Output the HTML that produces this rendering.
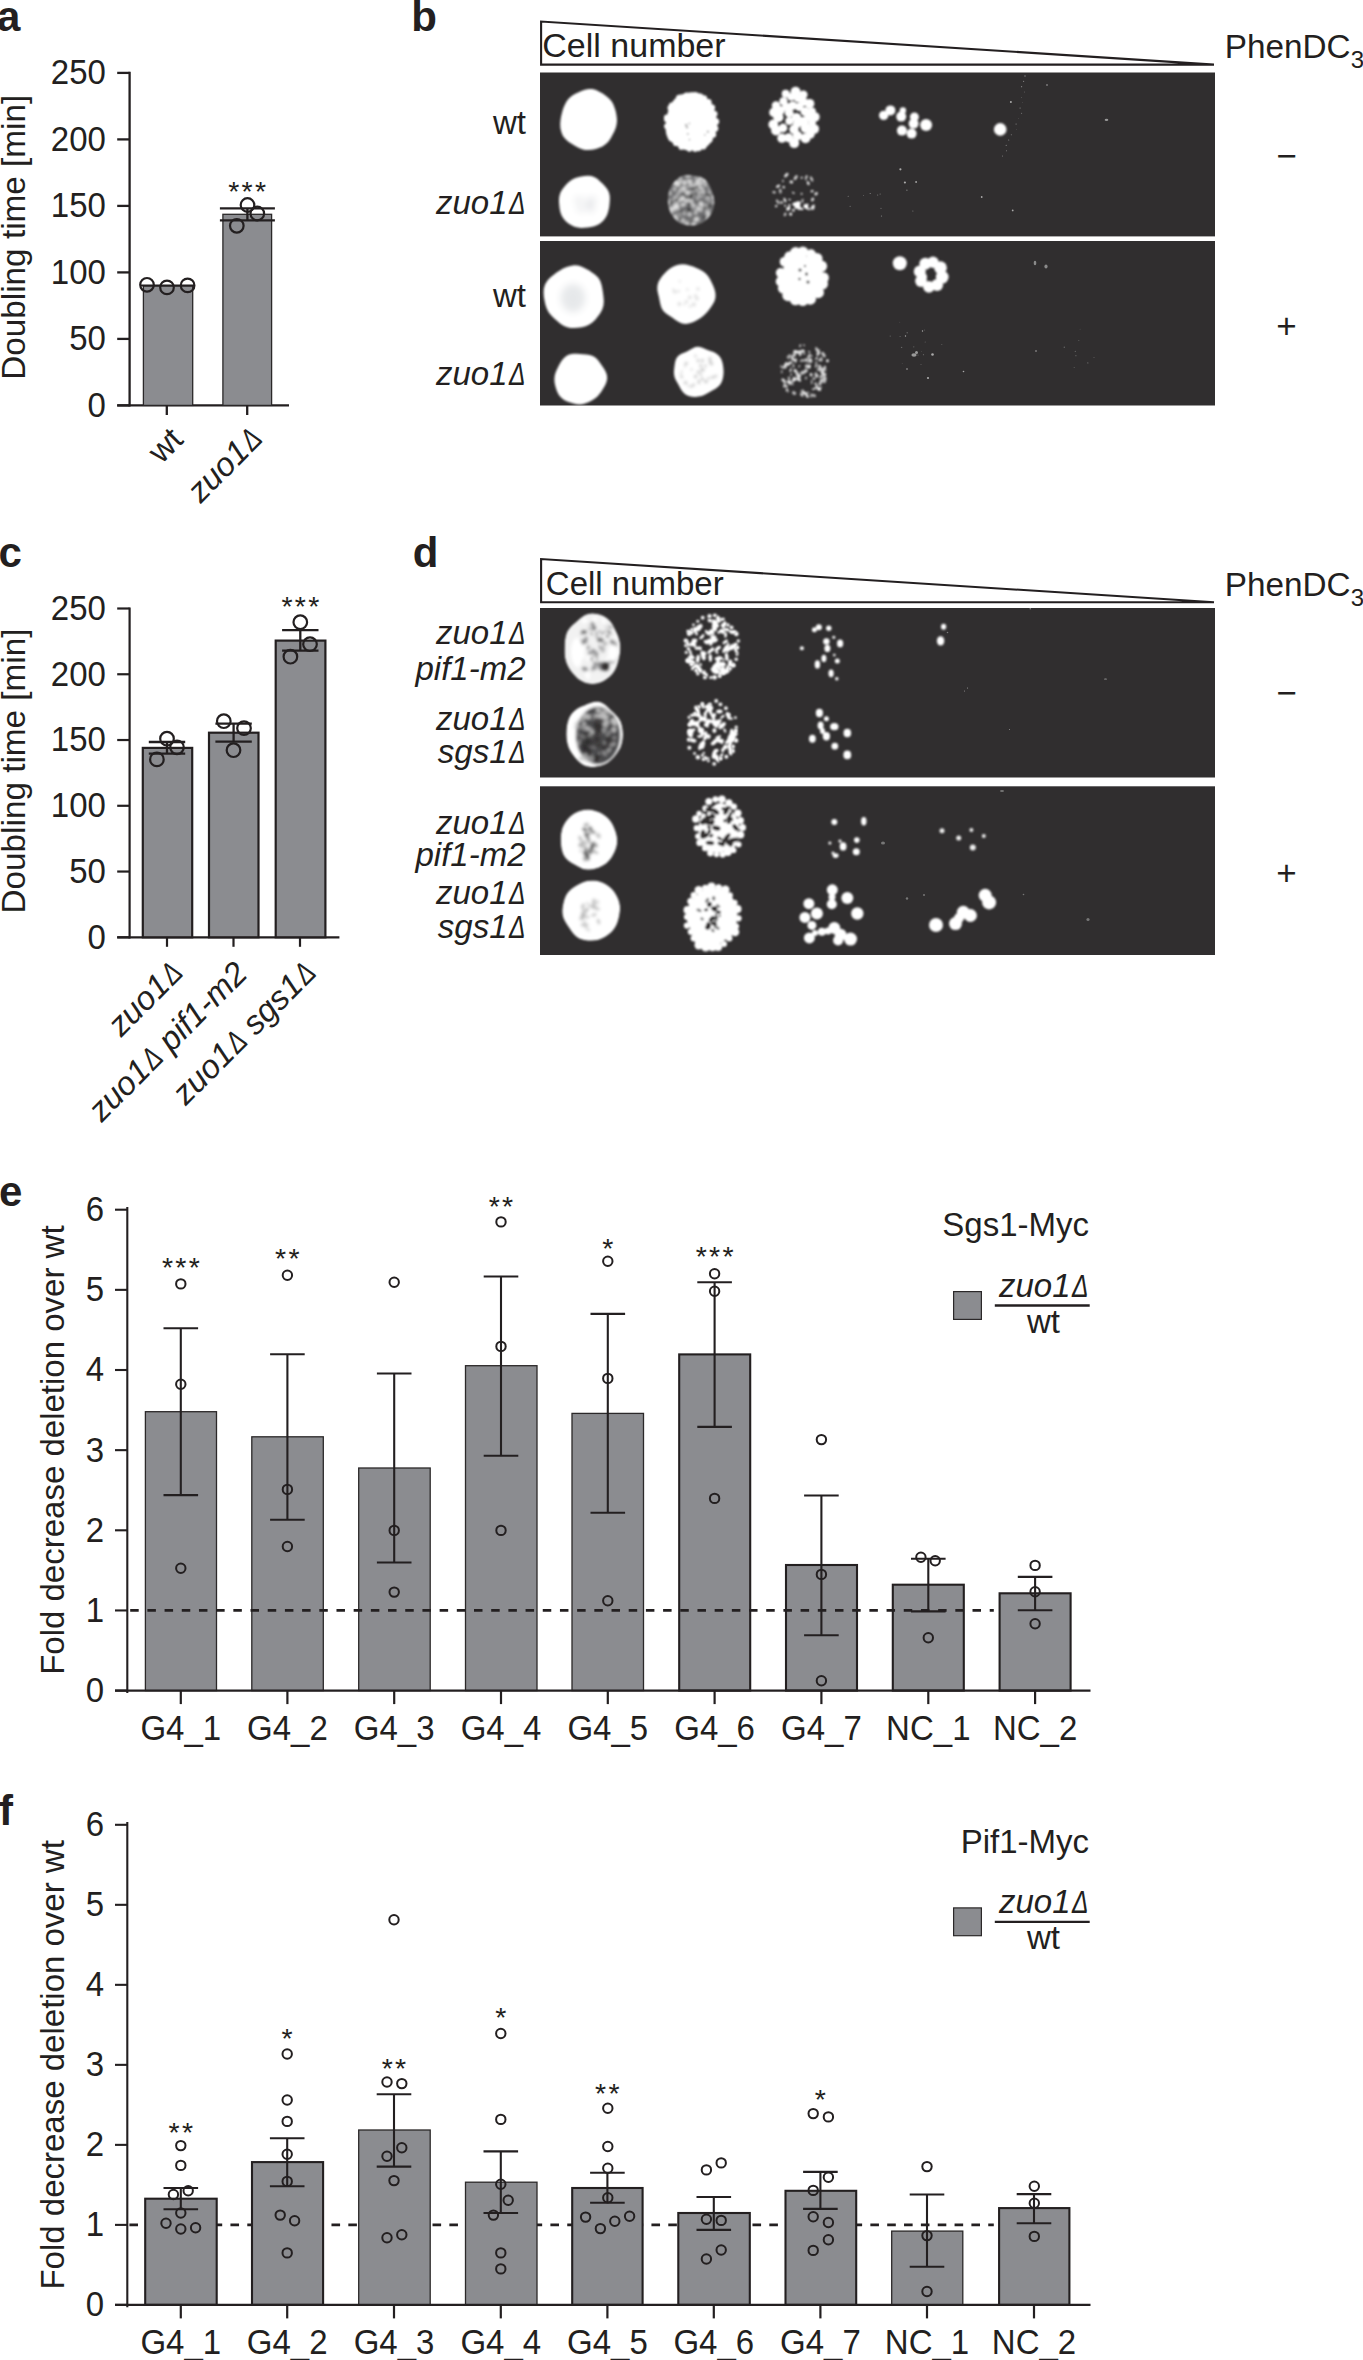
<!DOCTYPE html>
<html><head><meta charset="utf-8"><title>Figure</title>
<style>html,body{margin:0;padding:0;background:#fff}svg{display:block}text{font-family:"Liberation Sans",sans-serif;fill:#231f20}</style>
</head><body>
<svg width="1363" height="2360" viewBox="0 0 1363 2360">
<rect width="1363" height="2360" fill="#fff"/>
<text x="-2.9" y="30.9" font-size="42" font-weight="bold">a</text>
<text x="411.3" y="30.9" font-size="42" font-weight="bold">b</text>
<text x="-1.4" y="567.1" font-size="42" font-weight="bold">c</text>
<text x="412.7" y="567.1" font-size="42" font-weight="bold">d</text>
<text x="-0.9" y="1205.5" font-size="42" font-weight="bold">e</text>
<text x="-1.1" y="1824.8" font-size="42" font-weight="bold">f</text>
<line x1="129.6" y1="71.75" x2="129.6" y2="406.54999999999995" stroke="#231f20" stroke-width="2.3" />
<line x1="117.2" y1="405.4" x2="129.6" y2="405.4" stroke="#231f20" stroke-width="2.3" />
<text transform="translate(105.9 416.7) scale(1 1.045)" font-size="33" text-anchor="end">0</text>
<line x1="117.2" y1="338.9" x2="129.6" y2="338.9" stroke="#231f20" stroke-width="2.3" />
<text transform="translate(105.9 350.2) scale(1 1.045)" font-size="33" text-anchor="end">50</text>
<line x1="117.2" y1="272.4" x2="129.6" y2="272.4" stroke="#231f20" stroke-width="2.3" />
<text transform="translate(105.9 283.7) scale(1 1.045)" font-size="33" text-anchor="end">100</text>
<line x1="117.2" y1="205.89999999999998" x2="129.6" y2="205.89999999999998" stroke="#231f20" stroke-width="2.3" />
<text transform="translate(105.9 217.2) scale(1 1.045)" font-size="33" text-anchor="end">150</text>
<line x1="117.2" y1="139.39999999999998" x2="129.6" y2="139.39999999999998" stroke="#231f20" stroke-width="2.3" />
<text transform="translate(105.9 150.7) scale(1 1.045)" font-size="33" text-anchor="end">200</text>
<line x1="117.2" y1="72.89999999999998" x2="129.6" y2="72.89999999999998" stroke="#231f20" stroke-width="2.3" />
<text transform="translate(105.9 84.2) scale(1 1.045)" font-size="33" text-anchor="end">250</text>
<line x1="117.2" y1="405.4" x2="289" y2="405.4" stroke="#231f20" stroke-width="2.3" />
<text x="24.6" y="237.3" font-size="33.3" text-anchor="middle" transform="rotate(-90 24.6 237.3)" >Doubling time [min]</text>
<rect x="143.4" y="285.9" width="49.3" height="119.5" fill="#8b8c90" stroke="#2b2829" stroke-width="1.3"/>
<rect x="222.9" y="214.3" width="48.7" height="191.1" fill="#8b8c90" stroke="#2b2829" stroke-width="1.3"/>
<line x1="166.8" y1="405.4" x2="166.8" y2="415" stroke="#231f20" stroke-width="2.3" />
<line x1="247.2" y1="405.4" x2="247.2" y2="415" stroke="#231f20" stroke-width="2.3" />
<line x1="140.4" y1="285.4" x2="194" y2="285.4" stroke="#231f20" stroke-width="2" />
<circle cx="147" cy="284.8" r="6.8" fill="none" stroke="#231f20" stroke-width="2.2"/>
<circle cx="167" cy="287.4" r="6.8" fill="none" stroke="#231f20" stroke-width="2.2"/>
<circle cx="187.6" cy="285.4" r="6.8" fill="none" stroke="#231f20" stroke-width="2.2"/>
<line x1="219.9" y1="208.3" x2="274.9" y2="208.3" stroke="#231f20" stroke-width="2.3" />
<line x1="219.9" y1="220.4" x2="274.9" y2="220.4" stroke="#231f20" stroke-width="2.3" />
<line x1="247.4" y1="208.3" x2="247.4" y2="220.4" stroke="#231f20" stroke-width="2.3" />
<circle cx="247.5" cy="205" r="6.8" fill="none" stroke="#231f20" stroke-width="2.2"/>
<circle cx="257.3" cy="213.5" r="6.8" fill="none" stroke="#231f20" stroke-width="2.2"/>
<circle cx="236.8" cy="225.8" r="6.8" fill="none" stroke="#231f20" stroke-width="2.2"/>
<text x="248.3" y="200.5" font-size="28.5" text-anchor="middle" letter-spacing="2.3">***</text>
<text x="184.8" y="441.4" font-size="33" text-anchor="end" transform="rotate(-45 184.8 441.4)" >wt</text>
<text x="264" y="440.7" font-size="33" text-anchor="end" transform="rotate(-45 264 440.7)" font-style="italic">zuo1<tspan font-size="31" dx="1.5" textLength="16.5" lengthAdjust="spacingAndGlyphs">Δ</tspan></text>
<line x1="129.6" y1="607.4" x2="129.6" y2="938.4" stroke="#231f20" stroke-width="2.2" />
<line x1="117.2" y1="937.3" x2="129.6" y2="937.3" stroke="#231f20" stroke-width="2.2" />
<text transform="translate(105.9 948.6) scale(1 1.045)" font-size="33" text-anchor="end">0</text>
<line x1="117.2" y1="871.54" x2="129.6" y2="871.54" stroke="#231f20" stroke-width="2.2" />
<text transform="translate(105.9 882.8) scale(1 1.045)" font-size="33" text-anchor="end">50</text>
<line x1="117.2" y1="805.78" x2="129.6" y2="805.78" stroke="#231f20" stroke-width="2.2" />
<text transform="translate(105.9 817.1) scale(1 1.045)" font-size="33" text-anchor="end">100</text>
<line x1="117.2" y1="740.02" x2="129.6" y2="740.02" stroke="#231f20" stroke-width="2.2" />
<text transform="translate(105.9 751.3) scale(1 1.045)" font-size="33" text-anchor="end">150</text>
<line x1="117.2" y1="674.26" x2="129.6" y2="674.26" stroke="#231f20" stroke-width="2.2" />
<text transform="translate(105.9 685.6) scale(1 1.045)" font-size="33" text-anchor="end">200</text>
<line x1="117.2" y1="608.5" x2="129.6" y2="608.5" stroke="#231f20" stroke-width="2.2" />
<text transform="translate(105.9 619.8) scale(1 1.045)" font-size="33" text-anchor="end">250</text>
<line x1="117.2" y1="937.3" x2="339.4" y2="937.3" stroke="#231f20" stroke-width="2.2" />
<text x="24.6" y="771" font-size="33.3" text-anchor="middle" transform="rotate(-90 24.6 771)" >Doubling time [min]</text>
<rect x="142.8" y="747.9" width="49.4" height="189.4" fill="#8b8c90" stroke="#231f20" stroke-width="2.2"/>
<rect x="209" y="732.7" width="49.5" height="204.6" fill="#8b8c90" stroke="#231f20" stroke-width="2.2"/>
<rect x="275.7" y="640.6" width="49.7" height="296.7" fill="#8b8c90" stroke="#231f20" stroke-width="2.2"/>
<line x1="167" y1="937.3" x2="167" y2="946.8" stroke="#231f20" stroke-width="2.2" />
<line x1="233.5" y1="937.3" x2="233.5" y2="946.8" stroke="#231f20" stroke-width="2.2" />
<line x1="300" y1="937.3" x2="300" y2="946.8" stroke="#231f20" stroke-width="2.2" />
<line x1="148.8" y1="742" x2="185.2" y2="742" stroke="#231f20" stroke-width="2.3" />
<line x1="148.8" y1="753.7" x2="185.2" y2="753.7" stroke="#231f20" stroke-width="2.3" />
<line x1="167" y1="742" x2="167" y2="753.7" stroke="#231f20" stroke-width="2.3" />
<circle cx="167" cy="738.7" r="6.8" fill="none" stroke="#231f20" stroke-width="2.2"/>
<circle cx="177" cy="747.3" r="6.8" fill="none" stroke="#231f20" stroke-width="2.2"/>
<circle cx="156.9" cy="759.4" r="6.8" fill="none" stroke="#231f20" stroke-width="2.2"/>
<line x1="215.4" y1="723.6" x2="251.79999999999998" y2="723.6" stroke="#231f20" stroke-width="2.3" />
<line x1="215.4" y1="741.6" x2="251.79999999999998" y2="741.6" stroke="#231f20" stroke-width="2.3" />
<line x1="233.6" y1="723.6" x2="233.6" y2="741.6" stroke="#231f20" stroke-width="2.3" />
<circle cx="223.8" cy="721.2" r="6.8" fill="none" stroke="#231f20" stroke-width="2.2"/>
<circle cx="244" cy="728.2" r="6.8" fill="none" stroke="#231f20" stroke-width="2.2"/>
<circle cx="233.5" cy="750.2" r="6.8" fill="none" stroke="#231f20" stroke-width="2.2"/>
<line x1="282.1" y1="630.1" x2="318.5" y2="630.1" stroke="#231f20" stroke-width="2.3" />
<line x1="282.1" y1="650.6" x2="318.5" y2="650.6" stroke="#231f20" stroke-width="2.3" />
<line x1="300.3" y1="630.1" x2="300.3" y2="650.6" stroke="#231f20" stroke-width="2.3" />
<circle cx="300.3" cy="622.2" r="6.8" fill="none" stroke="#231f20" stroke-width="2.2"/>
<circle cx="310" cy="644.2" r="6.8" fill="none" stroke="#231f20" stroke-width="2.2"/>
<circle cx="290.4" cy="656.7" r="6.8" fill="none" stroke="#231f20" stroke-width="2.2"/>
<text x="301.5" y="615.7" font-size="28.5" text-anchor="middle" letter-spacing="2.3">***</text>
<text x="184.5" y="974.5" font-size="33" text-anchor="end" transform="rotate(-45 184.5 974.5)" font-style="italic">zuo1<tspan font-size="31" dx="1.5" textLength="16.5" lengthAdjust="spacingAndGlyphs">Δ</tspan></text>
<text x="249.3" y="975.4" font-size="33" text-anchor="end" transform="rotate(-45 249.3 975.4)" font-style="italic">zuo1<tspan font-size="31" dx="1.5" textLength="16.5" lengthAdjust="spacingAndGlyphs">Δ</tspan> pif1-m2</text>
<text x="317.7" y="974.5" font-size="33" text-anchor="end" transform="rotate(-45 317.7 974.5)" font-style="italic">zuo1<tspan font-size="31" dx="1.5" textLength="16.5" lengthAdjust="spacingAndGlyphs">Δ</tspan> sgs1<tspan font-size="31" dx="1.5" textLength="16.5" lengthAdjust="spacingAndGlyphs">Δ</tspan></text>
<polygon points="541.1,21.5 541.1,64.6 1214,64.6" fill="#fff" stroke="#231f20" stroke-width="2.1" stroke-linejoin="miter"/>
<text x="542.3" y="57.4" font-size="34" text-anchor="start" >Cell number</text>
<polygon points="541.1,559 541.1,602.3 1214,602.3" fill="#fff" stroke="#231f20" stroke-width="2.1" stroke-linejoin="miter"/>
<text x="545.8" y="595.2" font-size="33" text-anchor="start" >Cell number</text>
<text x="1224.8" y="57.8" font-size="33.3">PhenDC<tspan font-size="24" dy="10">3</tspan></text>
<text x="1224.8" y="595.6" font-size="33.3">PhenDC<tspan font-size="24" dy="10">3</tspan></text>
<text x="1276.2" y="167.6" font-size="35">−</text>
<text x="1276.2" y="705.3" font-size="35">−</text>
<text x="1276.2" y="337.9" font-size="35">+</text>
<text x="1276.2" y="884.6" font-size="35">+</text>
<text x="526" y="133.8" font-size="33" text-anchor="end" >wt</text>
<text x="525.5" y="213.7" font-size="33" text-anchor="end" font-style="italic">zuo1<tspan font-size="31" dx="1.5" textLength="16.5" lengthAdjust="spacingAndGlyphs">Δ</tspan></text>
<text x="526" y="307" font-size="33" text-anchor="end" >wt</text>
<text x="525.5" y="384.8" font-size="33" text-anchor="end" font-style="italic">zuo1<tspan font-size="31" dx="1.5" textLength="16.5" lengthAdjust="spacingAndGlyphs">Δ</tspan></text>
<text x="525.5" y="644.4" font-size="33" text-anchor="end" font-style="italic">zuo1<tspan font-size="31" dx="1.5" textLength="16.5" lengthAdjust="spacingAndGlyphs">Δ</tspan></text>
<text x="525.5" y="679.6" font-size="33" text-anchor="end" font-style="italic">pif1-m2</text>
<text x="525.5" y="729.6" font-size="33" text-anchor="end" font-style="italic">zuo1<tspan font-size="31" dx="1.5" textLength="16.5" lengthAdjust="spacingAndGlyphs">Δ</tspan></text>
<text x="525.5" y="763.4" font-size="33" text-anchor="end" font-style="italic">sgs1<tspan font-size="31" dx="1.5" textLength="16.5" lengthAdjust="spacingAndGlyphs">Δ</tspan></text>
<text x="525.5" y="833.5" font-size="33" text-anchor="end" font-style="italic">zuo1<tspan font-size="31" dx="1.5" textLength="16.5" lengthAdjust="spacingAndGlyphs">Δ</tspan></text>
<text x="525.5" y="866.2" font-size="33" text-anchor="end" font-style="italic">pif1-m2</text>
<text x="525.5" y="904.2" font-size="33" text-anchor="end" font-style="italic">zuo1<tspan font-size="31" dx="1.5" textLength="16.5" lengthAdjust="spacingAndGlyphs">Δ</tspan></text>
<text x="525.5" y="938.4" font-size="33" text-anchor="end" font-style="italic">sgs1<tspan font-size="31" dx="1.5" textLength="16.5" lengthAdjust="spacingAndGlyphs">Δ</tspan></text>
<rect x="540" y="72.5" width="675" height="163.9" fill="#302e2f"/>
<rect x="540" y="241" width="675" height="164.5" fill="#302e2f"/>
<rect x="540" y="608" width="675" height="169.5" fill="#302e2f"/>
<rect x="540" y="786.3" width="675" height="168.7" fill="#302e2f"/>
<defs><filter id="bl" x="-5%" y="-5%" width="110%" height="110%"><feGaussianBlur stdDeviation="0.8"/></filter><filter id="bl2" x="-50%" y="-50%" width="200%" height="200%"><feGaussianBlur stdDeviation="3.5"/></filter><filter id="bl1" x="-20%" y="-20%" width="140%" height="140%"><feGaussianBlur stdDeviation="1.1"/></filter></defs>
<clipPath id="lefthalf"><rect x="560" y="700" width="27" height="70"/></clipPath>
<clipPath id="pb1"><rect x="540" y="72.5" width="675" height="163.9"/></clipPath>
<clipPath id="pb2"><rect x="540" y="241" width="675" height="164.5"/></clipPath>
<clipPath id="pd1"><rect x="540" y="608" width="675" height="169.5"/></clipPath>
<clipPath id="pd2"><rect x="540" y="786.3" width="675" height="168.7"/></clipPath>
<g clip-path="url(#pb1)"><g filter="url(#bl)">
<path d="M617.0,119.9 616.7,123.9 615.8,127.7 614.3,131.4 612.6,134.8 610.7,138.2 608.5,141.4 605.9,144.1 602.7,146.3 599.3,147.8 595.8,148.9 592.2,149.7 588.6,150.1 584.9,149.9 581.4,149.0 578.0,147.5 574.8,145.7 571.6,143.8 568.4,141.7 565.4,139.1 562.9,135.9 561.3,132.1 560.4,128.0 560.2,123.9 560.5,119.9 561.2,116.0 562.1,112.2 563.2,108.6 564.7,105.0 566.5,101.6 568.8,98.5 571.6,96.0 574.8,94.1 578.1,92.5 581.4,91.1 584.9,89.8 588.6,89.0 592.4,89.1 596.0,90.1 599.4,91.7 602.7,93.6 605.8,95.8 608.8,98.2 611.4,101.1 613.4,104.5 614.8,108.2 615.9,112.0 616.6,115.9Z" fill="#fff"/>
<path d="M717.1,121.9 717.1,125.7 716.5,129.4 715.3,132.9 713.9,136.3 712.3,139.8 710.4,143.0 707.9,145.8 704.8,147.7 701.4,148.8 698.0,149.4 694.6,149.9 691.3,150.3 687.9,150.4 684.5,149.8 681.4,148.5 678.3,146.8 675.4,144.9 672.4,142.8 669.6,140.3 667.4,137.2 666.1,133.5 665.6,129.5 665.6,125.6 666.0,121.9 666.5,118.3 667.2,114.8 668.1,111.3 669.3,107.8 670.8,104.5 672.7,101.4 675.2,98.6 678.0,96.5 681.2,94.8 684.5,93.6 687.8,92.7 691.3,92.2 694.8,92.3 698.3,93.1 701.5,94.6 704.5,96.5 707.3,98.8 709.9,101.3 712.0,104.3 713.6,107.6 714.8,111.1 715.8,114.6 716.6,118.2Z" fill="#fff"/>
<circle cx="715.8" cy="121.6" r="3.4" fill="#fff"/>
<circle cx="715.1" cy="128.5" r="3.2" fill="#fff"/>
<circle cx="713.0" cy="134.6" r="3.2" fill="#fff"/>
<circle cx="709.8" cy="139.8" r="2.8" fill="#fff"/>
<circle cx="703.1" cy="145.8" r="3.6" fill="#fff"/>
<circle cx="698.4" cy="148.0" r="3.3" fill="#fff"/>
<circle cx="695.1" cy="148.9" r="2.8" fill="#fff"/>
<circle cx="689.4" cy="149.1" r="2.6" fill="#fff"/>
<circle cx="681.4" cy="146.9" r="2.9" fill="#fff"/>
<circle cx="676.0" cy="143.2" r="2.9" fill="#fff"/>
<circle cx="671.6" cy="138.1" r="3.4" fill="#fff"/>
<circle cx="670.8" cy="136.9" r="2.7" fill="#fff"/>
<circle cx="667.1" cy="126.2" r="3.0" fill="#fff"/>
<circle cx="666.9" cy="119.3" r="2.9" fill="#fff"/>
<circle cx="667.1" cy="117.7" r="3.2" fill="#fff"/>
<circle cx="670.3" cy="107.9" r="2.8" fill="#fff"/>
<circle cx="671.7" cy="105.5" r="2.9" fill="#fff"/>
<circle cx="679.3" cy="98.1" r="3.3" fill="#fff"/>
<circle cx="680.9" cy="97.2" r="2.8" fill="#fff"/>
<circle cx="686.4" cy="95.1" r="2.6" fill="#fff"/>
<circle cx="695.7" cy="95.0" r="2.7" fill="#fff"/>
<circle cx="700.3" cy="96.5" r="3.0" fill="#fff"/>
<circle cx="703.9" cy="98.5" r="3.3" fill="#fff"/>
<circle cx="708.4" cy="102.3" r="3.2" fill="#fff"/>
<circle cx="712.1" cy="107.4" r="3.0" fill="#fff"/>
<circle cx="714.7" cy="113.9" r="2.8" fill="#fff"/>
<circle cx="689.5" cy="139.7" r="0.9" fill="#bbb"/>
<circle cx="704.9" cy="134.8" r="0.9" fill="#bbb"/>
<circle cx="687.0" cy="127.2" r="1.3" fill="#bbb"/>
<circle cx="689.3" cy="123.5" r="0.9" fill="#bbb"/>
<circle cx="687.8" cy="134.0" r="1.1" fill="#bbb"/>
<circle cx="707.9" cy="131.7" r="1.2" fill="#bbb"/>
<circle cx="686.1" cy="125.1" r="1.4" fill="#bbb"/>
<circle cx="783.5" cy="101.3" r="4.1" fill="#fff"/>
<circle cx="812.0" cy="122.8" r="3.9" fill="#fff"/>
<circle cx="791.3" cy="96.8" r="3.9" fill="#fff"/>
<circle cx="783.0" cy="128.0" r="4.4" fill="#fff"/>
<circle cx="799.1" cy="106.7" r="4.3" fill="#fff"/>
<circle cx="797.5" cy="135.7" r="4.7" fill="#fff"/>
<circle cx="780.2" cy="110.6" r="4.6" fill="#fff"/>
<circle cx="798.0" cy="98.2" r="4.0" fill="#fff"/>
<circle cx="788.6" cy="137.7" r="4.5" fill="#fff"/>
<circle cx="803.4" cy="121.8" r="5.0" fill="#fff"/>
<circle cx="773.3" cy="124.5" r="4.9" fill="#fff"/>
<circle cx="794.0" cy="129.4" r="4.7" fill="#fff"/>
<circle cx="805.5" cy="138.2" r="5.0" fill="#fff"/>
<circle cx="805.5" cy="128.0" r="5.0" fill="#fff"/>
<circle cx="805.1" cy="111.6" r="4.6" fill="#fff"/>
<circle cx="776.1" cy="130.4" r="5.0" fill="#fff"/>
<circle cx="811.9" cy="111.4" r="4.0" fill="#fff"/>
<circle cx="778.4" cy="117.2" r="5.1" fill="#fff"/>
<circle cx="792.6" cy="105.7" r="4.4" fill="#fff"/>
<circle cx="809.6" cy="103.7" r="4.8" fill="#fff"/>
<circle cx="814.3" cy="129.0" r="4.8" fill="#fff"/>
<circle cx="789.3" cy="121.0" r="4.0" fill="#fff"/>
<circle cx="781.9" cy="138.2" r="4.6" fill="#fff"/>
<circle cx="814.9" cy="117.0" r="4.8" fill="#fff"/>
<circle cx="796.4" cy="117.6" r="4.7" fill="#fff"/>
<circle cx="803.4" cy="94.8" r="4.2" fill="#fff"/>
<circle cx="789.2" cy="112.9" r="4.4" fill="#fff"/>
<circle cx="810.4" cy="134.1" r="4.4" fill="#fff"/>
<circle cx="776.0" cy="105.4" r="4.2" fill="#fff"/>
<circle cx="794.2" cy="143.1" r="5.0" fill="#fff"/>
<circle cx="774.1" cy="112.4" r="4.9" fill="#fff"/>
<circle cx="795.6" cy="91.8" r="5.0" fill="#fff"/>
<circle cx="785.7" cy="93.7" r="4.0" fill="#fff"/>
<circle cx="803.4" cy="101.8" r="4.4" fill="#fff"/>
<circle cx="797.2" cy="123.8" r="4.3" fill="#fff"/>
<circle cx="808.3" cy="117.1" r="3.9" fill="#fff"/>
<circle cx="786.3" cy="106.9" r="4.2" fill="#fff"/>
<path d="M609.7,202.2 609.4,205.5 608.9,208.8 608.1,212.1 606.9,215.3 605.2,218.3 603.0,221.0 600.4,223.3 597.5,225.0 594.3,226.2 591.0,226.9 587.8,227.4 584.5,227.8 581.2,227.9 577.8,227.5 574.5,226.7 571.4,225.3 568.5,223.4 565.8,221.2 563.4,218.6 561.6,215.6 560.4,212.3 559.7,209.0 559.3,205.6 559.0,202.2 559.0,198.8 559.5,195.4 560.6,192.2 562.4,189.2 564.5,186.6 566.7,184.1 569.1,181.8 571.8,179.8 574.7,178.3 577.9,177.2 581.2,176.5 584.5,176.0 587.9,175.7 591.4,176.1 594.7,177.3 597.6,179.1 600.2,181.4 602.7,183.8 605.0,186.2 607.2,188.9 608.8,192.0 609.7,195.4 609.9,198.8Z" fill="#fff"/>
<g filter="url(#bl2)">
<circle cx="592.1" cy="200.1" r="3.6" fill="#dfe1e4" opacity="0.65"/>
<circle cx="589.1" cy="202.7" r="3.5" fill="#dfe1e4" opacity="0.72"/>
<circle cx="590.9" cy="208.1" r="3.9" fill="#dfe1e4" opacity="0.44"/>
<circle cx="589.9" cy="207.5" r="3.7" fill="#dfe1e4" opacity="0.67"/>
<circle cx="579.0" cy="200.4" r="4.3" fill="#dfe1e4" opacity="0.54"/>
<circle cx="580.7" cy="208.8" r="3.4" fill="#dfe1e4" opacity="0.67"/>
</g>
</g>
<clipPath id="cc1"><path d="M714.3,200.3 714.4,203.6 714.0,207.0 713.1,210.2 711.8,213.3 710.0,216.1 707.9,218.6 705.5,220.8 702.9,222.7 700.1,224.1 697.1,225.1 694.0,225.5 690.9,225.6 687.8,225.4 684.8,225.0 681.7,224.2 678.8,222.8 676.3,220.8 674.1,218.4 672.2,215.7 670.6,212.9 669.4,209.9 668.5,206.8 668.0,203.5 667.8,200.3 667.9,197.0 668.3,193.8 669.1,190.6 670.3,187.5 671.9,184.6 674.0,182.1 676.2,179.7 678.7,177.6 681.5,176.0 684.6,175.0 687.8,174.7 690.9,174.9 693.9,175.4 697.0,175.9 700.0,176.6 703.0,177.8 705.6,179.7 707.8,182.2 709.4,185.0 710.7,188.0 711.9,190.9 712.9,193.9 713.8,197.1Z"/></clipPath><g filter="url(#bl)"><g clip-path="url(#cc1)">
<path d="M714.3,200.3 714.4,203.6 714.0,207.0 713.1,210.2 711.8,213.3 710.0,216.1 707.9,218.6 705.5,220.8 702.9,222.7 700.1,224.1 697.1,225.1 694.0,225.5 690.9,225.6 687.8,225.4 684.8,225.0 681.7,224.2 678.8,222.8 676.3,220.8 674.1,218.4 672.2,215.7 670.6,212.9 669.4,209.9 668.5,206.8 668.0,203.5 667.8,200.3 667.9,197.0 668.3,193.8 669.1,190.6 670.3,187.5 671.9,184.6 674.0,182.1 676.2,179.7 678.7,177.6 681.5,176.0 684.6,175.0 687.8,174.7 690.9,174.9 693.9,175.4 697.0,175.9 700.0,176.6 703.0,177.8 705.6,179.7 707.8,182.2 709.4,185.0 710.7,188.0 711.9,190.9 712.9,193.9 713.8,197.1Z" fill="#6a6a6c"/>
<g filter="url(#bl)">
<circle cx="701.1" cy="204.8" r="1.3" fill="#e8e8e8" opacity="0.97"/>
<circle cx="696.6" cy="208.7" r="2.2" fill="#e8e8e8" opacity="0.77"/>
<circle cx="684.4" cy="213.9" r="1.5" fill="#e8e8e8" opacity="0.74"/>
<circle cx="687.4" cy="224.3" r="1.5" fill="#e8e8e8" opacity="0.66"/>
<circle cx="714.2" cy="202.4" r="1.6" fill="#e8e8e8"/>
<circle cx="699.3" cy="187.5" r="1.9" fill="#e8e8e8" opacity="0.85"/>
<circle cx="680.0" cy="177.8" r="1.7" fill="#e8e8e8" opacity="0.78"/>
<circle cx="692.9" cy="192.2" r="1.4" fill="#e8e8e8" opacity="0.62"/>
<circle cx="689.9" cy="214.5" r="1.2" fill="#e8e8e8" opacity="0.69"/>
<circle cx="689.7" cy="214.5" r="2.3" fill="#e8e8e8" opacity="0.63"/>
<circle cx="676.6" cy="206.0" r="2.4" fill="#e8e8e8" opacity="0.95"/>
<circle cx="708.8" cy="196.7" r="1.5" fill="#e8e8e8" opacity="0.72"/>
<circle cx="675.3" cy="188.5" r="1.2" fill="#e8e8e8" opacity="0.83"/>
<circle cx="706.3" cy="195.9" r="1.4" fill="#e8e8e8" opacity="0.74"/>
<circle cx="670.2" cy="193.8" r="1.5" fill="#e8e8e8" opacity="0.88"/>
<circle cx="688.5" cy="198.6" r="2.3" fill="#e8e8e8" opacity="0.78"/>
<circle cx="688.2" cy="192.4" r="1.3" fill="#e8e8e8" opacity="0.69"/>
<circle cx="687.0" cy="193.7" r="1.7" fill="#e8e8e8" opacity="0.67"/>
<circle cx="697.9" cy="219.5" r="1.6" fill="#e8e8e8" opacity="0.96"/>
<circle cx="704.8" cy="180.5" r="2.2" fill="#e8e8e8" opacity="0.95"/>
<circle cx="714.2" cy="197.7" r="2.3" fill="#e8e8e8" opacity="0.90"/>
<circle cx="691.9" cy="192.3" r="1.3" fill="#e8e8e8" opacity="0.65"/>
<circle cx="708.3" cy="213.7" r="1.9" fill="#e8e8e8" opacity="0.80"/>
<circle cx="673.7" cy="208.5" r="1.7" fill="#e8e8e8" opacity="0.84"/>
<circle cx="693.7" cy="224.8" r="1.8" fill="#e8e8e8" opacity="0.69"/>
<circle cx="684.5" cy="204.3" r="1.7" fill="#e8e8e8" opacity="0.82"/>
<circle cx="693.6" cy="225.6" r="2.1" fill="#e8e8e8" opacity="0.74"/>
<circle cx="697.5" cy="181.2" r="2.2" fill="#e8e8e8" opacity="0.77"/>
<circle cx="677.4" cy="202.3" r="1.3" fill="#e8e8e8" opacity="0.93"/>
<circle cx="701.2" cy="195.7" r="2.2" fill="#e8e8e8" opacity="0.62"/>
<circle cx="709.0" cy="210.6" r="1.4" fill="#e8e8e8" opacity="0.61"/>
<circle cx="676.7" cy="183.5" r="2.4" fill="#e8e8e8" opacity="0.83"/>
<circle cx="696.7" cy="218.5" r="2.2" fill="#e8e8e8" opacity="0.60"/>
<circle cx="700.8" cy="203.8" r="2.0" fill="#e8e8e8" opacity="0.87"/>
<circle cx="683.0" cy="188.7" r="2.0" fill="#e8e8e8" opacity="0.88"/>
<circle cx="710.2" cy="191.7" r="1.3" fill="#e8e8e8" opacity="0.66"/>
<circle cx="675.3" cy="182.7" r="2.3" fill="#e8e8e8" opacity="0.63"/>
<circle cx="700.6" cy="178.3" r="1.6" fill="#e8e8e8" opacity="0.86"/>
<circle cx="705.8" cy="184.9" r="1.6" fill="#e8e8e8" opacity="0.74"/>
<circle cx="686.1" cy="212.0" r="1.5" fill="#e8e8e8" opacity="0.84"/>
<circle cx="695.5" cy="213.2" r="1.8" fill="#e8e8e8" opacity="0.80"/>
<circle cx="697.6" cy="198.7" r="1.4" fill="#e8e8e8" opacity="0.85"/>
<circle cx="684.8" cy="222.0" r="2.0" fill="#e8e8e8" opacity="0.60"/>
<circle cx="700.3" cy="192.7" r="2.2" fill="#e8e8e8" opacity="0.88"/>
<circle cx="683.9" cy="196.8" r="1.9" fill="#e8e8e8"/>
<circle cx="669.1" cy="208.7" r="2.4" fill="#e8e8e8" opacity="0.60"/>
<circle cx="667.4" cy="203.5" r="2.1" fill="#e8e8e8" opacity="0.71"/>
<circle cx="694.2" cy="185.8" r="2.2" fill="#e8e8e8" opacity="0.66"/>
<circle cx="679.0" cy="200.9" r="1.6" fill="#e8e8e8" opacity="0.77"/>
<circle cx="709.1" cy="194.8" r="1.7" fill="#e8e8e8" opacity="0.84"/>
<circle cx="692.1" cy="181.1" r="1.3" fill="#e8e8e8" opacity="0.60"/>
<circle cx="684.4" cy="182.6" r="2.2" fill="#e8e8e8" opacity="0.94"/>
<circle cx="688.9" cy="192.5" r="1.4" fill="#e8e8e8" opacity="0.60"/>
<circle cx="693.6" cy="225.2" r="2.0" fill="#e8e8e8"/>
<circle cx="705.8" cy="208.4" r="1.7" fill="#e8e8e8" opacity="0.70"/>
<circle cx="686.3" cy="200.3" r="2.2" fill="#e8e8e8" opacity="0.99"/>
<circle cx="696.2" cy="212.0" r="1.2" fill="#e8e8e8" opacity="0.75"/>
<circle cx="682.4" cy="204.9" r="2.0" fill="#e8e8e8" opacity="0.86"/>
<circle cx="696.8" cy="207.4" r="1.8" fill="#e8e8e8" opacity="0.93"/>
<circle cx="678.1" cy="208.7" r="1.4" fill="#e8e8e8" opacity="0.97"/>
<circle cx="674.5" cy="204.6" r="1.8" fill="#e8e8e8" opacity="0.61"/>
<circle cx="690.5" cy="184.8" r="2.2" fill="#e8e8e8" opacity="0.83"/>
<circle cx="674.6" cy="200.8" r="1.2" fill="#e8e8e8" opacity="0.73"/>
<circle cx="689.5" cy="176.1" r="1.5" fill="#e8e8e8" opacity="0.95"/>
<circle cx="691.6" cy="199.3" r="1.3" fill="#e8e8e8" opacity="0.94"/>
<circle cx="678.6" cy="212.6" r="1.3" fill="#e8e8e8" opacity="0.71"/>
<circle cx="683.7" cy="186.8" r="1.9" fill="#e8e8e8" opacity="0.60"/>
<circle cx="685.4" cy="183.1" r="1.7" fill="#e8e8e8" opacity="0.73"/>
<circle cx="669.5" cy="200.5" r="1.2" fill="#e8e8e8" opacity="0.66"/>
<circle cx="690.4" cy="201.7" r="2.3" fill="#e8e8e8" opacity="0.86"/>
<circle cx="701.8" cy="188.5" r="1.7" fill="#e8e8e8" opacity="0.88"/>
<circle cx="681.6" cy="198.3" r="2.0" fill="#e8e8e8" opacity="0.73"/>
<circle cx="697.3" cy="185.4" r="2.1" fill="#e8e8e8" opacity="0.70"/>
<circle cx="696.0" cy="183.5" r="1.2" fill="#e8e8e8" opacity="0.80"/>
<circle cx="682.4" cy="199.5" r="1.8" fill="#e8e8e8" opacity="0.67"/>
<circle cx="677.6" cy="194.2" r="1.4" fill="#e8e8e8" opacity="0.83"/>
<circle cx="693.6" cy="205.2" r="1.7" fill="#e8e8e8" opacity="0.91"/>
<circle cx="675.1" cy="181.5" r="2.0" fill="#e8e8e8" opacity="0.79"/>
<circle cx="709.2" cy="201.1" r="1.5" fill="#e8e8e8" opacity="0.62"/>
<circle cx="703.4" cy="192.2" r="1.6" fill="#e8e8e8" opacity="0.95"/>
<circle cx="701.0" cy="183.3" r="2.1" fill="#e8e8e8" opacity="0.82"/>
<circle cx="713.2" cy="195.3" r="1.3" fill="#e8e8e8" opacity="0.76"/>
<circle cx="696.2" cy="219.0" r="1.8" fill="#e8e8e8" opacity="0.73"/>
<circle cx="708.8" cy="192.6" r="1.5" fill="#e8e8e8" opacity="0.65"/>
<circle cx="677.5" cy="218.9" r="2.3" fill="#e8e8e8" opacity="0.68"/>
<circle cx="675.3" cy="198.0" r="2.2" fill="#e8e8e8" opacity="0.83"/>
<circle cx="695.1" cy="221.7" r="1.7" fill="#e8e8e8" opacity="0.62"/>
<circle cx="700.7" cy="210.1" r="1.9" fill="#e8e8e8" opacity="0.80"/>
<circle cx="671.2" cy="200.4" r="1.5" fill="#e8e8e8" opacity="0.91"/>
<circle cx="679.9" cy="197.8" r="2.3" fill="#e8e8e8" opacity="0.69"/>
<circle cx="698.6" cy="208.0" r="1.5" fill="#e8e8e8" opacity="0.81"/>
<circle cx="680.0" cy="213.3" r="1.3" fill="#e8e8e8" opacity="0.74"/>
<circle cx="700.6" cy="178.5" r="2.2" fill="#e8e8e8" opacity="0.67"/>
<circle cx="678.3" cy="185.8" r="1.4" fill="#e8e8e8" opacity="0.90"/>
<circle cx="679.8" cy="216.9" r="1.5" fill="#e8e8e8" opacity="0.86"/>
<circle cx="679.9" cy="191.2" r="1.9" fill="#e8e8e8" opacity="0.81"/>
<circle cx="680.4" cy="199.3" r="1.7" fill="#e8e8e8" opacity="0.86"/>
<circle cx="708.4" cy="193.3" r="1.4" fill="#e8e8e8" opacity="0.88"/>
<circle cx="691.1" cy="201.0" r="2.3" fill="#e8e8e8" opacity="0.65"/>
<circle cx="691.4" cy="204.0" r="1.7" fill="#e8e8e8" opacity="0.80"/>
<circle cx="677.4" cy="205.7" r="2.1" fill="#e8e8e8" opacity="0.62"/>
<circle cx="675.1" cy="183.0" r="2.0" fill="#e8e8e8" opacity="0.67"/>
<circle cx="685.0" cy="180.1" r="1.3" fill="#e8e8e8" opacity="0.73"/>
<circle cx="698.3" cy="185.3" r="1.5" fill="#e8e8e8" opacity="0.93"/>
<circle cx="708.6" cy="188.5" r="1.3" fill="#e8e8e8" opacity="0.60"/>
<circle cx="691.9" cy="224.4" r="1.8" fill="#e8e8e8" opacity="0.68"/>
<circle cx="675.4" cy="216.7" r="2.3" fill="#e8e8e8" opacity="0.82"/>
<circle cx="689.1" cy="180.4" r="1.9" fill="#e8e8e8" opacity="0.89"/>
<circle cx="680.4" cy="181.1" r="2.2" fill="#e8e8e8" opacity="0.70"/>
<circle cx="698.0" cy="195.2" r="1.5" fill="#e8e8e8" opacity="0.82"/>
<circle cx="668.1" cy="202.4" r="1.6" fill="#e8e8e8" opacity="0.70"/>
<circle cx="687.3" cy="199.5" r="1.9" fill="#e8e8e8"/>
<circle cx="685.0" cy="188.8" r="1.4" fill="#e8e8e8" opacity="0.82"/>
<circle cx="678.7" cy="183.5" r="1.9" fill="#e8e8e8" opacity="0.81"/>
<circle cx="670.6" cy="212.3" r="2.3" fill="#e8e8e8" opacity="0.77"/>
<circle cx="688.6" cy="222.5" r="1.7" fill="#e8e8e8" opacity="0.64"/>
<circle cx="713.8" cy="202.6" r="1.5" fill="#e8e8e8" opacity="0.88"/>
<circle cx="698.4" cy="208.7" r="1.9" fill="#e8e8e8" opacity="0.72"/>
<circle cx="675.5" cy="207.3" r="2.0" fill="#e8e8e8" opacity="0.66"/>
<circle cx="696.3" cy="189.2" r="1.4" fill="#e8e8e8" opacity="0.89"/>
<circle cx="695.8" cy="185.3" r="1.9" fill="#e8e8e8" opacity="0.87"/>
<circle cx="684.4" cy="212.4" r="1.2" fill="#e8e8e8" opacity="0.62"/>
<circle cx="687.3" cy="224.4" r="2.1" fill="#e8e8e8" opacity="0.70"/>
<circle cx="685.1" cy="191.8" r="2.3" fill="#e8e8e8" opacity="0.61"/>
<circle cx="677.0" cy="182.7" r="1.3" fill="#e8e8e8" opacity="0.92"/>
<circle cx="705.3" cy="184.7" r="1.8" fill="#e8e8e8" opacity="0.61"/>
<circle cx="681.6" cy="220.1" r="2.1" fill="#e8e8e8" opacity="0.90"/>
<circle cx="680.0" cy="202.6" r="1.3" fill="#e8e8e8" opacity="0.69"/>
<circle cx="695.6" cy="177.3" r="1.4" fill="#e8e8e8" opacity="0.64"/>
<circle cx="673.0" cy="208.3" r="2.2" fill="#e8e8e8" opacity="0.74"/>
<circle cx="705.9" cy="207.9" r="1.6" fill="#e8e8e8" opacity="0.82"/>
<circle cx="687.5" cy="186.4" r="1.4" fill="#e8e8e8" opacity="0.95"/>
<circle cx="670.9" cy="209.7" r="1.4" fill="#e8e8e8" opacity="0.97"/>
<circle cx="693.9" cy="207.7" r="1.7" fill="#e8e8e8" opacity="0.67"/>
<circle cx="677.8" cy="202.8" r="1.3" fill="#e8e8e8" opacity="0.86"/>
<circle cx="690.0" cy="221.6" r="2.1" fill="#e8e8e8" opacity="0.64"/>
<circle cx="693.6" cy="195.2" r="1.9" fill="#e8e8e8" opacity="0.70"/>
<circle cx="689.4" cy="181.3" r="2.0" fill="#e8e8e8" opacity="0.96"/>
<circle cx="708.9" cy="197.3" r="1.7" fill="#e8e8e8" opacity="0.93"/>
<circle cx="688.9" cy="213.6" r="1.4" fill="#e8e8e8" opacity="0.77"/>
<circle cx="676.8" cy="185.1" r="1.8" fill="#e8e8e8" opacity="0.61"/>
<circle cx="688.2" cy="192.5" r="2.1" fill="#e8e8e8" opacity="0.96"/>
<circle cx="706.9" cy="216.5" r="1.6" fill="#e8e8e8" opacity="0.64"/>
<circle cx="689.2" cy="223.4" r="1.8" fill="#e8e8e8" opacity="0.72"/>
<circle cx="691.7" cy="195.7" r="2.2" fill="#e8e8e8" opacity="0.73"/>
<circle cx="705.4" cy="205.8" r="2.2" fill="#e8e8e8" opacity="0.72"/>
<circle cx="674.6" cy="189.4" r="2.1" fill="#e8e8e8" opacity="0.62"/>
<circle cx="696.3" cy="192.6" r="1.4" fill="#e8e8e8" opacity="0.91"/>
<circle cx="702.9" cy="206.2" r="2.3" fill="#e8e8e8" opacity="0.90"/>
<circle cx="706.8" cy="212.1" r="1.7" fill="#e8e8e8" opacity="0.88"/>
<circle cx="707.2" cy="218.5" r="1.6" fill="#e8e8e8" opacity="0.93"/>
<circle cx="697.7" cy="180.6" r="2.1" fill="#e8e8e8" opacity="0.68"/>
<circle cx="668.9" cy="191.7" r="1.7" fill="#e8e8e8" opacity="0.68"/>
<circle cx="674.6" cy="210.1" r="1.8" fill="#e8e8e8" opacity="0.63"/>
<circle cx="695.3" cy="219.4" r="1.4" fill="#e8e8e8"/>
<circle cx="706.2" cy="198.9" r="1.5" fill="#e8e8e8" opacity="0.63"/>
<circle cx="683.8" cy="197.7" r="2.3" fill="#e8e8e8" opacity="0.99"/>
<circle cx="704.8" cy="179.7" r="1.2" fill="#e8e8e8" opacity="0.68"/>
<circle cx="687.1" cy="176.2" r="1.9" fill="#e8e8e8" opacity="0.74"/>
<circle cx="700.6" cy="203.2" r="2.1" fill="#e8e8e8" opacity="0.92"/>
<circle cx="702.2" cy="189.4" r="1.9" fill="#e8e8e8" opacity="0.74"/>
<circle cx="709.2" cy="215.8" r="2.4" fill="#e8e8e8" opacity="0.60"/>
<circle cx="678.2" cy="197.8" r="1.6" fill="#e8e8e8" opacity="0.98"/>
<circle cx="700.6" cy="203.6" r="1.9" fill="#e8e8e8" opacity="0.88"/>
<circle cx="678.8" cy="213.2" r="1.5" fill="#e8e8e8" opacity="0.66"/>
<circle cx="679.3" cy="187.7" r="1.5" fill="#e8e8e8" opacity="0.67"/>
<circle cx="667.4" cy="202.6" r="2.0" fill="#e8e8e8" opacity="0.98"/>
<circle cx="677.5" cy="215.7" r="1.6" fill="#e8e8e8" opacity="0.64"/>
<circle cx="682.5" cy="219.9" r="1.9" fill="#e8e8e8" opacity="0.80"/>
<circle cx="675.4" cy="216.7" r="2.0" fill="#e8e8e8" opacity="0.67"/>
<circle cx="683.5" cy="194.4" r="2.1" fill="#333" opacity="0.79"/>
<circle cx="681.1" cy="211.5" r="1.6" fill="#333" opacity="0.88"/>
<circle cx="679.3" cy="197.2" r="1.4" fill="#333" opacity="0.92"/>
<circle cx="709.7" cy="205.1" r="1.9" fill="#333" opacity="0.62"/>
<circle cx="678.1" cy="187.6" r="1.5" fill="#333" opacity="0.67"/>
<circle cx="696.9" cy="187.1" r="2.0" fill="#333" opacity="0.80"/>
<circle cx="678.0" cy="215.9" r="1.4" fill="#333" opacity="0.85"/>
<circle cx="707.5" cy="194.5" r="2.1" fill="#333" opacity="0.94"/>
<circle cx="704.2" cy="206.5" r="1.6" fill="#333" opacity="0.75"/>
<circle cx="707.2" cy="194.6" r="2.1" fill="#333" opacity="0.60"/>
<circle cx="704.9" cy="217.3" r="1.8" fill="#333" opacity="0.92"/>
<circle cx="689.2" cy="203.7" r="2.0" fill="#333" opacity="0.90"/>
<circle cx="689.1" cy="218.8" r="1.3" fill="#333" opacity="0.61"/>
<circle cx="680.2" cy="219.0" r="1.9" fill="#333" opacity="0.99"/>
<circle cx="690.3" cy="222.4" r="2.2" fill="#333" opacity="0.77"/>
<circle cx="710.2" cy="196.0" r="1.8" fill="#333" opacity="0.71"/>
<circle cx="708.3" cy="207.2" r="1.4" fill="#333" opacity="0.77"/>
<circle cx="695.4" cy="215.8" r="1.3" fill="#333" opacity="0.81"/>
<circle cx="692.8" cy="193.8" r="1.5" fill="#333" opacity="0.74"/>
<circle cx="688.3" cy="208.8" r="1.5" fill="#333" opacity="0.90"/>
<circle cx="686.3" cy="212.4" r="1.3" fill="#333" opacity="0.80"/>
<circle cx="689.1" cy="210.4" r="2.1" fill="#333" opacity="0.89"/>
<circle cx="701.1" cy="194.3" r="1.6" fill="#333" opacity="0.71"/>
<circle cx="685.0" cy="178.7" r="1.7" fill="#333" opacity="0.69"/>
<circle cx="696.4" cy="194.0" r="2.0" fill="#333" opacity="0.80"/>
<circle cx="686.5" cy="197.6" r="2.1" fill="#333" opacity="0.78"/>
<circle cx="701.2" cy="190.4" r="1.3" fill="#333" opacity="0.60"/>
<circle cx="698.7" cy="201.6" r="1.4" fill="#333" opacity="0.75"/>
<circle cx="693.4" cy="188.4" r="1.9" fill="#333" opacity="0.85"/>
<circle cx="689.4" cy="178.4" r="1.4" fill="#333" opacity="0.83"/>
<circle cx="671.4" cy="202.1" r="2.1" fill="#333" opacity="0.80"/>
<circle cx="691.3" cy="195.6" r="2.2" fill="#333" opacity="0.94"/>
<circle cx="676.6" cy="199.8" r="2.1" fill="#333" opacity="0.83"/>
<circle cx="695.7" cy="207.8" r="1.5" fill="#333" opacity="0.73"/>
<circle cx="677.1" cy="189.7" r="1.3" fill="#333" opacity="0.84"/>
<circle cx="678.7" cy="212.6" r="1.4" fill="#333" opacity="0.65"/>
<circle cx="690.6" cy="198.0" r="1.9" fill="#333" opacity="0.90"/>
<circle cx="687.6" cy="185.0" r="1.6" fill="#333" opacity="0.64"/>
<circle cx="679.3" cy="203.2" r="1.5" fill="#333" opacity="0.73"/>
<circle cx="704.9" cy="208.3" r="1.8" fill="#333" opacity="0.73"/>
</g>
</g></g>
<g filter="url(#bl)">
<ellipse cx="812.5" cy="209.2" rx="1.1" ry="0.7" transform="rotate(178 812.5 209.2)" fill="#fff" opacity="0.84"/>
<ellipse cx="809.8" cy="209.0" rx="2.2" ry="1.1" transform="rotate(159 809.8 209.0)" fill="#fff" opacity="0.66"/>
<ellipse cx="808.2" cy="183.1" rx="2.2" ry="1.2" transform="rotate(63 808.2 183.1)" fill="#fff" opacity="0.91"/>
<ellipse cx="780.3" cy="191.2" rx="2.6" ry="1.5" transform="rotate(84 780.3 191.2)" fill="#fff" opacity="0.61"/>
<ellipse cx="816.1" cy="193.7" rx="2.0" ry="1.5" transform="rotate(145 816.1 193.7)" fill="#fff" opacity="0.84"/>
<ellipse cx="813.3" cy="207.7" rx="1.7" ry="1.5" transform="rotate(115 813.3 207.7)" fill="#fff" opacity="0.80"/>
<ellipse cx="793.4" cy="192.8" rx="1.4" ry="0.8" transform="rotate(35 793.4 192.8)" fill="#fff"/>
<ellipse cx="776.2" cy="206.1" rx="1.3" ry="1.2" transform="rotate(167 776.2 206.1)" fill="#fff" opacity="0.83"/>
<ellipse cx="778.1" cy="186.2" rx="2.4" ry="1.3" transform="rotate(147 778.1 186.2)" fill="#fff" opacity="0.89"/>
<ellipse cx="791.3" cy="182.0" rx="1.9" ry="1.5" transform="rotate(16 791.3 182.0)" fill="#fff" opacity="0.87"/>
<ellipse cx="790.7" cy="214.2" rx="1.6" ry="1.5" transform="rotate(24 790.7 214.2)" fill="#fff" opacity="0.92"/>
<ellipse cx="785.1" cy="214.4" rx="2.0" ry="1.3" transform="rotate(113 785.1 214.4)" fill="#fff" opacity="0.69"/>
<ellipse cx="806.8" cy="176.3" rx="1.1" ry="0.8" transform="rotate(32 806.8 176.3)" fill="#fff" opacity="0.85"/>
<ellipse cx="795.7" cy="177.7" rx="2.9" ry="1.6" transform="rotate(124 795.7 177.7)" fill="#fff" opacity="0.73"/>
<ellipse cx="783.0" cy="180.9" rx="1.5" ry="0.9" transform="rotate(98 783.0 180.9)" fill="#fff" opacity="0.65"/>
<ellipse cx="802.4" cy="201.7" rx="1.4" ry="0.9" transform="rotate(15 802.4 201.7)" fill="#fff" opacity="0.68"/>
<ellipse cx="774.1" cy="192.3" rx="1.8" ry="1.3" transform="rotate(7 774.1 192.3)" fill="#fff" opacity="0.72"/>
<ellipse cx="777.8" cy="201.7" rx="2.8" ry="1.3" transform="rotate(55 777.8 201.7)" fill="#fff" opacity="0.67"/>
<ellipse cx="811.6" cy="179.0" rx="2.9" ry="1.3" transform="rotate(60 811.6 179.0)" fill="#fff" opacity="0.70"/>
<ellipse cx="812.9" cy="206.4" rx="2.3" ry="1.2" transform="rotate(143 812.9 206.4)" fill="#fff" opacity="0.94"/>
<ellipse cx="789.6" cy="199.6" rx="1.5" ry="0.8" transform="rotate(10 789.6 199.6)" fill="#fff" opacity="0.81"/>
<ellipse cx="783.7" cy="187.2" rx="1.4" ry="1.1" transform="rotate(39 783.7 187.2)" fill="#fff" opacity="0.96"/>
<ellipse cx="793.4" cy="210.2" rx="1.6" ry="1.5" transform="rotate(7 793.4 210.2)" fill="#fff" opacity="0.77"/>
<ellipse cx="785.2" cy="205.8" rx="1.2" ry="0.9" transform="rotate(63 785.2 205.8)" fill="#fff" opacity="0.93"/>
<ellipse cx="781.6" cy="202.5" rx="1.6" ry="1.5" transform="rotate(160 781.6 202.5)" fill="#fff" opacity="0.66"/>
<ellipse cx="802.6" cy="199.8" rx="1.4" ry="0.8" transform="rotate(159 802.6 199.8)" fill="#fff" opacity="0.68"/>
<ellipse cx="789.3" cy="205.7" rx="1.9" ry="1.1" transform="rotate(97 789.3 205.7)" fill="#fff" opacity="0.81"/>
<ellipse cx="812.1" cy="191.2" rx="1.6" ry="1.0" transform="rotate(162 812.1 191.2)" fill="#fff" opacity="0.95"/>
<ellipse cx="801.6" cy="193.8" rx="1.0" ry="0.9" transform="rotate(66 801.6 193.8)" fill="#fff" opacity="0.97"/>
<ellipse cx="806.0" cy="178.2" rx="2.4" ry="1.1" transform="rotate(91 806.0 178.2)" fill="#fff" opacity="0.63"/>
<ellipse cx="786.3" cy="175.1" rx="2.8" ry="1.5" transform="rotate(138 786.3 175.1)" fill="#fff" opacity="0.84"/>
<ellipse cx="801.8" cy="177.7" rx="1.2" ry="1.1" transform="rotate(145 801.8 177.7)" fill="#fff" opacity="0.76"/>
<ellipse cx="784.9" cy="200.1" rx="2.5" ry="1.2" transform="rotate(67 784.9 200.1)" fill="#fff" opacity="0.91"/>
<ellipse cx="812.6" cy="199.4" rx="2.1" ry="1.5" transform="rotate(123 812.6 199.4)" fill="#fff" opacity="0.79"/>
<ellipse cx="796.7" cy="203.8" rx="2.0" ry="1.7" transform="rotate(84 796.7 203.8)" fill="#fff"/>
<ellipse cx="796.4" cy="206.4" rx="2.6" ry="1.8" transform="rotate(101 796.4 206.4)" fill="#fff"/>
<ellipse cx="801.8" cy="208.9" rx="1.5" ry="1.2" transform="rotate(10 801.8 208.9)" fill="#fff"/>
<ellipse cx="805.5" cy="206.2" rx="2.2" ry="2.0" transform="rotate(58 805.5 206.2)" fill="#fff"/>
<ellipse cx="806.6" cy="207.1" rx="2.7" ry="1.5" transform="rotate(54 806.6 207.1)" fill="#fff"/>
<ellipse cx="795.6" cy="204.7" rx="3.4" ry="1.9" transform="rotate(21 795.6 204.7)" fill="#fff"/>
<ellipse cx="788.3" cy="208.7" rx="2.2" ry="1.6" transform="rotate(154 788.3 208.7)" fill="#fff"/>
<ellipse cx="798.8" cy="205.0" rx="1.8" ry="1.3" transform="rotate(66 798.8 205.0)" fill="#fff"/>
<ellipse cx="807.3" cy="204.8" rx="1.3" ry="1.2" transform="rotate(40 807.3 204.8)" fill="#fff"/>
<ellipse cx="799.2" cy="207.7" rx="2.5" ry="1.6" transform="rotate(93 799.2 207.7)" fill="#fff"/>
<ellipse cx="796.6" cy="205.2" rx="2.1" ry="1.8" transform="rotate(139 796.6 205.2)" fill="#fff"/>
<ellipse cx="797.6" cy="203.4" rx="3.2" ry="2.0" transform="rotate(165 797.6 203.4)" fill="#fff"/>
<circle cx="883.7" cy="115.4" r="4.7" fill="#fff"/>
<circle cx="890.4" cy="110.4" r="5" fill="#fff"/>
<circle cx="901.2" cy="116.6" r="5" fill="#fff"/>
<circle cx="902.9" cy="110.4" r="3.2" fill="#fff"/>
<circle cx="914.4" cy="116.9" r="4.5" fill="#fff"/>
<circle cx="913.6" cy="123.6" r="5" fill="#fff"/>
<circle cx="926.1" cy="124.9" r="6" fill="#fff"/>
<circle cx="901.9" cy="130.6" r="5" fill="#fff"/>
<circle cx="911.6" cy="133.6" r="5" fill="#fff"/>
<circle cx="1000.2" cy="129.4" r="6.3" fill="#fff"/>
</g>
<circle cx="900.4" cy="169.3" r="1.1" fill="#aaa"/>
<circle cx="904.9" cy="182.5" r="1.1" fill="#aaa"/>
<circle cx="916.1" cy="182" r="0.9" fill="#aaa"/>
<circle cx="981.7" cy="197" r="0.9" fill="#aaa"/>
<circle cx="1012.7" cy="210.4" r="0.9" fill="#aaa"/>
<circle cx="1010.9" cy="101.9" r="1.0" fill="#aaa"/>
<circle cx="1047" cy="85" r="0.8" fill="#aaa"/>
<ellipse cx="1106.5" cy="119.9" rx="1.8" ry="1.1" fill="#999"/>
<circle cx="1025.0" cy="76.0" r="0.7" fill="#888"/>
<circle cx="1023.6" cy="81.3" r="0.6" fill="#888"/>
<circle cx="1021.6" cy="86.7" r="0.6" fill="#888"/>
<circle cx="1024.5" cy="92.0" r="0.4" fill="#888"/>
<circle cx="1021.4" cy="97.3" r="0.4" fill="#888"/>
<circle cx="1022.5" cy="102.7" r="0.3" fill="#888"/>
<circle cx="1020.1" cy="108.0" r="0.6" fill="#888"/>
<circle cx="1021.6" cy="113.3" r="0.5" fill="#888"/>
<circle cx="1018.5" cy="118.7" r="0.3" fill="#888"/>
<circle cx="1016.1" cy="124.0" r="0.6" fill="#888"/>
<circle cx="1016.4" cy="129.3" r="0.3" fill="#888"/>
<circle cx="1011.3" cy="134.7" r="0.5" fill="#888"/>
<circle cx="1008.7" cy="140.0" r="0.6" fill="#888"/>
<circle cx="1006.2" cy="145.3" r="0.6" fill="#888"/>
<circle cx="1006.5" cy="150.7" r="0.5" fill="#888"/>
<circle cx="1002.5" cy="156.0" r="0.5" fill="#888"/>
<circle cx="881.5" cy="216.0" r="0.6" fill="#888"/>
<circle cx="877.7" cy="195.0" r="0.5" fill="#888"/>
<circle cx="863.4" cy="195.5" r="0.4" fill="#888"/>
<circle cx="881.0" cy="208.2" r="0.5" fill="#888"/>
<circle cx="848.2" cy="196.2" r="0.5" fill="#888"/>
<circle cx="906.9" cy="190.2" r="0.6" fill="#888"/>
<circle cx="850.1" cy="206.2" r="0.5" fill="#888"/>
<circle cx="870.2" cy="193.5" r="0.6" fill="#888"/>
<circle cx="880.1" cy="194.1" r="0.5" fill="#888"/>
<circle cx="912.9" cy="211.1" r="0.5" fill="#888"/>
</g>
<g clip-path="url(#pb2)"><g filter="url(#bl)">
<path d="M603.5,296.9 603.8,301.0 603.5,305.2 602.3,309.2 600.4,312.9 598.0,316.2 595.5,319.4 592.6,322.3 589.4,324.6 585.7,326.3 581.9,327.3 578.0,327.8 574.2,328.1 570.3,327.9 566.5,327.1 563.0,325.5 559.8,323.3 556.9,320.8 554.0,318.2 551.3,315.5 548.8,312.4 546.9,308.9 545.5,305.0 544.6,301.0 543.9,296.9 543.6,292.6 543.9,288.3 545.2,284.2 547.5,280.6 550.3,277.5 553.4,274.9 556.6,272.6 559.8,270.5 563.1,268.6 566.6,267.0 570.3,265.9 574.2,265.3 578.1,265.6 581.9,266.7 585.4,268.4 588.7,270.3 592.0,272.4 595.2,274.7 598.1,277.5 600.3,281.0 601.6,284.9 602.4,288.9 603.0,292.9Z" fill="#fff"/>
<g filter="url(#bl2)">
<ellipse cx="573" cy="298" rx="12" ry="14" fill="#e6e8ea"/>
</g>
<path d="M715.5,293.5 715.5,297.4 714.5,301.2 712.7,304.6 710.5,307.8 708.3,310.7 705.8,313.5 703.2,316.1 700.2,318.3 696.9,320.2 693.5,321.9 689.8,323.2 685.9,323.9 682.0,323.4 678.3,321.8 675.1,319.7 672.1,317.5 669.0,315.5 666.0,313.5 663.3,310.9 661.4,307.7 660.3,304.1 659.6,300.6 658.9,297.1 658.0,293.5 657.3,289.7 657.4,285.8 658.4,282.1 660.3,278.7 662.6,275.6 665.2,272.8 668.0,270.1 671.1,267.8 674.5,266.0 678.2,264.8 682.1,264.3 685.9,264.5 689.6,265.4 693.1,266.5 696.5,267.9 699.8,269.4 702.9,271.2 705.8,273.5 708.2,276.3 710.2,279.4 711.8,282.7 713.3,286.1 714.7,289.7Z" fill="#fff"/>
<g filter="url(#bl1)">
<circle cx="687.4" cy="289.6" r="1.2" fill="#ddd"/>
<circle cx="698.0" cy="288.9" r="1.6" fill="#ddd"/>
<circle cx="697.0" cy="298.8" r="1.8" fill="#ddd"/>
<circle cx="679.8" cy="281.3" r="1.1" fill="#ddd"/>
<circle cx="690.1" cy="306.3" r="1.3" fill="#ddd"/>
<circle cx="673.3" cy="289.7" r="1.1" fill="#ddd"/>
<circle cx="684.4" cy="304.3" r="1.1" fill="#ddd"/>
<circle cx="679.4" cy="304.0" r="1.9" fill="#ddd"/>
<circle cx="689.8" cy="297.4" r="1.8" fill="#ddd"/>
<circle cx="693.8" cy="304.5" r="1.9" fill="#ddd"/>
<circle cx="695.6" cy="295.9" r="1.6" fill="#ddd"/>
<circle cx="678.7" cy="291.2" r="1.2" fill="#ddd"/>
<circle cx="674.9" cy="291.8" r="1.8" fill="#ddd"/>
<circle cx="686.4" cy="301.7" r="1.6" fill="#ddd"/>
</g>
<path d="M823.2,278.0 823.0,281.0 822.4,284.0 821.5,286.9 820.2,289.5 818.6,291.9 816.5,293.9 814.4,295.6 812.1,297.2 809.8,298.7 807.4,300.0 804.7,300.8 802.0,300.9 799.3,300.4 796.7,299.7 794.1,299.0 791.4,298.2 788.7,297.0 786.4,295.1 784.5,292.7 783.2,289.9 782.3,287.0 781.6,284.0 781.4,281.0 781.5,278.0 782.0,275.1 782.6,272.3 783.1,269.4 783.8,266.5 784.9,263.6 786.6,261.1 788.9,259.2 791.4,257.9 794.0,257.0 796.7,256.2 799.3,255.6 802.0,255.4 804.7,255.8 807.3,256.5 809.8,257.4 812.4,258.3 814.9,259.6 817.3,261.3 819.3,263.5 820.8,266.1 821.8,269.0 822.6,272.0 823.1,275.0Z" fill="#fff"/>
<circle cx="823.4" cy="277.7" r="5.5" fill="#fff"/>
<circle cx="822.3" cy="283.9" r="5.7" fill="#fff"/>
<circle cx="818.1" cy="292.4" r="5.9" fill="#fff"/>
<circle cx="810.2" cy="298.9" r="5.9" fill="#fff"/>
<circle cx="802.8" cy="300.8" r="5.3" fill="#fff"/>
<circle cx="795.5" cy="299.7" r="5.6" fill="#fff"/>
<circle cx="788.3" cy="295.3" r="6.0" fill="#fff"/>
<circle cx="783.1" cy="288.2" r="5.2" fill="#fff"/>
<circle cx="780.9" cy="281.4" r="5.2" fill="#fff"/>
<circle cx="780.6" cy="272.8" r="4.8" fill="#fff"/>
<circle cx="784.6" cy="261.8" r="4.9" fill="#fff"/>
<circle cx="789.3" cy="256.5" r="5.1" fill="#fff"/>
<circle cx="795.7" cy="252.8" r="5.7" fill="#fff"/>
<circle cx="802.9" cy="251.8" r="5.4" fill="#fff"/>
<circle cx="811.0" cy="254.1" r="4.9" fill="#fff"/>
<circle cx="816.8" cy="258.7" r="5.8" fill="#fff"/>
<circle cx="821.5" cy="266.2" r="5.6" fill="#fff"/>
<circle cx="800" cy="270" r="1.6" fill="#444"/>
<circle cx="806.5" cy="274" r="1.5" fill="#444"/>
<circle cx="808" cy="282" r="1.6" fill="#444"/>
<circle cx="799.5" cy="279" r="1.2" fill="#444"/>
<circle cx="805" cy="266" r="1.1" fill="#444"/>
<path d="M607.2,378.7 606.4,382.3 605.0,385.5 603.2,388.5 601.4,391.4 599.5,394.0 597.4,396.5 594.9,398.6 592.2,400.3 589.4,401.8 586.4,403.1 583.3,404.1 580.0,404.5 576.7,404.2 573.5,403.5 570.3,402.6 567.2,401.4 564.1,399.9 561.3,397.8 559.0,395.2 557.3,392.1 556.1,388.8 555.2,385.5 554.5,382.1 554.4,378.7 554.8,375.3 555.8,372.1 557.1,369.0 558.6,366.0 560.2,363.1 562.0,360.3 564.2,357.7 567.0,355.6 570.1,354.3 573.5,353.7 576.8,353.7 580.0,354.0 583.1,354.3 586.3,354.6 589.6,355.0 592.8,356.0 595.7,357.8 598.1,360.2 600.1,362.9 602.0,365.7 603.9,368.6 605.7,371.7 606.9,375.1Z" fill="#fff"/>
<path d="M723.6,371.8 723.4,375.1 722.9,378.3 721.9,381.5 720.3,384.4 718.1,386.8 715.5,388.7 712.7,390.3 710.1,391.8 707.5,393.3 704.7,394.8 701.8,395.9 698.6,396.6 695.3,396.9 692.0,396.7 688.6,396.0 685.5,394.5 683.0,392.3 681.0,389.5 679.4,386.6 677.9,383.8 676.3,381.1 674.9,378.2 674.1,375.0 673.9,371.8 674.2,368.6 674.6,365.3 675.1,362.0 676.1,358.8 678.1,356.0 680.9,354.0 684.0,352.7 687.0,351.5 689.6,350.1 692.3,348.4 695.4,347.1 698.6,346.8 701.8,347.5 704.7,348.8 707.6,350.0 710.5,351.1 713.6,352.1 716.6,353.7 719.2,355.9 721.1,358.8 722.3,361.9 723.0,365.2 723.4,368.5Z" fill="#fff"/>
<g filter="url(#bl1)">
<circle cx="708.7" cy="378.2" r="1.2" fill="#c9c9c9"/>
<circle cx="702.2" cy="378.9" r="1.6" fill="#c9c9c9"/>
<circle cx="699.0" cy="381.0" r="1.2" fill="#c9c9c9"/>
<circle cx="699.1" cy="382.9" r="1.2" fill="#c9c9c9"/>
<circle cx="698.3" cy="371.5" r="0.8" fill="#c9c9c9"/>
<circle cx="711.6" cy="363.8" r="1.6" fill="#c9c9c9"/>
<circle cx="702.4" cy="360.6" r="1.6" fill="#c9c9c9"/>
<circle cx="705.4" cy="365.9" r="1.3" fill="#c9c9c9"/>
<circle cx="691.5" cy="386.5" r="1.3" fill="#c9c9c9"/>
<circle cx="695.6" cy="376.5" r="1.7" fill="#c9c9c9"/>
<circle cx="688.6" cy="386.1" r="1.0" fill="#c9c9c9"/>
<circle cx="710.0" cy="358.8" r="1.7" fill="#c9c9c9"/>
<circle cx="715.7" cy="376.2" r="1.4" fill="#c9c9c9"/>
<circle cx="712.7" cy="377.2" r="1.5" fill="#c9c9c9"/>
<circle cx="681.8" cy="371.3" r="0.9" fill="#c9c9c9"/>
<circle cx="680.8" cy="374.0" r="0.9" fill="#c9c9c9"/>
<circle cx="695.4" cy="356.0" r="1.2" fill="#c9c9c9"/>
<circle cx="700.7" cy="365.6" r="1.5" fill="#c9c9c9"/>
<circle cx="691.6" cy="369.5" r="1.1" fill="#c9c9c9"/>
<circle cx="698.1" cy="360.4" r="1.5" fill="#c9c9c9"/>
<circle cx="685.6" cy="382.8" r="1.8" fill="#c9c9c9"/>
<circle cx="685.1" cy="366.3" r="0.9" fill="#c9c9c9"/>
<circle cx="681.7" cy="376.9" r="1.4" fill="#c9c9c9"/>
<circle cx="705.9" cy="381.5" r="1.8" fill="#c9c9c9"/>
<circle cx="698.3" cy="372.1" r="1.6" fill="#c9c9c9"/>
<circle cx="686.3" cy="363.3" r="1.5" fill="#c9c9c9"/>
<circle cx="704.0" cy="369.9" r="1.1" fill="#c9c9c9"/>
<circle cx="693.6" cy="384.9" r="1.4" fill="#c9c9c9"/>
<circle cx="710.2" cy="361.9" r="1.7" fill="#c9c9c9"/>
<circle cx="701.7" cy="370.8" r="1.2" fill="#c9c9c9"/>
<circle cx="685.1" cy="364.6" r="1.0" fill="#c9c9c9"/>
<circle cx="701.9" cy="369.2" r="1.4" fill="#c9c9c9"/>
<circle cx="698.2" cy="381.3" r="1.0" fill="#c9c9c9"/>
<circle cx="700.8" cy="374.5" r="1.3" fill="#c9c9c9"/>
<circle cx="697.8" cy="360.8" r="1.0" fill="#c9c9c9"/>
<circle cx="706.6" cy="381.4" r="1.0" fill="#c9c9c9"/>
</g>
</g><g filter="url(#bl)">
<ellipse cx="802.8" cy="351.1" rx="2.2" ry="1.5" transform="rotate(4 802.8 351.1)" fill="#eee" opacity="0.93"/>
<ellipse cx="824.5" cy="367.9" rx="1.9" ry="1.0" transform="rotate(164 824.5 367.9)" fill="#eee" opacity="0.53"/>
<ellipse cx="796.9" cy="374.3" rx="2.0" ry="1.3" transform="rotate(102 796.9 374.3)" fill="#eee" opacity="0.72"/>
<ellipse cx="799.4" cy="351.2" rx="1.3" ry="0.9" transform="rotate(141 799.4 351.2)" fill="#eee"/>
<ellipse cx="825.2" cy="378.7" rx="2.4" ry="1.5" transform="rotate(89 825.2 378.7)" fill="#eee" opacity="0.78"/>
<ellipse cx="795.5" cy="359.9" rx="1.7" ry="1.6" transform="rotate(72 795.5 359.9)" fill="#eee" opacity="0.71"/>
<ellipse cx="792.5" cy="384.1" rx="1.4" ry="1.1" transform="rotate(23 792.5 384.1)" fill="#eee" opacity="0.59"/>
<ellipse cx="819.5" cy="360.3" rx="1.7" ry="0.9" transform="rotate(27 819.5 360.3)" fill="#eee" opacity="0.90"/>
<ellipse cx="823.5" cy="354.6" rx="3.1" ry="1.6" transform="rotate(57 823.5 354.6)" fill="#eee" opacity="0.79"/>
<ellipse cx="811.3" cy="374.6" rx="1.8" ry="1.2" transform="rotate(75 811.3 374.6)" fill="#eee" opacity="0.81"/>
<ellipse cx="827.5" cy="360.8" rx="1.5" ry="1.5" transform="rotate(167 827.5 360.8)" fill="#eee" opacity="0.96"/>
<ellipse cx="815.7" cy="383.8" rx="1.4" ry="1.3" transform="rotate(45 815.7 383.8)" fill="#eee" opacity="0.82"/>
<ellipse cx="821.6" cy="373.0" rx="1.2" ry="1.2" transform="rotate(78 821.6 373.0)" fill="#eee" opacity="0.80"/>
<ellipse cx="820.8" cy="387.6" rx="1.4" ry="0.9" transform="rotate(141 820.8 387.6)" fill="#eee" opacity="0.73"/>
<ellipse cx="802.4" cy="393.7" rx="2.9" ry="1.6" transform="rotate(154 802.4 393.7)" fill="#eee" opacity="0.75"/>
<ellipse cx="789.4" cy="363.5" rx="2.4" ry="1.3" transform="rotate(123 789.4 363.5)" fill="#eee" opacity="0.96"/>
<ellipse cx="790.1" cy="382.8" rx="2.4" ry="1.3" transform="rotate(75 790.1 382.8)" fill="#eee" opacity="0.85"/>
<ellipse cx="811.0" cy="355.6" rx="1.8" ry="0.9" transform="rotate(19 811.0 355.6)" fill="#eee" opacity="0.73"/>
<ellipse cx="806.2" cy="370.5" rx="1.9" ry="1.7" transform="rotate(82 806.2 370.5)" fill="#eee" opacity="0.75"/>
<ellipse cx="816.0" cy="374.9" rx="2.8" ry="1.7" transform="rotate(79 816.0 374.9)" fill="#eee" opacity="0.68"/>
<ellipse cx="810.8" cy="374.9" rx="1.7" ry="1.5" transform="rotate(41 810.8 374.9)" fill="#eee" opacity="0.53"/>
<ellipse cx="803.1" cy="360.3" rx="1.4" ry="1.1" transform="rotate(57 803.1 360.3)" fill="#eee" opacity="0.77"/>
<ellipse cx="816.8" cy="386.2" rx="1.7" ry="0.9" transform="rotate(83 816.8 386.2)" fill="#eee" opacity="0.98"/>
<ellipse cx="801.1" cy="360.8" rx="1.5" ry="1.5" transform="rotate(16 801.1 360.8)" fill="#eee" opacity="0.50"/>
<ellipse cx="795.0" cy="378.7" rx="1.5" ry="0.9" transform="rotate(109 795.0 378.7)" fill="#eee" opacity="0.52"/>
<ellipse cx="817.1" cy="376.8" rx="1.0" ry="0.8" transform="rotate(136 817.1 376.8)" fill="#eee" opacity="0.88"/>
<ellipse cx="794.3" cy="370.5" rx="1.2" ry="1.1" transform="rotate(84 794.3 370.5)" fill="#eee" opacity="0.70"/>
<ellipse cx="806.0" cy="378.0" rx="1.5" ry="1.3" transform="rotate(104 806.0 378.0)" fill="#eee" opacity="0.60"/>
<ellipse cx="822.9" cy="372.7" rx="2.1" ry="1.2" transform="rotate(101 822.9 372.7)" fill="#eee" opacity="0.94"/>
<ellipse cx="793.9" cy="379.3" rx="2.5" ry="1.5" transform="rotate(96 793.9 379.3)" fill="#eee" opacity="0.94"/>
<ellipse cx="795.5" cy="370.5" rx="1.8" ry="1.3" transform="rotate(27 795.5 370.5)" fill="#eee" opacity="0.83"/>
<ellipse cx="790.5" cy="370.7" rx="1.4" ry="1.1" transform="rotate(13 790.5 370.7)" fill="#eee" opacity="0.85"/>
<ellipse cx="814.0" cy="378.6" rx="1.7" ry="1.5" transform="rotate(36 814.0 378.6)" fill="#eee" opacity="0.66"/>
<ellipse cx="821.3" cy="376.4" rx="2.3" ry="1.3" transform="rotate(160 821.3 376.4)" fill="#eee" opacity="0.85"/>
<ellipse cx="797.1" cy="372.7" rx="1.9" ry="1.7" transform="rotate(23 797.1 372.7)" fill="#eee" opacity="0.58"/>
<ellipse cx="805.5" cy="359.9" rx="2.0" ry="1.1" transform="rotate(103 805.5 359.9)" fill="#eee" opacity="0.75"/>
<ellipse cx="798.6" cy="375.9" rx="1.9" ry="1.4" transform="rotate(94 798.6 375.9)" fill="#eee" opacity="0.65"/>
<ellipse cx="793.4" cy="365.8" rx="2.3" ry="1.4" transform="rotate(81 793.4 365.8)" fill="#eee" opacity="0.53"/>
<ellipse cx="800.2" cy="345.7" rx="1.6" ry="0.9" transform="rotate(106 800.2 345.7)" fill="#eee" opacity="0.88"/>
<ellipse cx="783.1" cy="380.0" rx="1.9" ry="1.6" transform="rotate(33 783.1 380.0)" fill="#eee" opacity="0.88"/>
<ellipse cx="806.3" cy="366.9" rx="1.1" ry="1.0" transform="rotate(179 806.3 366.9)" fill="#eee" opacity="0.97"/>
<ellipse cx="798.4" cy="377.4" rx="3.3" ry="1.8" transform="rotate(134 798.4 377.4)" fill="#eee" opacity="0.81"/>
<ellipse cx="821.3" cy="359.1" rx="2.5" ry="1.4" transform="rotate(75 821.3 359.1)" fill="#eee" opacity="0.69"/>
<ellipse cx="788.2" cy="356.5" rx="1.9" ry="1.0" transform="rotate(161 788.2 356.5)" fill="#eee" opacity="0.55"/>
<ellipse cx="818.9" cy="351.7" rx="2.6" ry="1.3" transform="rotate(99 818.9 351.7)" fill="#eee" opacity="0.57"/>
<ellipse cx="789.1" cy="381.6" rx="1.5" ry="1.5" transform="rotate(112 789.1 381.6)" fill="#eee" opacity="0.90"/>
<ellipse cx="811.7" cy="382.8" rx="1.5" ry="0.8" transform="rotate(107 811.7 382.8)" fill="#eee" opacity="0.75"/>
<ellipse cx="804.6" cy="392.7" rx="2.4" ry="1.4" transform="rotate(29 804.6 392.7)" fill="#eee" opacity="0.88"/>
<ellipse cx="789.7" cy="355.3" rx="1.7" ry="1.1" transform="rotate(166 789.7 355.3)" fill="#eee" opacity="0.51"/>
<ellipse cx="807.3" cy="392.8" rx="2.3" ry="1.2" transform="rotate(166 807.3 392.8)" fill="#eee" opacity="0.51"/>
<ellipse cx="781.2" cy="366.5" rx="1.7" ry="1.0" transform="rotate(84 781.2 366.5)" fill="#eee" opacity="0.56"/>
<ellipse cx="819.4" cy="366.1" rx="2.1" ry="1.5" transform="rotate(38 819.4 366.1)" fill="#eee" opacity="0.61"/>
<ellipse cx="788.3" cy="391.4" rx="1.5" ry="0.8" transform="rotate(118 788.3 391.4)" fill="#eee" opacity="0.54"/>
<ellipse cx="817.4" cy="375.4" rx="1.3" ry="0.8" transform="rotate(175 817.4 375.4)" fill="#eee" opacity="0.87"/>
<ellipse cx="794.1" cy="393.0" rx="2.3" ry="1.7" transform="rotate(32 794.1 393.0)" fill="#eee" opacity="0.72"/>
<ellipse cx="784.7" cy="367.4" rx="2.4" ry="1.3" transform="rotate(170 784.7 367.4)" fill="#eee" opacity="0.79"/>
<ellipse cx="819.9" cy="389.6" rx="1.4" ry="1.3" transform="rotate(162 819.9 389.6)" fill="#eee" opacity="0.91"/>
<ellipse cx="784.8" cy="382.1" rx="2.0" ry="1.8" transform="rotate(82 784.8 382.1)" fill="#eee" opacity="0.71"/>
<ellipse cx="792.2" cy="381.6" rx="1.7" ry="1.0" transform="rotate(81 792.2 381.6)" fill="#eee" opacity="0.75"/>
<ellipse cx="823.8" cy="376.7" rx="1.7" ry="1.5" transform="rotate(34 823.8 376.7)" fill="#eee" opacity="0.52"/>
<ellipse cx="800.1" cy="380.9" rx="1.0" ry="1.0" transform="rotate(102 800.1 380.9)" fill="#eee" opacity="0.67"/>
<ellipse cx="825.0" cy="369.5" rx="2.5" ry="1.4" transform="rotate(87 825.0 369.5)" fill="#eee" opacity="0.53"/>
<ellipse cx="791.2" cy="374.4" rx="1.3" ry="1.2" transform="rotate(107 791.2 374.4)" fill="#eee" opacity="0.57"/>
<ellipse cx="804.1" cy="353.6" rx="1.6" ry="1.1" transform="rotate(5 804.1 353.6)" fill="#eee" opacity="0.55"/>
<ellipse cx="825.0" cy="374.5" rx="1.5" ry="1.2" transform="rotate(149 825.0 374.5)" fill="#eee" opacity="0.98"/>
<ellipse cx="816.2" cy="362.8" rx="1.9" ry="1.2" transform="rotate(104 816.2 362.8)" fill="#eee" opacity="0.57"/>
<ellipse cx="824.0" cy="374.1" rx="2.2" ry="1.3" transform="rotate(14 824.0 374.1)" fill="#eee" opacity="0.70"/>
<ellipse cx="806.8" cy="365.9" rx="2.1" ry="1.5" transform="rotate(60 806.8 365.9)" fill="#eee" opacity="0.65"/>
<ellipse cx="809.3" cy="366.5" rx="2.3" ry="1.5" transform="rotate(98 809.3 366.5)" fill="#eee" opacity="0.99"/>
<ellipse cx="823.2" cy="378.6" rx="1.3" ry="0.8" transform="rotate(158 823.2 378.6)" fill="#eee" opacity="0.80"/>
<ellipse cx="813.9" cy="395.5" rx="2.4" ry="1.5" transform="rotate(21 813.9 395.5)" fill="#eee" opacity="0.68"/>
<ellipse cx="807.0" cy="395.6" rx="2.7" ry="1.5" transform="rotate(55 807.0 395.6)" fill="#eee" opacity="0.89"/>
<ellipse cx="811.1" cy="395.5" rx="2.3" ry="1.2" transform="rotate(96 811.1 395.5)" fill="#eee" opacity="0.58"/>
<ellipse cx="808.3" cy="357.4" rx="1.9" ry="1.3" transform="rotate(106 808.3 357.4)" fill="#eee" opacity="0.66"/>
<ellipse cx="819.3" cy="368.2" rx="3.3" ry="1.8" transform="rotate(137 819.3 368.2)" fill="#eee" opacity="0.51"/>
<ellipse cx="816.5" cy="358.4" rx="1.8" ry="0.9" transform="rotate(140 816.5 358.4)" fill="#eee" opacity="0.96"/>
<ellipse cx="802.4" cy="395.8" rx="1.3" ry="1.1" transform="rotate(6 802.4 395.8)" fill="#eee" opacity="0.63"/>
<ellipse cx="818.5" cy="388.6" rx="1.9" ry="1.8" transform="rotate(101 818.5 388.6)" fill="#eee" opacity="0.89"/>
<ellipse cx="782.9" cy="367.2" rx="1.5" ry="0.9" transform="rotate(136 782.9 367.2)" fill="#eee" opacity="0.64"/>
<ellipse cx="818.1" cy="352.2" rx="3.1" ry="1.6" transform="rotate(88 818.1 352.2)" fill="#eee" opacity="0.53"/>
<ellipse cx="810.6" cy="360.3" rx="2.7" ry="1.7" transform="rotate(74 810.6 360.3)" fill="#eee" opacity="0.81"/>
<ellipse cx="824.9" cy="366.9" rx="1.4" ry="1.1" transform="rotate(86 824.9 366.9)" fill="#eee" opacity="0.78"/>
<ellipse cx="802.2" cy="390.8" rx="2.0" ry="1.2" transform="rotate(156 802.2 390.8)" fill="#eee" opacity="0.62"/>
<ellipse cx="791.9" cy="362.4" rx="1.2" ry="0.9" transform="rotate(135 791.9 362.4)" fill="#eee" opacity="0.80"/>
<ellipse cx="817.5" cy="354.5" rx="1.8" ry="1.1" transform="rotate(104 817.5 354.5)" fill="#eee" opacity="0.78"/>
<ellipse cx="807.8" cy="360.9" rx="2.8" ry="1.6" transform="rotate(28 807.8 360.9)" fill="#eee" opacity="0.63"/>
<ellipse cx="799.4" cy="379.7" rx="1.8" ry="1.4" transform="rotate(14 799.4 379.7)" fill="#eee" opacity="0.82"/>
<ellipse cx="816.7" cy="349.4" rx="2.5" ry="1.4" transform="rotate(67 816.7 349.4)" fill="#eee" opacity="0.74"/>
<ellipse cx="816.0" cy="365.9" rx="1.7" ry="1.0" transform="rotate(130 816.0 365.9)" fill="#eee" opacity="0.82"/>
<ellipse cx="823.2" cy="381.2" rx="3.1" ry="1.7" transform="rotate(17 823.2 381.2)" fill="#eee" opacity="0.69"/>
<ellipse cx="794.1" cy="353.7" rx="1.6" ry="0.9" transform="rotate(24 794.1 353.7)" fill="#eee" opacity="0.89"/>
<ellipse cx="786.7" cy="363.3" rx="1.8" ry="1.2" transform="rotate(46 786.7 363.3)" fill="#eee" opacity="0.80"/>
<ellipse cx="795.6" cy="361.0" rx="2.1" ry="1.2" transform="rotate(95 795.6 361.0)" fill="#eee" opacity="0.70"/>
<ellipse cx="798.5" cy="380.0" rx="1.1" ry="1.0" transform="rotate(5 798.5 380.0)" fill="#eee" opacity="0.95"/>
<ellipse cx="793.9" cy="355.8" rx="2.6" ry="1.4" transform="rotate(149 793.9 355.8)" fill="#eee" opacity="0.74"/>
<ellipse cx="822.6" cy="371.9" rx="1.2" ry="0.8" transform="rotate(30 822.6 371.9)" fill="#eee" opacity="0.81"/>
<ellipse cx="793.0" cy="359.4" rx="2.1" ry="1.1" transform="rotate(19 793.0 359.4)" fill="#eee"/>
<ellipse cx="785.8" cy="364.8" rx="2.3" ry="1.7" transform="rotate(162 785.8 364.8)" fill="#eee" opacity="0.90"/>
<ellipse cx="789.0" cy="378.2" rx="1.7" ry="1.6" transform="rotate(111 789.0 378.2)" fill="#eee" opacity="0.63"/>
<ellipse cx="809.2" cy="355.6" rx="1.6" ry="1.5" transform="rotate(112 809.2 355.6)" fill="#eee" opacity="0.62"/>
<ellipse cx="804.0" cy="345.3" rx="1.1" ry="0.9" transform="rotate(24 804.0 345.3)" fill="#eee" opacity="0.75"/>
<ellipse cx="821.6" cy="369.7" rx="3.3" ry="1.8" transform="rotate(174 821.6 369.7)" fill="#eee" opacity="0.82"/>
<ellipse cx="784.7" cy="385.8" rx="2.0" ry="1.6" transform="rotate(126 784.7 385.8)" fill="#eee" opacity="0.77"/>
<ellipse cx="818.3" cy="388.7" rx="1.4" ry="1.4" transform="rotate(109 818.3 388.7)" fill="#eee" opacity="0.96"/>
<ellipse cx="795.2" cy="371.8" rx="1.1" ry="1.0" transform="rotate(23 795.2 371.8)" fill="#eee" opacity="0.80"/>
<ellipse cx="781.8" cy="371.7" rx="1.7" ry="1.1" transform="rotate(93 781.8 371.7)" fill="#eee" opacity="0.52"/>
<ellipse cx="798.7" cy="374.7" rx="1.6" ry="1.0" transform="rotate(169 798.7 374.7)" fill="#eee" opacity="0.67"/>
<ellipse cx="792.2" cy="356.7" rx="1.7" ry="0.9" transform="rotate(106 792.2 356.7)" fill="#eee" opacity="0.80"/>
<ellipse cx="811.7" cy="380.7" rx="1.2" ry="0.9" transform="rotate(43 811.7 380.7)" fill="#eee" opacity="0.55"/>
<ellipse cx="788.4" cy="382.5" rx="2.1" ry="1.1" transform="rotate(56 788.4 382.5)" fill="#eee" opacity="0.84"/>
<ellipse cx="786.7" cy="386.4" rx="1.3" ry="1.1" transform="rotate(98 786.7 386.4)" fill="#eee" opacity="0.86"/>
<ellipse cx="809.3" cy="352.0" rx="1.7" ry="1.0" transform="rotate(51 809.3 352.0)" fill="#eee" opacity="0.60"/>
<ellipse cx="786.9" cy="389.9" rx="1.7" ry="1.2" transform="rotate(109 786.9 389.9)" fill="#eee" opacity="0.87"/>
<ellipse cx="803.2" cy="372.5" rx="3.2" ry="1.8" transform="rotate(159 803.2 372.5)" fill="#eee" opacity="0.77"/>
<ellipse cx="789.3" cy="357.4" rx="2.5" ry="1.4" transform="rotate(141 789.3 357.4)" fill="#eee" opacity="0.51"/>
<ellipse cx="795.3" cy="379.7" rx="1.1" ry="1.0" transform="rotate(27 795.3 379.7)" fill="#eee" opacity="0.91"/>
<ellipse cx="796.3" cy="351.9" rx="3.1" ry="1.6" transform="rotate(17 796.3 351.9)" fill="#eee" opacity="0.97"/>
<ellipse cx="800.3" cy="353.6" rx="2.6" ry="1.4" transform="rotate(100 800.3 353.6)" fill="#eee" opacity="0.95"/>
<ellipse cx="815.2" cy="388.2" rx="1.7" ry="0.9" transform="rotate(119 815.2 388.2)" fill="#eee" opacity="0.98"/>
<ellipse cx="812.9" cy="389.1" rx="1.4" ry="0.9" transform="rotate(99 812.9 389.1)" fill="#eee" opacity="0.76"/>
<ellipse cx="790.9" cy="368.9" rx="1.8" ry="0.9" transform="rotate(82 790.9 368.9)" fill="#eee" opacity="0.56"/>
<ellipse cx="820.2" cy="383.2" rx="2.8" ry="1.7" transform="rotate(111 820.2 383.2)" fill="#eee" opacity="0.72"/>
<ellipse cx="821.4" cy="379.5" rx="2.1" ry="1.1" transform="rotate(177 821.4 379.5)" fill="#eee" opacity="0.62"/>
<ellipse cx="799.2" cy="366.2" rx="1.6" ry="0.9" transform="rotate(129 799.2 366.2)" fill="#eee" opacity="0.65"/>
<ellipse cx="819.3" cy="353.4" rx="1.3" ry="1.0" transform="rotate(131 819.3 353.4)" fill="#eee" opacity="0.65"/>
<circle cx="899.8" cy="263.2" r="7" fill="#fff"/>
<circle cx="942.2" cy="277.1" r="6.4" fill="#fff"/>
<circle cx="937.1" cy="285.1" r="6.0" fill="#fff"/>
<circle cx="928.9" cy="286.9" r="5.8" fill="#fff"/>
<circle cx="921.0" cy="281.0" r="5.9" fill="#fff"/>
<circle cx="919.8" cy="271.4" r="6.0" fill="#fff"/>
<circle cx="925.3" cy="263.7" r="6.0" fill="#fff"/>
<circle cx="933.0" cy="262.3" r="5.7" fill="#fff"/>
<circle cx="940.5" cy="267.7" r="6.4" fill="#fff"/>
<circle cx="923" cy="277" r="4" fill="#fff"/>
<circle cx="937" cy="283" r="3" fill="#fff"/>
</g>
<ellipse cx="1035" cy="263" rx="1.3" ry="2.2" fill="#8a8a8a"/>
<ellipse cx="1046" cy="266.5" rx="1.6" ry="2" fill="#8a8a8a"/>
<ellipse cx="914" cy="355" rx="2.6" ry="1.8" fill="#999"/>
<circle cx="916.5" cy="352.5" r="1.5" fill="#999"/>
<circle cx="932.5" cy="354.5" r="1.3" fill="#aaa"/>
<circle cx="928" cy="378" r="1.1" fill="#aaa"/>
<circle cx="907" cy="369" r="0.8" fill="#aaa"/>
<circle cx="963.5" cy="371.5" r="0.8" fill="#aaa"/>
<circle cx="1036" cy="351" r="0.8" fill="#aaa"/>
<circle cx="905.5" cy="336" r="0.7" fill="#aaa"/>
<circle cx="922.5" cy="331" r="0.7" fill="#aaa"/>
<circle cx="924.6" cy="329.9" r="0.5" fill="#666"/>
<circle cx="923.5" cy="354.7" r="0.6" fill="#666"/>
<circle cx="925.2" cy="341.9" r="0.5" fill="#666"/>
<circle cx="913.8" cy="346.8" r="0.6" fill="#666"/>
<circle cx="907.2" cy="332.8" r="0.7" fill="#666"/>
<circle cx="899.8" cy="322.2" r="0.4" fill="#666"/>
<circle cx="901.6" cy="347.4" r="0.7" fill="#666"/>
<circle cx="921.0" cy="364.4" r="0.5" fill="#666"/>
<circle cx="890.2" cy="336.1" r="0.6" fill="#666"/>
<circle cx="941.8" cy="344.5" r="0.5" fill="#666"/>
<circle cx="918.0" cy="355.0" r="0.6" fill="#666"/>
<circle cx="900.1" cy="336.5" r="0.6" fill="#666"/>
<circle cx="921.3" cy="351.4" r="0.4" fill="#666"/>
<circle cx="902.2" cy="363.4" r="0.4" fill="#666"/>
<circle cx="1064.3" cy="347.2" r="0.7" fill="#666"/>
<circle cx="1075.9" cy="355.7" r="0.6" fill="#666"/>
<circle cx="1074.2" cy="367.5" r="0.5" fill="#666"/>
<circle cx="1087.8" cy="362.9" r="0.7" fill="#666"/>
<circle cx="1075.3" cy="351.4" r="0.6" fill="#666"/>
<circle cx="1080.1" cy="329.2" r="0.4" fill="#666"/>
<circle cx="1078.8" cy="340.6" r="0.5" fill="#666"/>
<circle cx="1094.0" cy="357.5" r="0.5" fill="#666"/>
</g>
<g clip-path="url(#pd1)">
<clipPath id="cc2"><path d="M620.4,648.9 620.0,653.3 619.3,657.5 618.3,661.8 617.0,665.9 615.2,669.9 612.9,673.5 610.1,676.5 606.9,679.1 603.6,681.2 600.0,682.8 596.2,683.8 592.4,684.1 588.6,683.7 584.8,682.8 581.3,681.1 578.0,678.9 575.0,676.1 572.3,673.0 569.8,669.7 567.7,666.0 566.0,662.0 565.0,657.7 564.6,653.3 564.6,648.9 564.7,644.5 565.0,640.1 565.7,635.7 567.2,631.5 569.6,627.9 572.4,625.0 575.4,622.4 578.4,619.8 581.5,617.3 584.8,615.1 588.5,613.7 592.4,613.3 596.3,613.7 600.1,614.6 603.7,616.1 607.2,618.2 610.2,621.1 612.7,624.6 614.7,628.4 616.5,632.2 618.2,636.1 619.5,640.2 620.3,644.5Z"/></clipPath><g filter="url(#bl)"><g clip-path="url(#cc2)">
<path d="M620.4,648.9 620.0,653.3 619.3,657.5 618.3,661.8 617.0,665.9 615.2,669.9 612.9,673.5 610.1,676.5 606.9,679.1 603.6,681.2 600.0,682.8 596.2,683.8 592.4,684.1 588.6,683.7 584.8,682.8 581.3,681.1 578.0,678.9 575.0,676.1 572.3,673.0 569.8,669.7 567.7,666.0 566.0,662.0 565.0,657.7 564.6,653.3 564.6,648.9 564.7,644.5 565.0,640.1 565.7,635.7 567.2,631.5 569.6,627.9 572.4,625.0 575.4,622.4 578.4,619.8 581.5,617.3 584.8,615.1 588.5,613.7 592.4,613.3 596.3,613.7 600.1,614.6 603.7,616.1 607.2,618.2 610.2,621.1 612.7,624.6 614.7,628.4 616.5,632.2 618.2,636.1 619.5,640.2 620.3,644.5Z" fill="#f2f2f2"/>
<g filter="url(#bl)">
<ellipse cx="588.6" cy="647.2" rx="2.1" ry="1.9" transform="rotate(142 588.6 647.2)" fill="#777779" opacity="0.42"/>
<ellipse cx="591.3" cy="624.5" rx="3.5" ry="2.1" transform="rotate(116 591.3 624.5)" fill="#777779" opacity="0.44"/>
<ellipse cx="596.8" cy="633.2" rx="1.8" ry="1.6" transform="rotate(9 596.8 633.2)" fill="#777779" opacity="0.45"/>
<ellipse cx="602.8" cy="649.3" rx="3.5" ry="2.3" transform="rotate(90 602.8 649.3)" fill="#777779" opacity="0.44"/>
<ellipse cx="611.0" cy="650.6" rx="2.4" ry="1.1" transform="rotate(23 611.0 650.6)" fill="#777779" opacity="0.36"/>
<ellipse cx="585.8" cy="669.2" rx="2.6" ry="1.6" transform="rotate(72 585.8 669.2)" fill="#777779" opacity="0.60"/>
<ellipse cx="596.1" cy="659.8" rx="2.6" ry="1.4" transform="rotate(144 596.1 659.8)" fill="#777779" opacity="0.67"/>
<ellipse cx="595.5" cy="662.9" rx="2.4" ry="2.0" transform="rotate(123 595.5 662.9)" fill="#777779" opacity="0.77"/>
<ellipse cx="597.7" cy="636.4" rx="2.6" ry="2.2" transform="rotate(180 597.7 636.4)" fill="#777779" opacity="0.44"/>
<ellipse cx="601.6" cy="666.4" rx="4.6" ry="2.4" transform="rotate(85 601.6 666.4)" fill="#777779" opacity="0.79"/>
<ellipse cx="591.8" cy="652.0" rx="3.6" ry="1.7" transform="rotate(87 591.8 652.0)" fill="#777779" opacity="0.37"/>
<ellipse cx="611.3" cy="654.0" rx="2.8" ry="2.4" transform="rotate(103 611.3 654.0)" fill="#777779" opacity="0.74"/>
<ellipse cx="610.1" cy="652.0" rx="2.7" ry="1.5" transform="rotate(117 610.1 652.0)" fill="#777779" opacity="0.80"/>
<ellipse cx="587.4" cy="648.2" rx="2.2" ry="1.0" transform="rotate(84 587.4 648.2)" fill="#777779" opacity="0.61"/>
<ellipse cx="598.8" cy="664.3" rx="2.4" ry="2.0" transform="rotate(131 598.8 664.3)" fill="#777779" opacity="0.75"/>
<ellipse cx="596.9" cy="631.8" rx="2.2" ry="1.4" transform="rotate(23 596.9 631.8)" fill="#777779" opacity="0.60"/>
<ellipse cx="592.2" cy="624.7" rx="2.7" ry="2.4" transform="rotate(180 592.2 624.7)" fill="#777779" opacity="0.55"/>
<ellipse cx="585.1" cy="669.4" rx="3.8" ry="2.0" transform="rotate(29 585.1 669.4)" fill="#777779" opacity="0.70"/>
<ellipse cx="600.9" cy="666.7" rx="3.8" ry="1.8" transform="rotate(174 600.9 666.7)" fill="#777779" opacity="0.51"/>
<ellipse cx="594.3" cy="628.0" rx="2.7" ry="1.6" transform="rotate(77 594.3 628.0)" fill="#777779" opacity="0.56"/>
<ellipse cx="594.6" cy="667.7" rx="2.6" ry="2.0" transform="rotate(56 594.6 667.7)" fill="#777779" opacity="0.71"/>
<ellipse cx="605.4" cy="643.9" rx="2.5" ry="1.6" transform="rotate(155 605.4 643.9)" fill="#777779" opacity="0.49"/>
<ellipse cx="595.7" cy="654.9" rx="2.9" ry="2.3" transform="rotate(141 595.7 654.9)" fill="#777779" opacity="0.40"/>
<ellipse cx="578.9" cy="648.3" rx="1.2" ry="1.0" transform="rotate(136 578.9 648.3)" fill="#777779" opacity="0.63"/>
<ellipse cx="582.3" cy="633.1" rx="2.3" ry="1.1" transform="rotate(143 582.3 633.1)" fill="#777779" opacity="0.58"/>
<ellipse cx="594.5" cy="628.5" rx="2.1" ry="1.5" transform="rotate(172 594.5 628.5)" fill="#777779" opacity="0.80"/>
<ellipse cx="599.2" cy="635.1" rx="2.2" ry="1.7" transform="rotate(31 599.2 635.1)" fill="#777779" opacity="0.56"/>
<ellipse cx="592.9" cy="660.0" rx="2.0" ry="1.0" transform="rotate(84 592.9 660.0)" fill="#777779" opacity="0.62"/>
<ellipse cx="602.5" cy="633.6" rx="1.5" ry="1.5" transform="rotate(23 602.5 633.6)" fill="#777779" opacity="0.75"/>
<ellipse cx="599.7" cy="668.0" rx="1.7" ry="1.5" transform="rotate(93 599.7 668.0)" fill="#777779" opacity="0.49"/>
<ellipse cx="584.9" cy="640.6" rx="2.7" ry="2.2" transform="rotate(95 584.9 640.6)" fill="#777779" opacity="0.50"/>
<ellipse cx="607.3" cy="636.1" rx="2.0" ry="1.3" transform="rotate(35 607.3 636.1)" fill="#777779" opacity="0.78"/>
<ellipse cx="602.1" cy="640.3" rx="3.8" ry="2.0" transform="rotate(59 602.1 640.3)" fill="#777779" opacity="0.41"/>
<ellipse cx="609.2" cy="632.2" rx="2.8" ry="1.3" transform="rotate(56 609.2 632.2)" fill="#777779" opacity="0.87"/>
<ellipse cx="596.9" cy="654.7" rx="2.7" ry="1.6" transform="rotate(98 596.9 654.7)" fill="#777779" opacity="0.54"/>
<ellipse cx="580.6" cy="640.9" rx="2.2" ry="1.7" transform="rotate(162 580.6 640.9)" fill="#777779" opacity="0.40"/>
<ellipse cx="591.5" cy="633.8" rx="2.1" ry="1.1" transform="rotate(50 591.5 633.8)" fill="#777779" opacity="0.61"/>
<ellipse cx="598.9" cy="632.8" rx="2.5" ry="2.3" transform="rotate(143 598.9 632.8)" fill="#777779" opacity="0.84"/>
<ellipse cx="610.4" cy="627.1" rx="3.2" ry="1.6" transform="rotate(11 610.4 627.1)" fill="#777779" opacity="0.46"/>
<ellipse cx="588.9" cy="623.6" rx="1.5" ry="1.2" transform="rotate(25 588.9 623.6)" fill="#777779" opacity="0.59"/>
<ellipse cx="592.4" cy="669.0" rx="2.5" ry="1.4" transform="rotate(99 592.4 669.0)" fill="#777779" opacity="0.55"/>
<ellipse cx="613.8" cy="658.0" rx="4.4" ry="2.3" transform="rotate(9 613.8 658.0)" fill="#777779" opacity="0.79"/>
<ellipse cx="593.8" cy="626.3" rx="1.1" ry="1.0" transform="rotate(60 593.8 626.3)" fill="#777779" opacity="0.59"/>
<ellipse cx="586.6" cy="639.3" rx="2.1" ry="1.0" transform="rotate(155 586.6 639.3)" fill="#777779" opacity="0.44"/>
<ellipse cx="592.3" cy="628.3" rx="4.1" ry="2.3" transform="rotate(3 592.3 628.3)" fill="#777779" opacity="0.51"/>
<ellipse cx="604.8" cy="631.6" rx="1.1" ry="1.0" transform="rotate(117 604.8 631.6)" fill="#777779" opacity="0.78"/>
<ellipse cx="595.4" cy="650.2" rx="4.8" ry="2.2" transform="rotate(144 595.4 650.2)" fill="#777779" opacity="0.68"/>
<ellipse cx="607.3" cy="626.2" rx="2.3" ry="2.2" transform="rotate(129 607.3 626.2)" fill="#777779" opacity="0.54"/>
<ellipse cx="589.4" cy="653.0" rx="1.7" ry="1.6" transform="rotate(107 589.4 653.0)" fill="#777779" opacity="0.74"/>
<ellipse cx="613.5" cy="643.1" rx="4.3" ry="2.3" transform="rotate(46 613.5 643.1)" fill="#777779" opacity="0.67"/>
<ellipse cx="599.6" cy="647.3" rx="2.6" ry="1.3" transform="rotate(68 599.6 647.3)" fill="#777779" opacity="0.71"/>
<ellipse cx="594.7" cy="665.8" rx="2.2" ry="1.1" transform="rotate(13 594.7 665.8)" fill="#777779" opacity="0.45"/>
<ellipse cx="592.3" cy="658.6" rx="2.5" ry="1.6" transform="rotate(170 592.3 658.6)" fill="#777779" opacity="0.82"/>
<ellipse cx="595.4" cy="651.0" rx="2.2" ry="1.5" transform="rotate(68 595.4 651.0)" fill="#777779" opacity="0.44"/>
<ellipse cx="611.3" cy="661.9" rx="3.6" ry="1.6" transform="rotate(173 611.3 661.9)" fill="#777779" opacity="0.54"/>
<ellipse cx="579.9" cy="643.6" rx="2.6" ry="2.4" transform="rotate(56 579.9 643.6)" fill="#777779" opacity="0.63"/>
<ellipse cx="586.7" cy="641.9" rx="1.9" ry="1.2" transform="rotate(75 586.7 641.9)" fill="#777779" opacity="0.44"/>
<ellipse cx="581.1" cy="642.5" rx="4.2" ry="2.0" transform="rotate(180 581.1 642.5)" fill="#777779" opacity="0.76"/>
<ellipse cx="612.2" cy="641.4" rx="1.9" ry="1.7" transform="rotate(112 612.2 641.4)" fill="#777779" opacity="0.53"/>
<ellipse cx="585.4" cy="639.5" rx="3.6" ry="1.8" transform="rotate(115 585.4 639.5)" fill="#777779" opacity="0.52"/>
<ellipse cx="582.2" cy="656.6" rx="3.5" ry="2.3" transform="rotate(165 582.2 656.6)" fill="#fff" opacity="0.72"/>
<ellipse cx="575.0" cy="657.9" rx="2.0" ry="1.3" transform="rotate(59 575.0 657.9)" fill="#fff" opacity="0.82"/>
<ellipse cx="583.2" cy="654.7" rx="2.5" ry="1.4" transform="rotate(42 583.2 654.7)" fill="#fff" opacity="0.99"/>
<ellipse cx="588.5" cy="658.2" rx="3.2" ry="1.9" transform="rotate(109 588.5 658.2)" fill="#fff" opacity="0.98"/>
<ellipse cx="603.4" cy="635.5" rx="1.6" ry="1.3" transform="rotate(91 603.4 635.5)" fill="#fff" opacity="0.80"/>
<ellipse cx="587.7" cy="677.1" rx="2.3" ry="1.6" transform="rotate(46 587.7 677.1)" fill="#fff" opacity="0.80"/>
<ellipse cx="608.9" cy="658.2" rx="2.9" ry="2.0" transform="rotate(172 608.9 658.2)" fill="#fff" opacity="0.72"/>
<ellipse cx="603.5" cy="620.8" rx="3.3" ry="2.0" transform="rotate(59 603.5 620.8)" fill="#fff" opacity="0.90"/>
<ellipse cx="589.1" cy="622.9" rx="1.8" ry="1.3" transform="rotate(178 589.1 622.9)" fill="#fff" opacity="0.92"/>
<ellipse cx="575.7" cy="655.7" rx="1.6" ry="1.5" transform="rotate(43 575.7 655.7)" fill="#fff" opacity="0.77"/>
<ellipse cx="578.3" cy="664.9" rx="3.1" ry="1.8" transform="rotate(150 578.3 664.9)" fill="#fff" opacity="0.82"/>
<ellipse cx="607.1" cy="625.6" rx="2.0" ry="1.5" transform="rotate(53 607.1 625.6)" fill="#fff" opacity="0.89"/>
<ellipse cx="596.8" cy="630.6" rx="1.8" ry="1.2" transform="rotate(150 596.8 630.6)" fill="#fff"/>
<ellipse cx="614.9" cy="637.7" rx="2.0" ry="1.6" transform="rotate(136 614.9 637.7)" fill="#fff" opacity="0.79"/>
<ellipse cx="612.3" cy="667.4" rx="1.8" ry="1.4" transform="rotate(147 612.3 667.4)" fill="#fff" opacity="0.85"/>
<ellipse cx="599.3" cy="634.4" rx="2.9" ry="1.8" transform="rotate(72 599.3 634.4)" fill="#fff" opacity="0.88"/>
<ellipse cx="582.8" cy="649.7" rx="3.9" ry="2.4" transform="rotate(117 582.8 649.7)" fill="#fff" opacity="0.92"/>
<ellipse cx="616.5" cy="658.3" rx="1.7" ry="1.2" transform="rotate(70 616.5 658.3)" fill="#fff" opacity="0.71"/>
<ellipse cx="590.0" cy="626.2" rx="2.0" ry="1.2" transform="rotate(56 590.0 626.2)" fill="#fff" opacity="0.76"/>
<ellipse cx="594.9" cy="619.2" rx="2.9" ry="2.5" transform="rotate(145 594.9 619.2)" fill="#fff" opacity="0.84"/>
<ellipse cx="587.6" cy="674.8" rx="4.3" ry="2.4" transform="rotate(79 587.6 674.8)" fill="#fff" opacity="0.92"/>
<ellipse cx="594.0" cy="658.8" rx="1.7" ry="1.4" transform="rotate(137 594.0 658.8)" fill="#fff"/>
<ellipse cx="584.5" cy="620.8" rx="2.8" ry="2.4" transform="rotate(6 584.5 620.8)" fill="#fff"/>
<ellipse cx="595.3" cy="660.6" rx="1.9" ry="1.2" transform="rotate(40 595.3 660.6)" fill="#fff" opacity="0.96"/>
<ellipse cx="597.0" cy="648.6" rx="2.4" ry="2.3" transform="rotate(99 597.0 648.6)" fill="#fff" opacity="0.87"/>
<ellipse cx="577" cy="652" rx="6" ry="14" fill="#fff"/>
<ellipse cx="613" cy="653" rx="5" ry="8" fill="#fff"/>
<ellipse cx="605.4" cy="666.5" rx="4.2" ry="4.6" fill="#302e2f"/>
<ellipse cx="600" cy="640" rx="3" ry="2" fill="#777"/>
<ellipse cx="584" cy="632" rx="3" ry="2" fill="#777"/>
</g>
</g></g>
<g filter="url(#bl)">
<ellipse cx="689.9" cy="632.1" rx="3.8" ry="1.7" transform="rotate(25 689.9 632.1)" fill="#fff"/>
<ellipse cx="703.8" cy="653.5" rx="2.6" ry="2.2" transform="rotate(164 703.8 653.5)" fill="#fff"/>
<ellipse cx="727.7" cy="667.8" rx="2.5" ry="1.7" transform="rotate(104 727.7 667.8)" fill="#fff"/>
<ellipse cx="713.5" cy="626.5" rx="2.0" ry="1.6" transform="rotate(144 713.5 626.5)" fill="#fff"/>
<ellipse cx="691.0" cy="661.7" rx="4.5" ry="1.9" transform="rotate(16 691.0 661.7)" fill="#fff"/>
<ellipse cx="716.8" cy="672.0" rx="2.9" ry="2.1" transform="rotate(167 716.8 672.0)" fill="#fff"/>
<ellipse cx="731.7" cy="665.0" rx="4.1" ry="2.0" transform="rotate(18 731.7 665.0)" fill="#fff"/>
<ellipse cx="694.6" cy="645.2" rx="2.1" ry="1.6" transform="rotate(110 694.6 645.2)" fill="#fff"/>
<ellipse cx="716.5" cy="664.5" rx="4.1" ry="2.0" transform="rotate(139 716.5 664.5)" fill="#fff"/>
<ellipse cx="731.5" cy="646.3" rx="1.9" ry="1.8" transform="rotate(127 731.5 646.3)" fill="#fff"/>
<ellipse cx="736.4" cy="648.3" rx="1.2" ry="1.2" transform="rotate(39 736.4 648.3)" fill="#fff"/>
<ellipse cx="690.3" cy="651.9" rx="1.6" ry="1.3" transform="rotate(151 690.3 651.9)" fill="#fff"/>
<ellipse cx="709.7" cy="642.5" rx="1.9" ry="1.1" transform="rotate(175 709.7 642.5)" fill="#fff"/>
<ellipse cx="733.5" cy="646.3" rx="5.1" ry="2.2" transform="rotate(139 733.5 646.3)" fill="#fff"/>
<ellipse cx="725.2" cy="641.9" rx="3.2" ry="1.5" transform="rotate(143 725.2 641.9)" fill="#fff"/>
<ellipse cx="709.8" cy="656.0" rx="2.1" ry="1.1" transform="rotate(114 709.8 656.0)" fill="#fff"/>
<ellipse cx="700.0" cy="627.0" rx="2.6" ry="2.1" transform="rotate(128 700.0 627.0)" fill="#fff"/>
<ellipse cx="716.2" cy="666.1" rx="4.5" ry="2.2" transform="rotate(155 716.2 666.1)" fill="#fff"/>
<ellipse cx="709.8" cy="620.5" rx="2.3" ry="1.9" transform="rotate(16 709.8 620.5)" fill="#fff"/>
<ellipse cx="725.6" cy="635.0" rx="3.0" ry="1.4" transform="rotate(94 725.6 635.0)" fill="#fff"/>
<ellipse cx="723.0" cy="626.0" rx="3.0" ry="1.3" transform="rotate(69 723.0 626.0)" fill="#fff"/>
<ellipse cx="724.8" cy="671.2" rx="2.8" ry="2.1" transform="rotate(180 724.8 671.2)" fill="#fff"/>
<ellipse cx="715.5" cy="624.6" rx="3.9" ry="2.2" transform="rotate(32 715.5 624.6)" fill="#fff"/>
<ellipse cx="716.8" cy="652.3" rx="1.9" ry="1.2" transform="rotate(35 716.8 652.3)" fill="#fff"/>
<ellipse cx="736.5" cy="651.7" rx="2.5" ry="1.4" transform="rotate(49 736.5 651.7)" fill="#fff"/>
<ellipse cx="701.7" cy="637.3" rx="2.7" ry="1.4" transform="rotate(148 701.7 637.3)" fill="#fff"/>
<ellipse cx="715.9" cy="639.6" rx="2.3" ry="1.3" transform="rotate(19 715.9 639.6)" fill="#fff"/>
<ellipse cx="717.9" cy="648.4" rx="3.5" ry="1.8" transform="rotate(143 717.9 648.4)" fill="#fff"/>
<ellipse cx="724.6" cy="672.1" rx="4.1" ry="2.1" transform="rotate(176 724.6 672.1)" fill="#fff"/>
<ellipse cx="716.5" cy="626.1" rx="1.8" ry="1.3" transform="rotate(175 716.5 626.1)" fill="#fff"/>
<ellipse cx="698.3" cy="628.4" rx="2.8" ry="2.0" transform="rotate(122 698.3 628.4)" fill="#fff"/>
<ellipse cx="713.8" cy="668.9" rx="3.3" ry="1.9" transform="rotate(162 713.8 668.9)" fill="#fff"/>
<ellipse cx="722.4" cy="663.5" rx="3.1" ry="1.7" transform="rotate(7 722.4 663.5)" fill="#fff"/>
<ellipse cx="710.4" cy="651.0" rx="3.7" ry="1.7" transform="rotate(137 710.4 651.0)" fill="#fff"/>
<ellipse cx="706.2" cy="642.3" rx="3.0" ry="1.4" transform="rotate(36 706.2 642.3)" fill="#fff"/>
<ellipse cx="727.4" cy="629.6" rx="2.0" ry="1.6" transform="rotate(31 727.4 629.6)" fill="#fff"/>
<ellipse cx="711.1" cy="643.8" rx="2.3" ry="1.3" transform="rotate(130 711.1 643.8)" fill="#fff"/>
<ellipse cx="734.1" cy="632.0" rx="2.7" ry="2.0" transform="rotate(13 734.1 632.0)" fill="#fff"/>
<ellipse cx="735.7" cy="649.1" rx="2.1" ry="1.4" transform="rotate(109 735.7 649.1)" fill="#fff"/>
<ellipse cx="730.2" cy="662.2" rx="2.6" ry="2.1" transform="rotate(112 730.2 662.2)" fill="#fff"/>
<ellipse cx="718.3" cy="659.8" rx="3.9" ry="1.9" transform="rotate(105 718.3 659.8)" fill="#fff"/>
<ellipse cx="720.1" cy="674.0" rx="2.5" ry="1.5" transform="rotate(98 720.1 674.0)" fill="#fff"/>
<ellipse cx="714.4" cy="628.6" rx="3.0" ry="1.8" transform="rotate(61 714.4 628.6)" fill="#fff"/>
<ellipse cx="700.4" cy="648.4" rx="1.8" ry="1.5" transform="rotate(84 700.4 648.4)" fill="#fff"/>
<ellipse cx="731.3" cy="632.0" rx="2.7" ry="1.7" transform="rotate(28 731.3 632.0)" fill="#fff"/>
<ellipse cx="713.8" cy="622.4" rx="1.7" ry="1.6" transform="rotate(161 713.8 622.4)" fill="#fff"/>
<ellipse cx="693.6" cy="667.3" rx="3.5" ry="1.6" transform="rotate(129 693.6 667.3)" fill="#fff"/>
<ellipse cx="700.7" cy="664.6" rx="1.6" ry="1.1" transform="rotate(52 700.7 664.6)" fill="#fff"/>
<ellipse cx="722.7" cy="669.0" rx="2.9" ry="1.8" transform="rotate(120 722.7 669.0)" fill="#fff"/>
<ellipse cx="725.2" cy="649.1" rx="4.4" ry="1.9" transform="rotate(120 725.2 649.1)" fill="#fff"/>
<ellipse cx="691.8" cy="657.6" rx="2.8" ry="2.0" transform="rotate(177 691.8 657.6)" fill="#fff"/>
<ellipse cx="722.2" cy="631.3" rx="3.1" ry="1.9" transform="rotate(43 722.2 631.3)" fill="#fff"/>
<ellipse cx="715.8" cy="622.4" rx="2.0" ry="1.9" transform="rotate(88 715.8 622.4)" fill="#fff"/>
<ellipse cx="712.5" cy="633.0" rx="2.2" ry="1.6" transform="rotate(21 712.5 633.0)" fill="#fff"/>
<ellipse cx="698.3" cy="667.7" rx="4.6" ry="2.2" transform="rotate(55 698.3 667.7)" fill="#fff"/>
<ellipse cx="700.9" cy="625.6" rx="1.9" ry="1.5" transform="rotate(54 700.9 625.6)" fill="#fff"/>
<ellipse cx="693.4" cy="642.5" rx="5.0" ry="2.2" transform="rotate(134 693.4 642.5)" fill="#fff"/>
<ellipse cx="719.6" cy="632.0" rx="2.6" ry="1.3" transform="rotate(158 719.6 632.0)" fill="#fff"/>
<ellipse cx="688.1" cy="644.9" rx="2.1" ry="1.3" transform="rotate(171 688.1 644.9)" fill="#fff"/>
<ellipse cx="694.9" cy="629.5" rx="2.7" ry="2.0" transform="rotate(89 694.9 629.5)" fill="#fff"/>
<ellipse cx="726.7" cy="656.9" rx="4.2" ry="1.8" transform="rotate(83 726.7 656.9)" fill="#fff"/>
<ellipse cx="695.4" cy="629.8" rx="3.3" ry="1.4" transform="rotate(146 695.4 629.8)" fill="#fff"/>
<ellipse cx="703.9" cy="672.5" rx="2.3" ry="1.9" transform="rotate(105 703.9 672.5)" fill="#fff"/>
<ellipse cx="700.2" cy="670.5" rx="2.6" ry="2.1" transform="rotate(96 700.2 670.5)" fill="#fff"/>
<ellipse cx="710.4" cy="658.1" rx="3.6" ry="1.7" transform="rotate(91 710.4 658.1)" fill="#fff"/>
<ellipse cx="712.9" cy="639.4" rx="2.9" ry="1.9" transform="rotate(78 712.9 639.4)" fill="#fff"/>
<ellipse cx="714.8" cy="626.1" rx="4.3" ry="2.0" transform="rotate(75 714.8 626.1)" fill="#fff"/>
<ellipse cx="712.3" cy="632.2" rx="1.7" ry="1.2" transform="rotate(174 712.3 632.2)" fill="#fff"/>
<ellipse cx="696.3" cy="633.4" rx="2.2" ry="1.4" transform="rotate(62 696.3 633.4)" fill="#fff"/>
<ellipse cx="709.0" cy="641.1" rx="2.6" ry="1.8" transform="rotate(138 709.0 641.1)" fill="#fff"/>
<ellipse cx="693.5" cy="640.6" rx="2.1" ry="1.6" transform="rotate(70 693.5 640.6)" fill="#fff"/>
<ellipse cx="715.8" cy="669.4" rx="3.1" ry="1.6" transform="rotate(22 715.8 669.4)" fill="#fff"/>
<ellipse cx="712.9" cy="649.2" rx="2.2" ry="1.2" transform="rotate(70 712.9 649.2)" fill="#fff"/>
<ellipse cx="703.1" cy="655.5" rx="5.0" ry="2.2" transform="rotate(73 703.1 655.5)" fill="#fff"/>
<ellipse cx="724.7" cy="623.8" rx="2.7" ry="1.7" transform="rotate(88 724.7 623.8)" fill="#fff"/>
<ellipse cx="697.5" cy="627.3" rx="2.7" ry="1.2" transform="rotate(107 697.5 627.3)" fill="#fff"/>
<ellipse cx="714.2" cy="669.9" rx="3.3" ry="2.0" transform="rotate(109 714.2 669.9)" fill="#fff"/>
<ellipse cx="707.1" cy="641.3" rx="3.2" ry="1.5" transform="rotate(151 707.1 641.3)" fill="#fff"/>
<ellipse cx="710.9" cy="642.2" rx="2.0" ry="2.0" transform="rotate(56 710.9 642.2)" fill="#fff"/>
<ellipse cx="706.1" cy="674.6" rx="2.3" ry="1.7" transform="rotate(46 706.1 674.6)" fill="#fff"/>
<ellipse cx="712.2" cy="640.5" rx="4.7" ry="2.0" transform="rotate(5 712.2 640.5)" fill="#fff"/>
<ellipse cx="725.5" cy="629.7" rx="2.8" ry="1.4" transform="rotate(6 725.5 629.7)" fill="#fff"/>
<ellipse cx="723.8" cy="624.9" rx="3.3" ry="2.0" transform="rotate(148 723.8 624.9)" fill="#fff"/>
<ellipse cx="710.5" cy="632.2" rx="3.0" ry="1.9" transform="rotate(101 710.5 632.2)" fill="#fff"/>
<ellipse cx="718.4" cy="619.2" rx="3.8" ry="2.1" transform="rotate(72 718.4 619.2)" fill="#fff"/>
<ellipse cx="722.4" cy="665.0" rx="3.6" ry="1.9" transform="rotate(162 722.4 665.0)" fill="#fff"/>
<ellipse cx="707.4" cy="632.7" rx="3.2" ry="1.6" transform="rotate(47 707.4 632.7)" fill="#fff"/>
<ellipse cx="728.5" cy="649.5" rx="3.4" ry="1.5" transform="rotate(126 728.5 649.5)" fill="#fff"/>
<ellipse cx="691.0" cy="654.1" rx="2.4" ry="1.1" transform="rotate(58 691.0 654.1)" fill="#fff"/>
<ellipse cx="697.7" cy="629.8" rx="2.8" ry="1.4" transform="rotate(177 697.7 629.8)" fill="#fff"/>
<ellipse cx="702.8" cy="635.6" rx="2.0" ry="1.2" transform="rotate(139 702.8 635.6)" fill="#fff"/>
<ellipse cx="697.9" cy="648.1" rx="3.3" ry="1.6" transform="rotate(175 697.9 648.1)" fill="#fff"/>
<ellipse cx="714.9" cy="621.5" rx="3.2" ry="1.7" transform="rotate(29 714.9 621.5)" fill="#fff"/>
<ellipse cx="689.1" cy="658.1" rx="3.1" ry="1.3" transform="rotate(104 689.1 658.1)" fill="#fff"/>
<ellipse cx="712.7" cy="630.4" rx="1.5" ry="1.5" transform="rotate(38 712.7 630.4)" fill="#fff"/>
<ellipse cx="688.5" cy="648.9" rx="2.2" ry="1.6" transform="rotate(37 688.5 648.9)" fill="#fff"/>
<ellipse cx="713.3" cy="636.7" rx="3.4" ry="1.5" transform="rotate(6 713.3 636.7)" fill="#fff"/>
<ellipse cx="723.6" cy="659.7" rx="1.1" ry="1.1" transform="rotate(46 723.6 659.7)" fill="#fff"/>
<ellipse cx="687.2" cy="642.4" rx="2.1" ry="1.6" transform="rotate(75 687.2 642.4)" fill="#fff"/>
<ellipse cx="726.3" cy="670.9" rx="3.4" ry="2.1" transform="rotate(177 726.3 670.9)" fill="#fff"/>
<ellipse cx="726.8" cy="647.5" rx="2.5" ry="1.5" transform="rotate(67 726.8 647.5)" fill="#fff"/>
<ellipse cx="697.9" cy="658.8" rx="4.1" ry="1.9" transform="rotate(97 697.9 658.8)" fill="#fff"/>
<ellipse cx="719.3" cy="668.3" rx="3.3" ry="1.5" transform="rotate(49 719.3 668.3)" fill="#fff"/>
<ellipse cx="728.2" cy="644.8" rx="2.5" ry="1.1" transform="rotate(82 728.2 644.8)" fill="#fff"/>
<ellipse cx="718.7" cy="658.6" rx="4.2" ry="1.9" transform="rotate(173 718.7 658.6)" fill="#fff"/>
</g>
<g filter="url(#bl)">
<circle cx="737.4" cy="647.5" r="1.9" fill="#fff"/>
<circle cx="737.0" cy="654.6" r="1.4" fill="#fff"/>
<circle cx="736.2" cy="659.2" r="1.8" fill="#fff"/>
<circle cx="733.6" cy="664.7" r="1.4" fill="#fff"/>
<circle cx="730.0" cy="668.6" r="1.9" fill="#fff"/>
<circle cx="723.3" cy="673.1" r="2.1" fill="#fff"/>
<circle cx="719.7" cy="676.2" r="1.7" fill="#fff"/>
<circle cx="714.6" cy="677.3" r="2.4" fill="#fff"/>
<circle cx="710.7" cy="677.5" r="1.5" fill="#fff"/>
<circle cx="704.9" cy="677.4" r="1.9" fill="#fff"/>
<circle cx="697.8" cy="673.7" r="1.7" fill="#fff"/>
<circle cx="696.2" cy="670.6" r="2.0" fill="#fff"/>
<circle cx="691.6" cy="664.3" r="2.2" fill="#fff"/>
<circle cx="687.6" cy="660.6" r="2.3" fill="#fff"/>
<circle cx="686.3" cy="652.3" r="1.6" fill="#fff"/>
<circle cx="685.7" cy="645.5" r="1.5" fill="#fff"/>
<circle cx="685.7" cy="640.6" r="2.1" fill="#fff"/>
<circle cx="689.1" cy="633.7" r="2.2" fill="#fff"/>
<circle cx="691.9" cy="629.7" r="1.8" fill="#fff"/>
<circle cx="693.5" cy="624.9" r="1.4" fill="#fff"/>
<circle cx="697.8" cy="621.3" r="1.5" fill="#fff"/>
<circle cx="702.7" cy="617.7" r="1.9" fill="#fff"/>
<circle cx="709.5" cy="616.2" r="2.1" fill="#fff"/>
<circle cx="714.8" cy="615.3" r="1.9" fill="#fff"/>
<circle cx="720.9" cy="619.5" r="1.6" fill="#fff"/>
<circle cx="723.2" cy="619.2" r="1.6" fill="#fff"/>
<circle cx="727.9" cy="625.0" r="1.8" fill="#fff"/>
<circle cx="731.5" cy="627.6" r="2.0" fill="#fff"/>
<circle cx="736.4" cy="634.0" r="2.2" fill="#fff"/>
<circle cx="738.3" cy="640.9" r="1.7" fill="#fff"/>
<circle cx="801.9" cy="648.2" r="2" fill="#fff"/>
<circle cx="814.4" cy="629.7" r="2.5" fill="#fff"/>
<circle cx="818.9" cy="627.2" r="3" fill="#fff"/>
<circle cx="828.8" cy="628.2" r="2.7" fill="#fff"/>
<circle cx="826.4" cy="641.4" r="3.2" fill="#fff"/>
<ellipse cx="827.4" cy="648.4" rx="3.0" ry="3.6" fill="#fff"/>
<circle cx="833.8" cy="637.2" r="1.5" fill="#fff"/>
<ellipse cx="840.1" cy="643.4" rx="3.1" ry="3.9" fill="#fff"/>
<ellipse cx="823.9" cy="658.4" rx="2.5" ry="3.6" fill="#fff"/>
<ellipse cx="817.4" cy="664.4" rx="2.7" ry="4.2" fill="#fff"/>
<circle cx="837.3" cy="660.9" r="2.5" fill="#fff"/>
<ellipse cx="831.1" cy="673.3" rx="2.6" ry="3.9" fill="#fff"/>
<circle cx="836.8" cy="678.8" r="1.7" fill="#fff"/>
<circle cx="834.3" cy="655.1" r="1.3" fill="#fff"/>
</g>
<clipPath id="cc3"><path d="M623.0,734.6 622.8,739.0 622.0,743.3 620.7,747.4 618.7,751.1 616.4,754.5 613.9,757.5 611.1,760.3 608.1,762.7 604.9,764.5 601.4,765.7 597.9,766.5 594.3,766.9 590.7,767.0 587.0,766.5 583.5,765.3 580.2,763.1 577.4,760.4 574.8,757.4 572.4,754.3 570.2,750.9 568.4,747.2 567.2,743.1 566.5,738.9 566.3,734.6 566.4,730.3 566.8,726.0 567.7,721.7 569.2,717.6 571.3,714.0 574.1,710.9 577.3,708.6 580.6,706.8 584.0,705.4 587.3,704.0 590.7,702.7 594.3,701.8 598.0,701.6 601.6,702.5 605.0,704.4 607.9,707.0 610.6,709.7 613.4,712.3 616.1,715.0 618.7,718.1 620.8,721.7 622.1,725.9 622.8,730.2Z"/></clipPath><g filter="url(#bl)"><g clip-path="url(#cc3)">
<path d="M623.0,734.6 622.8,739.0 622.0,743.3 620.7,747.4 618.7,751.1 616.4,754.5 613.9,757.5 611.1,760.3 608.1,762.7 604.9,764.5 601.4,765.7 597.9,766.5 594.3,766.9 590.7,767.0 587.0,766.5 583.5,765.3 580.2,763.1 577.4,760.4 574.8,757.4 572.4,754.3 570.2,750.9 568.4,747.2 567.2,743.1 566.5,738.9 566.3,734.6 566.4,730.3 566.8,726.0 567.7,721.7 569.2,717.6 571.3,714.0 574.1,710.9 577.3,708.6 580.6,706.8 584.0,705.4 587.3,704.0 590.7,702.7 594.3,701.8 598.0,701.6 601.6,702.5 605.0,704.4 607.9,707.0 610.6,709.7 613.4,712.3 616.1,715.0 618.7,718.1 620.8,721.7 622.1,725.9 622.8,730.2Z" fill="#fff"/>
<g filter="url(#bl)">
<ellipse cx="598" cy="735.5" rx="22" ry="28.5" fill="#4a494b"/>
<ellipse cx="589.9" cy="729.3" rx="3.8" ry="2.0" transform="rotate(35 589.9 729.3)" fill="#cfcfcf" opacity="0.65"/>
<ellipse cx="604.9" cy="724.4" rx="1.8" ry="1.5" transform="rotate(149 604.9 724.4)" fill="#cfcfcf" opacity="0.57"/>
<ellipse cx="608.1" cy="711.2" rx="2.9" ry="1.6" transform="rotate(10 608.1 711.2)" fill="#cfcfcf" opacity="0.81"/>
<ellipse cx="606.3" cy="720.7" rx="4.1" ry="2.3" transform="rotate(82 606.3 720.7)" fill="#cfcfcf" opacity="0.65"/>
<ellipse cx="599.3" cy="717.6" rx="2.5" ry="2.2" transform="rotate(12 599.3 717.6)" fill="#cfcfcf" opacity="0.81"/>
<ellipse cx="585.1" cy="715.0" rx="1.7" ry="1.4" transform="rotate(28 585.1 715.0)" fill="#cfcfcf" opacity="0.51"/>
<ellipse cx="584.4" cy="723.5" rx="1.7" ry="1.5" transform="rotate(50 584.4 723.5)" fill="#cfcfcf" opacity="0.86"/>
<ellipse cx="605.9" cy="716.9" rx="3.6" ry="1.8" transform="rotate(176 605.9 716.9)" fill="#cfcfcf" opacity="0.59"/>
<ellipse cx="613.9" cy="721.9" rx="4.1" ry="2.5" transform="rotate(58 613.9 721.9)" fill="#cfcfcf" opacity="0.85"/>
<ellipse cx="600.0" cy="716.5" rx="2.5" ry="1.9" transform="rotate(147 600.0 716.5)" fill="#cfcfcf" opacity="0.46"/>
<ellipse cx="604.3" cy="710.1" rx="4.8" ry="2.4" transform="rotate(124 604.3 710.1)" fill="#cfcfcf" opacity="0.51"/>
<ellipse cx="585.6" cy="729.3" rx="3.9" ry="2.1" transform="rotate(35 585.6 729.3)" fill="#cfcfcf" opacity="0.45"/>
<ellipse cx="596.0" cy="734.3" rx="3.0" ry="2.5" transform="rotate(111 596.0 734.3)" fill="#cfcfcf" opacity="0.78"/>
<ellipse cx="602.1" cy="718.2" rx="2.8" ry="1.5" transform="rotate(70 602.1 718.2)" fill="#cfcfcf" opacity="0.66"/>
<ellipse cx="605.6" cy="712.6" rx="2.5" ry="2.5" transform="rotate(105 605.6 712.6)" fill="#cfcfcf" opacity="0.46"/>
<ellipse cx="592.6" cy="732.5" rx="1.7" ry="1.5" transform="rotate(9 592.6 732.5)" fill="#cfcfcf" opacity="0.87"/>
<ellipse cx="615.0" cy="720.1" rx="3.0" ry="2.3" transform="rotate(162 615.0 720.1)" fill="#cfcfcf" opacity="0.54"/>
<ellipse cx="586.4" cy="727.4" rx="2.1" ry="1.7" transform="rotate(38 586.4 727.4)" fill="#cfcfcf" opacity="0.59"/>
<ellipse cx="604.1" cy="729.8" rx="3.4" ry="2.3" transform="rotate(85 604.1 729.8)" fill="#cfcfcf" opacity="0.53"/>
<ellipse cx="598.1" cy="722.7" rx="1.6" ry="1.4" transform="rotate(107 598.1 722.7)" fill="#cfcfcf" opacity="0.67"/>
<ellipse cx="585.6" cy="716.4" rx="3.6" ry="2.5" transform="rotate(153 585.6 716.4)" fill="#cfcfcf" opacity="0.78"/>
<ellipse cx="605.5" cy="725.2" rx="3.0" ry="1.5" transform="rotate(44 605.5 725.2)" fill="#cfcfcf" opacity="0.65"/>
<ellipse cx="613.7" cy="730.1" rx="2.5" ry="2.2" transform="rotate(20 613.7 730.1)" fill="#cfcfcf" opacity="0.80"/>
<ellipse cx="610.8" cy="713.3" rx="2.5" ry="1.6" transform="rotate(146 610.8 713.3)" fill="#cfcfcf" opacity="0.59"/>
<ellipse cx="598.4" cy="710.2" rx="2.7" ry="1.9" transform="rotate(13 598.4 710.2)" fill="#cfcfcf" opacity="0.89"/>
<ellipse cx="596.2" cy="718.3" rx="4.4" ry="2.5" transform="rotate(146 596.2 718.3)" fill="#cfcfcf" opacity="0.73"/>
<ellipse cx="605.2" cy="716.8" rx="1.9" ry="1.3" transform="rotate(148 605.2 716.8)" fill="#cfcfcf" opacity="0.82"/>
<ellipse cx="617.8" cy="720.5" rx="2.1" ry="1.6" transform="rotate(28 617.8 720.5)" fill="#cfcfcf" opacity="0.44"/>
<ellipse cx="598.2" cy="727.9" rx="2.3" ry="1.8" transform="rotate(174 598.2 727.9)" fill="#cfcfcf" opacity="0.74"/>
<ellipse cx="589.2" cy="717.5" rx="2.6" ry="1.3" transform="rotate(123 589.2 717.5)" fill="#cfcfcf" opacity="0.89"/>
<ellipse cx="597.0" cy="714.8" rx="3.6" ry="2.5" transform="rotate(148 597.0 714.8)" fill="#cfcfcf" opacity="0.44"/>
<ellipse cx="614.7" cy="728.1" rx="2.4" ry="2.4" transform="rotate(30 614.7 728.1)" fill="#cfcfcf" opacity="0.42"/>
<ellipse cx="602.8" cy="714.8" rx="3.2" ry="2.4" transform="rotate(37 602.8 714.8)" fill="#cfcfcf" opacity="0.75"/>
<ellipse cx="601.3" cy="723.6" rx="3.1" ry="2.0" transform="rotate(36 601.3 723.6)" fill="#cfcfcf" opacity="0.75"/>
<ellipse cx="613.0" cy="738.6" rx="3.9" ry="1.9" transform="rotate(150 613.0 738.6)" fill="#bbb" opacity="0.49"/>
<ellipse cx="589.2" cy="735.8" rx="3.0" ry="1.8" transform="rotate(129 589.2 735.8)" fill="#bbb" opacity="0.62"/>
<ellipse cx="611.1" cy="745.1" rx="1.5" ry="1.2" transform="rotate(75 611.1 745.1)" fill="#bbb" opacity="0.79"/>
<ellipse cx="584.2" cy="738.1" rx="3.2" ry="1.9" transform="rotate(83 584.2 738.1)" fill="#bbb" opacity="0.38"/>
<ellipse cx="597.6" cy="727.2" rx="3.1" ry="2.0" transform="rotate(137 597.6 727.2)" fill="#bbb" opacity="0.64"/>
<ellipse cx="609.5" cy="732.1" rx="1.9" ry="1.1" transform="rotate(57 609.5 732.1)" fill="#bbb" opacity="0.67"/>
<ellipse cx="576.9" cy="724.5" rx="2.8" ry="2.1" transform="rotate(59 576.9 724.5)" fill="#bbb" opacity="0.58"/>
<ellipse cx="598.8" cy="760.4" rx="1.7" ry="1.1" transform="rotate(178 598.8 760.4)" fill="#bbb" opacity="0.51"/>
<ellipse cx="583.6" cy="719.1" rx="2.3" ry="1.3" transform="rotate(140 583.6 719.1)" fill="#bbb" opacity="0.38"/>
<ellipse cx="581.2" cy="758.6" rx="2.5" ry="2.1" transform="rotate(18 581.2 758.6)" fill="#bbb" opacity="0.71"/>
<ellipse cx="589.7" cy="747.4" rx="2.4" ry="1.7" transform="rotate(12 589.7 747.4)" fill="#bbb" opacity="0.34"/>
<ellipse cx="605.5" cy="743.7" rx="3.1" ry="1.9" transform="rotate(56 605.5 743.7)" fill="#bbb" opacity="0.60"/>
<ellipse cx="606.7" cy="723.1" rx="3.9" ry="2.0" transform="rotate(163 606.7 723.1)" fill="#bbb" opacity="0.61"/>
<ellipse cx="604.4" cy="753.4" rx="3.1" ry="1.6" transform="rotate(46 604.4 753.4)" fill="#bbb" opacity="0.61"/>
<ellipse cx="590.1" cy="756.9" rx="2.9" ry="1.9" transform="rotate(66 590.1 756.9)" fill="#bbb" opacity="0.57"/>
<ellipse cx="596.8" cy="734.5" rx="2.0" ry="1.1" transform="rotate(116 596.8 734.5)" fill="#bbb" opacity="0.42"/>
<ellipse cx="593.3" cy="737.9" rx="2.2" ry="1.3" transform="rotate(100 593.3 737.9)" fill="#bbb" opacity="0.41"/>
<ellipse cx="585.6" cy="753.2" rx="3.1" ry="2.2" transform="rotate(121 585.6 753.2)" fill="#bbb" opacity="0.77"/>
<ellipse cx="587.5" cy="760.9" rx="2.0" ry="1.4" transform="rotate(177 587.5 760.9)" fill="#bbb" opacity="0.55"/>
<ellipse cx="601.8" cy="716.6" rx="1.9" ry="1.2" transform="rotate(168 601.8 716.6)" fill="#bbb" opacity="0.60"/>
<ellipse cx="607.6" cy="734.6" rx="2.0" ry="1.7" transform="rotate(149 607.6 734.6)" fill="#bbb" opacity="0.55"/>
<ellipse cx="608.7" cy="749.9" rx="3.1" ry="2.1" transform="rotate(124 608.7 749.9)" fill="#bbb" opacity="0.71"/>
<ellipse cx="590.5" cy="715.6" rx="3.0" ry="1.6" transform="rotate(166 590.5 715.6)" fill="#bbb" opacity="0.32"/>
<ellipse cx="594.5" cy="747.3" rx="2.3" ry="2.0" transform="rotate(13 594.5 747.3)" fill="#bbb" opacity="0.36"/>
<ellipse cx="585.5" cy="757.2" rx="2.8" ry="2.1" transform="rotate(90 585.5 757.2)" fill="#bbb" opacity="0.55"/>
<ellipse cx="611.9" cy="743.2" rx="4.1" ry="2.1" transform="rotate(21 611.9 743.2)" fill="#bbb" opacity="0.72"/>
<ellipse cx="594.8" cy="715.3" rx="1.7" ry="1.1" transform="rotate(144 594.8 715.3)" fill="#bbb" opacity="0.41"/>
<ellipse cx="579.0" cy="729.0" rx="1.6" ry="1.1" transform="rotate(106 579.0 729.0)" fill="#bbb" opacity="0.45"/>
<ellipse cx="584.7" cy="758.5" rx="2.6" ry="1.4" transform="rotate(87 584.7 758.5)" fill="#bbb" opacity="0.72"/>
<ellipse cx="597.0" cy="734.9" rx="3.8" ry="2.0" transform="rotate(160 597.0 734.9)" fill="#bbb" opacity="0.46"/>
<ellipse cx="597.6" cy="742.7" rx="2.3" ry="1.9" transform="rotate(64 597.6 742.7)" fill="#bbb" opacity="0.58"/>
<ellipse cx="578.1" cy="743.7" rx="2.1" ry="1.3" transform="rotate(107 578.1 743.7)" fill="#bbb" opacity="0.36"/>
<ellipse cx="582.7" cy="725.7" rx="3.4" ry="2.0" transform="rotate(118 582.7 725.7)" fill="#bbb" opacity="0.52"/>
<ellipse cx="589.8" cy="735.8" rx="2.9" ry="1.7" transform="rotate(153 589.8 735.8)" fill="#bbb" opacity="0.46"/>
<ellipse cx="579.1" cy="742.2" rx="3.5" ry="1.8" transform="rotate(103 579.1 742.2)" fill="#bbb" opacity="0.44"/>
<ellipse cx="577.0" cy="727.0" rx="3.5" ry="1.8" transform="rotate(164 577.0 727.0)" fill="#bbb" opacity="0.54"/>
<ellipse cx="587.6" cy="758.3" rx="1.6" ry="1.6" transform="rotate(133 587.6 758.3)" fill="#bbb" opacity="0.77"/>
<ellipse cx="592.3" cy="759.3" rx="3.7" ry="2.0" transform="rotate(132 592.3 759.3)" fill="#bbb" opacity="0.49"/>
<ellipse cx="588.8" cy="736.5" rx="1.8" ry="1.7" transform="rotate(65 588.8 736.5)" fill="#bbb" opacity="0.62"/>
<ellipse cx="590.7" cy="754.1" rx="2.1" ry="2.0" transform="rotate(25 590.7 754.1)" fill="#bbb" opacity="0.75"/>
<ellipse cx="577.1" cy="734.1" rx="2.4" ry="1.9" transform="rotate(93 577.1 734.1)" fill="#bbb" opacity="0.41"/>
<ellipse cx="583.9" cy="743.5" rx="1.8" ry="1.2" transform="rotate(44 583.9 743.5)" fill="#bbb" opacity="0.67"/>
<ellipse cx="580.7" cy="720.4" rx="3.5" ry="1.9" transform="rotate(162 580.7 720.4)" fill="#bbb" opacity="0.68"/>
<ellipse cx="599.2" cy="753.3" rx="1.2" ry="1.1" transform="rotate(102 599.2 753.3)" fill="#bbb" opacity="0.65"/>
<ellipse cx="604.9" cy="722.2" rx="2.1" ry="2.0" transform="rotate(6 604.9 722.2)" fill="#bbb" opacity="0.37"/>
<ellipse cx="581.1" cy="735.8" rx="1.6" ry="1.2" transform="rotate(154 581.1 735.8)" fill="#bbb" opacity="0.52"/>
<ellipse cx="586.3" cy="733.1" rx="2.7" ry="2.2" transform="rotate(165 586.3 733.1)" fill="#302e2f" opacity="0.75"/>
<ellipse cx="586.0" cy="742.2" rx="5.0" ry="3.7" transform="rotate(127 586.0 742.2)" fill="#302e2f" opacity="0.82"/>
<ellipse cx="598.7" cy="726.8" rx="4.0" ry="3.9" transform="rotate(0 598.7 726.8)" fill="#302e2f" opacity="0.65"/>
<ellipse cx="598.3" cy="731.4" rx="3.6" ry="3.4" transform="rotate(175 598.3 731.4)" fill="#302e2f" opacity="0.74"/>
<ellipse cx="605.5" cy="746.8" rx="4.5" ry="3.0" transform="rotate(164 605.5 746.8)" fill="#302e2f" opacity="0.70"/>
<ellipse cx="609.2" cy="740.6" rx="4.1" ry="3.9" transform="rotate(176 609.2 740.6)" fill="#302e2f" opacity="0.83"/>
<ellipse cx="596.7" cy="759.7" rx="2.9" ry="2.5" transform="rotate(58 596.7 759.7)" fill="#302e2f" opacity="0.96"/>
<ellipse cx="598.1" cy="721.1" rx="5.6" ry="3.8" transform="rotate(12 598.1 721.1)" fill="#302e2f" opacity="0.75"/>
<ellipse cx="586.5" cy="750.0" rx="4.4" ry="3.4" transform="rotate(162 586.5 750.0)" fill="#302e2f" opacity="0.92"/>
<ellipse cx="583.3" cy="746.2" rx="2.5" ry="2.2" transform="rotate(96 583.3 746.2)" fill="#302e2f" opacity="0.94"/>
<ellipse cx="596.3" cy="737.1" rx="5.3" ry="3.5" transform="rotate(80 596.3 737.1)" fill="#302e2f" opacity="0.83"/>
<ellipse cx="597.1" cy="757.1" rx="3.0" ry="2.5" transform="rotate(7 597.1 757.1)" fill="#302e2f" opacity="0.87"/>
<ellipse cx="597.7" cy="744.2" rx="3.6" ry="3.2" transform="rotate(135 597.7 744.2)" fill="#302e2f" opacity="0.71"/>
<ellipse cx="598.3" cy="726.2" rx="4.8" ry="3.0" transform="rotate(1 598.3 726.2)" fill="#302e2f" opacity="0.91"/>
<ellipse cx="589.4" cy="740.5" rx="5.8" ry="3.8" transform="rotate(73 589.4 740.5)" fill="#302e2f" opacity="0.60"/>
<ellipse cx="590.0" cy="752.9" rx="3.4" ry="2.2" transform="rotate(97 590.0 752.9)" fill="#302e2f" opacity="0.93"/>
</g>
</g></g>
<g filter="url(#bl)">
<ellipse cx="691.7" cy="720.7" rx="2.3" ry="1.6" transform="rotate(149 691.7 720.7)" fill="#fff"/>
<ellipse cx="714.7" cy="740.9" rx="1.9" ry="1.3" transform="rotate(128 714.7 740.9)" fill="#fff"/>
<ellipse cx="720.8" cy="758.7" rx="1.2" ry="1.2" transform="rotate(48 720.8 758.7)" fill="#fff"/>
<ellipse cx="718.9" cy="723.8" rx="1.9" ry="1.2" transform="rotate(24 718.9 723.8)" fill="#fff"/>
<ellipse cx="730.2" cy="745.9" rx="1.3" ry="1.1" transform="rotate(16 730.2 745.9)" fill="#fff"/>
<ellipse cx="707.8" cy="707.9" rx="3.8" ry="1.8" transform="rotate(41 707.8 707.9)" fill="#fff"/>
<ellipse cx="692.8" cy="722.9" rx="4.1" ry="2.2" transform="rotate(0 692.8 722.9)" fill="#fff"/>
<ellipse cx="728.1" cy="715.3" rx="3.5" ry="2.0" transform="rotate(67 728.1 715.3)" fill="#fff"/>
<ellipse cx="716.3" cy="750.3" rx="2.4" ry="1.3" transform="rotate(179 716.3 750.3)" fill="#fff"/>
<ellipse cx="697.0" cy="724.9" rx="2.6" ry="2.0" transform="rotate(27 697.0 724.9)" fill="#fff"/>
<ellipse cx="693.2" cy="715.0" rx="3.6" ry="1.5" transform="rotate(168 693.2 715.0)" fill="#fff"/>
<ellipse cx="713.7" cy="716.9" rx="2.3" ry="1.3" transform="rotate(112 713.7 716.9)" fill="#fff"/>
<ellipse cx="705.5" cy="733.3" rx="2.1" ry="1.6" transform="rotate(121 705.5 733.3)" fill="#fff"/>
<ellipse cx="700.7" cy="746.0" rx="4.4" ry="2.0" transform="rotate(111 700.7 746.0)" fill="#fff"/>
<ellipse cx="697.2" cy="723.5" rx="2.9" ry="1.6" transform="rotate(114 697.2 723.5)" fill="#fff"/>
<ellipse cx="702.7" cy="718.7" rx="4.5" ry="2.2" transform="rotate(27 702.7 718.7)" fill="#fff"/>
<ellipse cx="710.5" cy="711.4" rx="3.4" ry="1.6" transform="rotate(84 710.5 711.4)" fill="#fff"/>
<ellipse cx="718.2" cy="737.1" rx="3.1" ry="1.5" transform="rotate(158 718.2 737.1)" fill="#fff"/>
<ellipse cx="702.8" cy="744.7" rx="4.5" ry="2.2" transform="rotate(104 702.8 744.7)" fill="#fff"/>
<ellipse cx="702.3" cy="755.5" rx="1.7" ry="1.3" transform="rotate(64 702.3 755.5)" fill="#fff"/>
<ellipse cx="730.4" cy="744.0" rx="1.9" ry="1.5" transform="rotate(70 730.4 744.0)" fill="#fff"/>
<ellipse cx="698.0" cy="714.9" rx="2.9" ry="2.1" transform="rotate(176 698.0 714.9)" fill="#fff"/>
<ellipse cx="714.7" cy="724.0" rx="2.2" ry="2.1" transform="rotate(149 714.7 724.0)" fill="#fff"/>
<ellipse cx="729.4" cy="746.9" rx="3.1" ry="1.8" transform="rotate(82 729.4 746.9)" fill="#fff"/>
<ellipse cx="702.6" cy="705.6" rx="3.4" ry="1.6" transform="rotate(69 702.6 705.6)" fill="#fff"/>
<ellipse cx="736.1" cy="730.4" rx="1.7" ry="1.4" transform="rotate(83 736.1 730.4)" fill="#fff"/>
<ellipse cx="731.8" cy="733.7" rx="4.9" ry="2.1" transform="rotate(90 731.8 733.7)" fill="#fff"/>
<ellipse cx="697.0" cy="723.6" rx="3.2" ry="2.0" transform="rotate(131 697.0 723.6)" fill="#fff"/>
<ellipse cx="712.9" cy="716.7" rx="3.7" ry="1.7" transform="rotate(61 712.9 716.7)" fill="#fff"/>
<ellipse cx="693.5" cy="730.1" rx="2.3" ry="1.3" transform="rotate(146 693.5 730.1)" fill="#fff"/>
<ellipse cx="707.0" cy="711.0" rx="2.5" ry="1.5" transform="rotate(140 707.0 711.0)" fill="#fff"/>
<ellipse cx="690.9" cy="724.5" rx="3.5" ry="1.5" transform="rotate(177 690.9 724.5)" fill="#fff"/>
<ellipse cx="707.4" cy="758.6" rx="2.3" ry="1.2" transform="rotate(167 707.4 758.6)" fill="#fff"/>
<ellipse cx="702.0" cy="732.1" rx="4.3" ry="1.9" transform="rotate(86 702.0 732.1)" fill="#fff"/>
<ellipse cx="732.2" cy="740.3" rx="4.2" ry="2.0" transform="rotate(148 732.2 740.3)" fill="#fff"/>
<ellipse cx="722.4" cy="716.7" rx="2.8" ry="1.2" transform="rotate(144 722.4 716.7)" fill="#fff"/>
<ellipse cx="716.7" cy="757.6" rx="3.1" ry="2.2" transform="rotate(81 716.7 757.6)" fill="#fff"/>
<ellipse cx="698.6" cy="726.6" rx="2.1" ry="1.3" transform="rotate(44 698.6 726.6)" fill="#fff"/>
<ellipse cx="735.5" cy="733.1" rx="2.7" ry="1.3" transform="rotate(27 735.5 733.1)" fill="#fff"/>
<ellipse cx="722.8" cy="750.1" rx="2.4" ry="1.6" transform="rotate(96 722.8 750.1)" fill="#fff"/>
<ellipse cx="721.6" cy="755.2" rx="2.3" ry="1.3" transform="rotate(130 721.6 755.2)" fill="#fff"/>
<ellipse cx="730.5" cy="751.0" rx="4.5" ry="2.0" transform="rotate(87 730.5 751.0)" fill="#fff"/>
<ellipse cx="713.6" cy="721.9" rx="4.3" ry="2.1" transform="rotate(17 713.6 721.9)" fill="#fff"/>
<ellipse cx="730.2" cy="718.5" rx="3.0" ry="1.3" transform="rotate(4 730.2 718.5)" fill="#fff"/>
<ellipse cx="691.3" cy="730.0" rx="2.4" ry="1.5" transform="rotate(178 691.3 730.0)" fill="#fff"/>
<ellipse cx="703.8" cy="753.0" rx="1.3" ry="1.2" transform="rotate(54 703.8 753.0)" fill="#fff"/>
<ellipse cx="697.1" cy="709.4" rx="4.3" ry="2.1" transform="rotate(61 697.1 709.4)" fill="#fff"/>
<ellipse cx="727.6" cy="741.1" rx="1.8" ry="1.3" transform="rotate(72 727.6 741.1)" fill="#fff"/>
<ellipse cx="692.8" cy="740.3" rx="3.8" ry="1.9" transform="rotate(14 692.8 740.3)" fill="#fff"/>
<ellipse cx="714.2" cy="754.3" rx="4.7" ry="2.1" transform="rotate(104 714.2 754.3)" fill="#fff"/>
<ellipse cx="717.5" cy="759.7" rx="3.1" ry="1.4" transform="rotate(68 717.5 759.7)" fill="#fff"/>
<ellipse cx="716.6" cy="750.5" rx="1.9" ry="1.8" transform="rotate(176 716.6 750.5)" fill="#fff"/>
<ellipse cx="722.1" cy="741.5" rx="2.7" ry="1.6" transform="rotate(107 722.1 741.5)" fill="#fff"/>
<ellipse cx="714.0" cy="742.6" rx="3.6" ry="1.9" transform="rotate(145 714.0 742.6)" fill="#fff"/>
<ellipse cx="710.1" cy="706.8" rx="3.8" ry="2.1" transform="rotate(44 710.1 706.8)" fill="#fff"/>
<ellipse cx="705.2" cy="714.5" rx="2.4" ry="1.7" transform="rotate(82 705.2 714.5)" fill="#fff"/>
<ellipse cx="716.5" cy="723.8" rx="1.2" ry="1.1" transform="rotate(112 716.5 723.8)" fill="#fff"/>
<ellipse cx="725.3" cy="747.1" rx="2.6" ry="2.2" transform="rotate(134 725.3 747.1)" fill="#fff"/>
<ellipse cx="702.0" cy="729.5" rx="2.3" ry="1.7" transform="rotate(23 702.0 729.5)" fill="#fff"/>
<ellipse cx="701.9" cy="731.6" rx="3.1" ry="1.7" transform="rotate(67 701.9 731.6)" fill="#fff"/>
<ellipse cx="719.4" cy="711.5" rx="3.3" ry="2.0" transform="rotate(175 719.4 711.5)" fill="#fff"/>
<ellipse cx="722.2" cy="725.6" rx="4.5" ry="2.1" transform="rotate(137 722.2 725.6)" fill="#fff"/>
<ellipse cx="707.9" cy="722.0" rx="2.2" ry="2.2" transform="rotate(122 707.9 722.0)" fill="#fff"/>
<ellipse cx="705.8" cy="736.9" rx="3.6" ry="2.0" transform="rotate(122 705.8 736.9)" fill="#fff"/>
<ellipse cx="707.7" cy="722.6" rx="4.1" ry="2.2" transform="rotate(118 707.7 722.6)" fill="#fff"/>
<ellipse cx="689.4" cy="730.9" rx="2.1" ry="1.7" transform="rotate(163 689.4 730.9)" fill="#fff"/>
<ellipse cx="720.2" cy="740.5" rx="2.1" ry="1.3" transform="rotate(68 720.2 740.5)" fill="#fff"/>
<ellipse cx="705.4" cy="757.8" rx="2.1" ry="1.4" transform="rotate(86 705.4 757.8)" fill="#fff"/>
<ellipse cx="718.1" cy="740.1" rx="3.4" ry="1.6" transform="rotate(164 718.1 740.1)" fill="#fff"/>
<ellipse cx="733.0" cy="732.5" rx="3.4" ry="1.4" transform="rotate(163 733.0 732.5)" fill="#fff"/>
<ellipse cx="733.5" cy="736.3" rx="3.8" ry="1.8" transform="rotate(149 733.5 736.3)" fill="#fff"/>
<ellipse cx="690.5" cy="735.6" rx="2.5" ry="1.7" transform="rotate(21 690.5 735.6)" fill="#fff"/>
<ellipse cx="724.8" cy="730.5" rx="2.3" ry="1.2" transform="rotate(62 724.8 730.5)" fill="#fff"/>
<ellipse cx="717.6" cy="721.5" rx="4.3" ry="1.9" transform="rotate(162 717.6 721.5)" fill="#fff"/>
<ellipse cx="716.1" cy="725.2" rx="2.6" ry="2.2" transform="rotate(49 716.1 725.2)" fill="#fff"/>
<ellipse cx="690.8" cy="732.9" rx="2.4" ry="1.9" transform="rotate(73 690.8 732.9)" fill="#fff"/>
<ellipse cx="689.4" cy="733.0" rx="2.4" ry="2.2" transform="rotate(2 689.4 733.0)" fill="#fff"/>
<ellipse cx="729.6" cy="737.9" rx="3.9" ry="2.0" transform="rotate(106 729.6 737.9)" fill="#fff"/>
<ellipse cx="719.1" cy="741.6" rx="1.7" ry="1.3" transform="rotate(26 719.1 741.6)" fill="#fff"/>
<ellipse cx="690.9" cy="733.8" rx="3.2" ry="1.7" transform="rotate(138 690.9 733.8)" fill="#fff"/>
<ellipse cx="692.5" cy="723.3" rx="2.9" ry="1.9" transform="rotate(65 692.5 723.3)" fill="#fff"/>
<ellipse cx="700.5" cy="719.9" rx="2.2" ry="1.7" transform="rotate(132 700.5 719.9)" fill="#fff"/>
<ellipse cx="728.3" cy="741.3" rx="3.9" ry="1.7" transform="rotate(144 728.3 741.3)" fill="#fff"/>
<ellipse cx="713.9" cy="715.2" rx="2.4" ry="2.0" transform="rotate(143 713.9 715.2)" fill="#fff"/>
<ellipse cx="706.9" cy="706.1" rx="1.3" ry="1.2" transform="rotate(6 706.9 706.1)" fill="#fff"/>
<ellipse cx="704.0" cy="718.4" rx="3.1" ry="1.7" transform="rotate(166 704.0 718.4)" fill="#fff"/>
<ellipse cx="714.4" cy="730.6" rx="2.3" ry="2.1" transform="rotate(97 714.4 730.6)" fill="#fff"/>
<ellipse cx="706.3" cy="725.4" rx="2.8" ry="1.6" transform="rotate(33 706.3 725.4)" fill="#fff"/>
<ellipse cx="700.3" cy="728.9" rx="2.2" ry="1.2" transform="rotate(161 700.3 728.9)" fill="#fff"/>
<ellipse cx="715.9" cy="758.1" rx="2.4" ry="1.5" transform="rotate(47 715.9 758.1)" fill="#fff"/>
<ellipse cx="701.8" cy="732.5" rx="1.8" ry="1.6" transform="rotate(109 701.8 732.5)" fill="#fff"/>
<ellipse cx="696.3" cy="724.1" rx="2.7" ry="1.9" transform="rotate(40 696.3 724.1)" fill="#fff"/>
<ellipse cx="699.0" cy="730.5" rx="2.7" ry="1.2" transform="rotate(80 699.0 730.5)" fill="#fff"/>
<ellipse cx="699.8" cy="736.4" rx="2.7" ry="1.3" transform="rotate(0 699.8 736.4)" fill="#fff"/>
<ellipse cx="709.0" cy="736.7" rx="2.4" ry="1.6" transform="rotate(99 709.0 736.7)" fill="#fff"/>
</g>
<g filter="url(#bl)">
<circle cx="735.6" cy="730.8" r="1.6" fill="#fff"/>
<circle cx="736.1" cy="740.5" r="2.2" fill="#fff"/>
<circle cx="733.1" cy="746.5" r="1.9" fill="#fff"/>
<circle cx="733.0" cy="751.0" r="1.9" fill="#fff"/>
<circle cx="726.3" cy="756.7" r="2.0" fill="#fff"/>
<circle cx="720.6" cy="758.6" r="1.8" fill="#fff"/>
<circle cx="714.2" cy="763.8" r="1.9" fill="#fff"/>
<circle cx="708.4" cy="760.9" r="1.4" fill="#fff"/>
<circle cx="703.5" cy="759.2" r="1.8" fill="#fff"/>
<circle cx="697.9" cy="757.2" r="2.2" fill="#fff"/>
<circle cx="694.6" cy="753.5" r="1.4" fill="#fff"/>
<circle cx="689.4" cy="747.7" r="2.0" fill="#fff"/>
<circle cx="688.7" cy="739.7" r="1.9" fill="#fff"/>
<circle cx="689.4" cy="730.7" r="1.5" fill="#fff"/>
<circle cx="689.7" cy="725.1" r="1.6" fill="#fff"/>
<circle cx="689.1" cy="717.2" r="1.5" fill="#fff"/>
<circle cx="695.1" cy="713.5" r="1.8" fill="#fff"/>
<circle cx="699.1" cy="706.8" r="1.9" fill="#fff"/>
<circle cx="702.6" cy="703.8" r="1.5" fill="#fff"/>
<circle cx="710.1" cy="704.1" r="1.7" fill="#fff"/>
<circle cx="716.2" cy="700.9" r="1.9" fill="#fff"/>
<circle cx="720.4" cy="704.3" r="1.9" fill="#fff"/>
<circle cx="725.9" cy="708.2" r="1.9" fill="#fff"/>
<circle cx="729.2" cy="714.6" r="1.3" fill="#fff"/>
<circle cx="735.4" cy="717.7" r="1.4" fill="#fff"/>
<circle cx="736.2" cy="727.2" r="1.6" fill="#fff"/>
<ellipse cx="819.4" cy="713" rx="3.6" ry="4.2" fill="#fff"/>
<circle cx="826.4" cy="718.7" r="2.5" fill="#fff"/>
<ellipse cx="820.6" cy="725.5" rx="3" ry="4" fill="#fff"/>
<ellipse cx="834.3" cy="726.7" rx="4.2" ry="3.6" fill="#fff"/>
<ellipse cx="847.3" cy="733" rx="3.8" ry="4.3" fill="#fff"/>
<ellipse cx="812.4" cy="738.7" rx="3.4" ry="4" fill="#fff"/>
<ellipse cx="826.4" cy="736.2" rx="3.6" ry="4.2" fill="#fff"/>
<ellipse cx="822.5" cy="731" rx="2.5" ry="3" fill="#fff"/>
<circle cx="834.8" cy="746.2" r="3.4" fill="#fff"/>
<ellipse cx="847.3" cy="754.9" rx="3.9" ry="4.3" fill="#fff"/>
<ellipse cx="943.6" cy="626.7" rx="2.6" ry="3" fill="#fff"/>
<ellipse cx="940.6" cy="640.9" rx="3.7" ry="4.7" fill="#fff"/>
</g>
<circle cx="947.5" cy="632.5" r="0.8" fill="#777"/>
<circle cx="967.5" cy="688" r="0.6" fill="#999"/>
<circle cx="964.5" cy="691" r="0.5" fill="#999"/>
<circle cx="1030.2" cy="608.8" r="0.7" fill="#999"/>
<circle cx="1009.5" cy="729.5" r="0.5" fill="#999"/>
<ellipse cx="1105.5" cy="679" rx="1.6" ry="0.5" fill="#999"/>
</g>
<g clip-path="url(#pd2)">
<clipPath id="cc4"><path d="M617.3,839.6 617.2,843.5 616.4,847.3 615.1,851.0 613.4,854.4 611.5,857.8 609.1,860.8 606.3,863.5 603.1,865.6 599.7,867.2 596.1,868.5 592.4,869.4 588.6,869.8 584.8,869.4 581.2,868.2 577.8,866.5 574.6,864.7 571.4,862.9 568.2,860.7 565.4,858.0 563.3,854.7 562.0,851.0 561.2,847.2 560.9,843.4 560.7,839.6 560.8,835.8 561.3,832.0 562.2,828.3 563.7,824.8 565.7,821.4 568.1,818.4 570.9,815.7 574.0,813.4 577.4,811.7 581.0,810.4 584.8,809.7 588.6,809.5 592.4,809.9 596.0,810.9 599.5,812.3 602.8,814.1 605.9,816.2 608.7,818.8 611.1,821.7 613.0,825.0 614.5,828.5 615.8,832.1 616.8,835.8Z"/></clipPath><g filter="url(#bl)"><g clip-path="url(#cc4)">
<path d="M617.3,839.6 617.2,843.5 616.4,847.3 615.1,851.0 613.4,854.4 611.5,857.8 609.1,860.8 606.3,863.5 603.1,865.6 599.7,867.2 596.1,868.5 592.4,869.4 588.6,869.8 584.8,869.4 581.2,868.2 577.8,866.5 574.6,864.7 571.4,862.9 568.2,860.7 565.4,858.0 563.3,854.7 562.0,851.0 561.2,847.2 560.9,843.4 560.7,839.6 560.8,835.8 561.3,832.0 562.2,828.3 563.7,824.8 565.7,821.4 568.1,818.4 570.9,815.7 574.0,813.4 577.4,811.7 581.0,810.4 584.8,809.7 588.6,809.5 592.4,809.9 596.0,810.9 599.5,812.3 602.8,814.1 605.9,816.2 608.7,818.8 611.1,821.7 613.0,825.0 614.5,828.5 615.8,832.1 616.8,835.8Z" fill="#fff"/>
<g filter="url(#bl1)">
<ellipse cx="585.6" cy="848.8" rx="2.7" ry="1.5" transform="rotate(108 585.6 848.8)" fill="#555" opacity="0.59"/>
<ellipse cx="592.5" cy="831.3" rx="3.6" ry="1.4" transform="rotate(35 592.5 831.3)" fill="#555" opacity="0.78"/>
<ellipse cx="587.1" cy="836.7" rx="5.6" ry="1.9" transform="rotate(62 587.1 836.7)" fill="#555" opacity="0.61"/>
<ellipse cx="590.3" cy="828.2" rx="2.1" ry="1.6" transform="rotate(12 590.3 828.2)" fill="#555" opacity="0.87"/>
<ellipse cx="586.5" cy="851.9" rx="3.9" ry="2.0" transform="rotate(154 586.5 851.9)" fill="#555" opacity="0.81"/>
<ellipse cx="587.4" cy="856.3" rx="4.5" ry="2.0" transform="rotate(78 587.4 856.3)" fill="#555" opacity="0.72"/>
<ellipse cx="591.7" cy="848.5" rx="6.0" ry="2.1" transform="rotate(102 591.7 848.5)" fill="#555" opacity="0.86"/>
<ellipse cx="587.8" cy="834.4" rx="3.0" ry="1.5" transform="rotate(164 587.8 834.4)" fill="#555" opacity="0.62"/>
<ellipse cx="587.7" cy="855.8" rx="1.8" ry="1.5" transform="rotate(26 587.7 855.8)" fill="#555" opacity="0.74"/>
<ellipse cx="595.0" cy="844.5" rx="3.6" ry="1.9" transform="rotate(47 595.0 844.5)" fill="#555" opacity="0.56"/>
<ellipse cx="584.8" cy="829.6" rx="2.8" ry="1.6" transform="rotate(18 584.8 829.6)" fill="#555" opacity="0.84"/>
<ellipse cx="586.0" cy="855.7" rx="4.3" ry="1.9" transform="rotate(88 586.0 855.7)" fill="#555" opacity="0.62"/>
<ellipse cx="580.7" cy="851.0" rx="1.6" ry="1.2" transform="rotate(177 580.7 851.0)" fill="#aaa" opacity="0.53"/>
<ellipse cx="598.3" cy="835.7" rx="3.0" ry="2.2" transform="rotate(58 598.3 835.7)" fill="#aaa" opacity="0.66"/>
<ellipse cx="580.4" cy="838.6" rx="3.0" ry="1.8" transform="rotate(66 580.4 838.6)" fill="#aaa" opacity="0.69"/>
<ellipse cx="590.4" cy="831.2" rx="4.4" ry="2.2" transform="rotate(24 590.4 831.2)" fill="#aaa" opacity="0.58"/>
<ellipse cx="594.6" cy="851.7" rx="4.2" ry="1.4" transform="rotate(26 594.6 851.7)" fill="#aaa" opacity="0.84"/>
<ellipse cx="582.2" cy="846.8" rx="1.8" ry="1.7" transform="rotate(49 582.2 846.8)" fill="#aaa" opacity="0.55"/>
<ellipse cx="584.3" cy="845.3" rx="3.4" ry="1.3" transform="rotate(142 584.3 845.3)" fill="#aaa" opacity="0.63"/>
<ellipse cx="584.8" cy="858.8" rx="2.8" ry="2.0" transform="rotate(82 584.8 858.8)" fill="#aaa" opacity="0.82"/>
<ellipse cx="589.3" cy="842.5" rx="3.1" ry="1.3" transform="rotate(4 589.3 842.5)" fill="#aaa" opacity="0.68"/>
<ellipse cx="587.0" cy="851.3" rx="2.6" ry="1.6" transform="rotate(22 587.0 851.3)" fill="#aaa" opacity="0.61"/>
<ellipse cx="586.2" cy="824.7" rx="2.8" ry="1.8" transform="rotate(166 586.2 824.7)" fill="#aaa" opacity="0.87"/>
<ellipse cx="582.0" cy="843.5" rx="4.6" ry="1.8" transform="rotate(141 582.0 843.5)" fill="#aaa" opacity="0.81"/>
</g>
</g></g>
<g filter="url(#bl)">
<path d="M738.5,829.0 737.6,832.1 737.0,835.2 737.0,838.5 736.8,842.1 735.8,845.5 733.8,848.0 731.1,849.3 728.3,850.0 725.8,850.6 723.4,851.6 721.1,852.5 718.6,852.8 716.1,852.6 713.7,852.1 711.1,851.6 708.4,851.1 705.8,849.9 703.5,847.9 701.9,845.1 700.7,841.9 699.8,838.7 699.1,835.5 698.6,832.3 698.5,829.0 698.8,825.7 699.3,822.5 700.0,819.4 700.9,816.2 702.5,813.5 704.6,811.5 707.0,810.1 709.4,809.0 711.5,807.7 713.7,805.9 716.0,804.3 718.6,803.2 721.3,803.0 724.0,803.8 726.5,805.2 728.7,807.1 730.6,809.4 732.4,811.8 734.1,814.2 735.8,816.6 737.6,819.2 738.8,822.2 739.1,825.6Z" fill="#fff"/>
<circle cx="742.5" cy="827.6" r="3.5" fill="#fff"/>
<circle cx="740.5" cy="834.8" r="3.8" fill="#fff"/>
<circle cx="738.6" cy="844.4" r="2.9" fill="#fff"/>
<circle cx="733.5" cy="850.2" r="2.9" fill="#fff"/>
<circle cx="727.8" cy="852.1" r="3.9" fill="#fff"/>
<circle cx="722.6" cy="854.5" r="3.1" fill="#fff"/>
<circle cx="716.5" cy="854.5" r="2.7" fill="#fff"/>
<circle cx="710.4" cy="853.1" r="3.3" fill="#fff"/>
<circle cx="705.0" cy="848.3" r="3.0" fill="#fff"/>
<circle cx="699.7" cy="842.7" r="3.4" fill="#fff"/>
<circle cx="698.1" cy="836.2" r="3.0" fill="#fff"/>
<circle cx="696.8" cy="828.1" r="3.2" fill="#fff"/>
<circle cx="695.8" cy="819.0" r="3.7" fill="#fff"/>
<circle cx="699.1" cy="813.5" r="2.7" fill="#fff"/>
<circle cx="705.3" cy="808.2" r="3.0" fill="#fff"/>
<circle cx="708.8" cy="801.4" r="3.5" fill="#fff"/>
<circle cx="715.4" cy="799.3" r="3.1" fill="#fff"/>
<circle cx="721.9" cy="799.2" r="3.8" fill="#fff"/>
<circle cx="728.9" cy="802.9" r="3.6" fill="#fff"/>
<circle cx="733.8" cy="806.6" r="3.2" fill="#fff"/>
<circle cx="737.8" cy="813.3" r="3.7" fill="#fff"/>
<circle cx="740.5" cy="820.5" r="3.5" fill="#fff"/>
<ellipse cx="707.2" cy="817.5" rx="2.9" ry="1.5" transform="rotate(62 707.2 817.5)" fill="#302e2f"/>
<ellipse cx="728.8" cy="822.1" rx="2.2" ry="1.9" transform="rotate(167 728.8 822.1)" fill="#302e2f"/>
<ellipse cx="735.4" cy="827.5" rx="3.9" ry="2.2" transform="rotate(51 735.4 827.5)" fill="#302e2f"/>
<ellipse cx="730.0" cy="817.5" rx="3.0" ry="1.4" transform="rotate(21 730.0 817.5)" fill="#302e2f"/>
<ellipse cx="709.1" cy="827.2" rx="2.1" ry="1.5" transform="rotate(15 709.1 827.2)" fill="#302e2f"/>
<ellipse cx="709.8" cy="810.4" rx="3.1" ry="1.7" transform="rotate(22 709.8 810.4)" fill="#302e2f"/>
<ellipse cx="702.8" cy="834.3" rx="4.5" ry="2.5" transform="rotate(97 702.8 834.3)" fill="#302e2f"/>
<ellipse cx="711.3" cy="835.7" rx="2.2" ry="1.6" transform="rotate(147 711.3 835.7)" fill="#302e2f"/>
<ellipse cx="730.5" cy="814.3" rx="3.2" ry="1.5" transform="rotate(116 730.5 814.3)" fill="#302e2f"/>
<ellipse cx="716.4" cy="828.1" rx="4.3" ry="2.4" transform="rotate(13 716.4 828.1)" fill="#302e2f"/>
<ellipse cx="709.3" cy="831.6" rx="2.5" ry="1.8" transform="rotate(105 709.3 831.6)" fill="#302e2f"/>
<ellipse cx="712.7" cy="816.0" rx="3.1" ry="2.2" transform="rotate(47 712.7 816.0)" fill="#302e2f"/>
<ellipse cx="709.1" cy="809.2" rx="3.7" ry="2.1" transform="rotate(173 709.1 809.2)" fill="#302e2f"/>
<ellipse cx="704.3" cy="820.0" rx="4.0" ry="2.2" transform="rotate(140 704.3 820.0)" fill="#302e2f"/>
<ellipse cx="706.2" cy="821.6" rx="4.4" ry="2.5" transform="rotate(174 706.2 821.6)" fill="#302e2f"/>
<ellipse cx="708.2" cy="823.6" rx="1.8" ry="1.7" transform="rotate(3 708.2 823.6)" fill="#302e2f"/>
<ellipse cx="726.4" cy="810.3" rx="4.8" ry="2.4" transform="rotate(115 726.4 810.3)" fill="#302e2f"/>
<ellipse cx="719.5" cy="838.3" rx="2.8" ry="1.4" transform="rotate(28 719.5 838.3)" fill="#302e2f"/>
<ellipse cx="710.0" cy="842.9" rx="4.3" ry="2.2" transform="rotate(5 710.0 842.9)" fill="#302e2f"/>
<ellipse cx="704.9" cy="835.7" rx="4.2" ry="2.4" transform="rotate(157 704.9 835.7)" fill="#302e2f"/>
<ellipse cx="731.0" cy="842.7" rx="4.2" ry="2.4" transform="rotate(99 731.0 842.7)" fill="#302e2f"/>
<ellipse cx="726.6" cy="837.6" rx="5.3" ry="2.2" transform="rotate(129 726.6 837.6)" fill="#302e2f"/>
<ellipse cx="705.4" cy="812.8" rx="2.8" ry="1.8" transform="rotate(10 705.4 812.8)" fill="#302e2f"/>
<ellipse cx="702.4" cy="822.5" rx="2.7" ry="2.2" transform="rotate(16 702.4 822.5)" fill="#302e2f"/>
<ellipse cx="724.9" cy="820.8" rx="1.6" ry="1.6" transform="rotate(108 724.9 820.8)" fill="#302e2f"/>
<ellipse cx="729.6" cy="819.4" rx="3.7" ry="1.7" transform="rotate(12 729.6 819.4)" fill="#302e2f"/>
<ellipse cx="727.8" cy="842.1" rx="3.2" ry="2.1" transform="rotate(71 727.8 842.1)" fill="#302e2f"/>
<ellipse cx="712.1" cy="822.4" rx="3.2" ry="2.2" transform="rotate(110 712.1 822.4)" fill="#302e2f"/>
<ellipse cx="715.4" cy="811.5" rx="4.3" ry="2.3" transform="rotate(34 715.4 811.5)" fill="#302e2f"/>
<ellipse cx="721.1" cy="844.0" rx="3.8" ry="1.9" transform="rotate(24 721.1 844.0)" fill="#302e2f"/>
<ellipse cx="733.6" cy="840.0" rx="4.9" ry="2.2" transform="rotate(170 733.6 840.0)" fill="#302e2f"/>
<ellipse cx="724.0" cy="808.9" rx="2.7" ry="1.7" transform="rotate(3 724.0 808.9)" fill="#302e2f"/>
<ellipse cx="708.9" cy="817.7" rx="4.0" ry="2.3" transform="rotate(157 708.9 817.7)" fill="#302e2f"/>
<ellipse cx="723.6" cy="841.8" rx="3.4" ry="1.9" transform="rotate(95 723.6 841.8)" fill="#302e2f"/>
<circle cx="834.3" cy="821.9" r="3" fill="#fff"/>
<ellipse cx="863.8" cy="821.2" rx="2.7" ry="4.2" fill="#fff"/>
<circle cx="856.8" cy="840.1" r="2.8" fill="#fff"/>
<circle cx="829.9" cy="843.1" r="1.5" fill="#fff"/>
<ellipse cx="843.1" cy="846.4" rx="3.4" ry="4.2" fill="#fff"/>
<circle cx="840" cy="841" r="1.6" fill="#fff"/>
<circle cx="856.3" cy="851.8" r="3.5" fill="#fff"/>
<ellipse cx="835.6" cy="855.6" rx="3" ry="2.4" fill="#fff"/>
<circle cx="833" cy="853" r="1.5" fill="#fff"/>
</g>
<clipPath id="cc5"><path d="M620.0,910.5 619.6,914.3 618.8,918.1 617.8,921.8 616.3,925.4 614.3,928.7 611.9,931.7 609.0,934.3 605.9,936.5 602.6,938.3 599.0,939.7 595.2,940.5 591.4,940.8 587.6,940.7 583.7,940.1 580.0,939.0 576.6,937.0 573.7,934.3 571.3,931.3 569.2,928.1 567.1,925.0 565.1,921.8 563.4,918.3 562.4,914.4 562.2,910.5 562.6,906.6 563.4,902.7 564.4,898.9 565.9,895.3 568.1,892.0 570.8,889.2 573.9,886.9 577.2,885.0 580.5,883.3 584.0,881.8 587.6,880.8 591.4,880.4 595.2,880.6 599.0,881.3 602.6,882.6 606.0,884.3 609.2,886.5 612.1,889.1 614.5,892.1 616.6,895.4 618.3,899.0 619.5,902.7 620.1,906.6Z"/></clipPath><g filter="url(#bl)"><g clip-path="url(#cc5)">
<path d="M620.0,910.5 619.6,914.3 618.8,918.1 617.8,921.8 616.3,925.4 614.3,928.7 611.9,931.7 609.0,934.3 605.9,936.5 602.6,938.3 599.0,939.7 595.2,940.5 591.4,940.8 587.6,940.7 583.7,940.1 580.0,939.0 576.6,937.0 573.7,934.3 571.3,931.3 569.2,928.1 567.1,925.0 565.1,921.8 563.4,918.3 562.4,914.4 562.2,910.5 562.6,906.6 563.4,902.7 564.4,898.9 565.9,895.3 568.1,892.0 570.8,889.2 573.9,886.9 577.2,885.0 580.5,883.3 584.0,881.8 587.6,880.8 591.4,880.4 595.2,880.6 599.0,881.3 602.6,882.6 606.0,884.3 609.2,886.5 612.1,889.1 614.5,892.1 616.6,895.4 618.3,899.0 619.5,902.7 620.1,906.6Z" fill="#fff"/>
<g filter="url(#bl1)">
<ellipse cx="586.8" cy="928.0" rx="4.7" ry="1.9" transform="rotate(51 586.8 928.0)" fill="#b5b5b5" opacity="0.40"/>
<ellipse cx="584.3" cy="922.2" rx="2.3" ry="1.7" transform="rotate(122 584.3 922.2)" fill="#b5b5b5" opacity="0.42"/>
<ellipse cx="598.5" cy="921.6" rx="3.0" ry="1.6" transform="rotate(72 598.5 921.6)" fill="#b5b5b5" opacity="0.75"/>
<ellipse cx="593.8" cy="903.3" rx="4.7" ry="2.0" transform="rotate(92 593.8 903.3)" fill="#b5b5b5" opacity="0.71"/>
<ellipse cx="588.5" cy="904.7" rx="3.2" ry="1.3" transform="rotate(50 588.5 904.7)" fill="#b5b5b5" opacity="0.48"/>
<ellipse cx="594.8" cy="907.7" rx="5.3" ry="2.1" transform="rotate(24 594.8 907.7)" fill="#b5b5b5" opacity="0.65"/>
<ellipse cx="585.0" cy="911.4" rx="5.3" ry="2.2" transform="rotate(135 585.0 911.4)" fill="#b5b5b5" opacity="0.73"/>
<ellipse cx="583.0" cy="906.0" rx="2.9" ry="1.8" transform="rotate(120 583.0 906.0)" fill="#b5b5b5" opacity="0.56"/>
<ellipse cx="594.0" cy="914.8" rx="2.8" ry="1.7" transform="rotate(166 594.0 914.8)" fill="#b5b5b5" opacity="0.68"/>
<ellipse cx="597.3" cy="902.1" rx="2.4" ry="2.1" transform="rotate(65 597.3 902.1)" fill="#b5b5b5" opacity="0.43"/>
<ellipse cx="582.4" cy="917.2" rx="4.1" ry="2.2" transform="rotate(135 582.4 917.2)" fill="#b5b5b5" opacity="0.51"/>
<ellipse cx="582.7" cy="916.7" rx="2.8" ry="2.1" transform="rotate(93 582.7 916.7)" fill="#b5b5b5" opacity="0.80"/>
<ellipse cx="584.6" cy="924.9" rx="4.1" ry="1.6" transform="rotate(176 584.6 924.9)" fill="#b5b5b5" opacity="0.67"/>
<ellipse cx="587.4" cy="917.1" rx="2.3" ry="1.9" transform="rotate(158 587.4 917.1)" fill="#b5b5b5" opacity="0.52"/>
<ellipse cx="583.5" cy="915.8" rx="3.1" ry="1.2" transform="rotate(150 583.5 915.8)" fill="#b5b5b5" opacity="0.60"/>
<ellipse cx="582.8" cy="907.8" rx="3.6" ry="1.3" transform="rotate(91 582.8 907.8)" fill="#b5b5b5" opacity="0.45"/>
</g>
</g></g>
<g filter="url(#bl)">
<path d="M737.3,917.3 736.8,921.2 736.2,925.1 735.4,928.9 734.0,932.5 731.8,935.4 729.0,937.6 726.2,939.3 723.5,941.0 721.0,943.1 718.3,945.2 715.3,946.7 712.1,947.2 708.8,947.2 705.5,947.0 702.0,946.6 698.5,945.6 695.5,943.2 693.5,939.6 692.3,935.5 691.4,931.7 690.1,928.2 688.5,924.9 687.1,921.2 686.4,917.3 686.6,913.3 687.4,909.4 688.7,905.7 690.4,902.3 692.5,899.2 694.9,896.7 697.5,894.5 700.1,892.4 702.8,890.4 705.7,888.8 708.9,888.0 712.1,888.0 715.3,888.5 718.4,889.1 721.7,889.6 725.0,890.5 728.1,892.2 730.7,894.9 732.8,898.3 734.4,901.8 735.8,905.5 736.9,909.3 737.4,913.3Z" fill="#fff"/>
<circle cx="738.5" cy="918.3" r="3.1" fill="#fff"/>
<circle cx="736.0" cy="926.3" r="3.1" fill="#fff"/>
<circle cx="735.1" cy="932.1" r="4.2" fill="#fff"/>
<circle cx="729.2" cy="938.3" r="3.2" fill="#fff"/>
<circle cx="724.0" cy="944.1" r="3.0" fill="#fff"/>
<circle cx="718.1" cy="947.1" r="4.0" fill="#fff"/>
<circle cx="712.4" cy="947.5" r="3.8" fill="#fff"/>
<circle cx="705.7" cy="947.2" r="4.4" fill="#fff"/>
<circle cx="698.7" cy="945.1" r="4.3" fill="#fff"/>
<circle cx="693.8" cy="938.2" r="3.2" fill="#fff"/>
<circle cx="690.8" cy="931.8" r="3.1" fill="#fff"/>
<circle cx="686.9" cy="925.6" r="3.1" fill="#fff"/>
<circle cx="686.9" cy="917.1" r="3.0" fill="#fff"/>
<circle cx="687.5" cy="910.0" r="4.0" fill="#fff"/>
<circle cx="690.9" cy="901.3" r="3.6" fill="#fff"/>
<circle cx="693.8" cy="895.3" r="3.2" fill="#fff"/>
<circle cx="698.7" cy="890.1" r="4.2" fill="#fff"/>
<circle cx="705.4" cy="888.0" r="3.3" fill="#fff"/>
<circle cx="711.5" cy="886.4" r="4.0" fill="#fff"/>
<circle cx="718.6" cy="887.6" r="3.4" fill="#fff"/>
<circle cx="725.4" cy="889.8" r="4.2" fill="#fff"/>
<circle cx="729.9" cy="895.3" r="3.0" fill="#fff"/>
<circle cx="734.6" cy="902.7" r="3.0" fill="#fff"/>
<circle cx="737.5" cy="908.9" r="4.0" fill="#fff"/>
<ellipse cx="710.8" cy="920.4" rx="2.2" ry="1.7" transform="rotate(25 710.8 920.4)" fill="#302e2f"/>
<ellipse cx="711.4" cy="918.6" rx="2.3" ry="1.7" transform="rotate(132 711.4 918.6)" fill="#302e2f"/>
<ellipse cx="716.2" cy="918.0" rx="2.4" ry="1.5" transform="rotate(122 716.2 918.0)" fill="#302e2f"/>
<ellipse cx="712.3" cy="923.5" rx="1.6" ry="1.5" transform="rotate(15 712.3 923.5)" fill="#302e2f"/>
<ellipse cx="714.8" cy="924.3" rx="2.6" ry="2.2" transform="rotate(66 714.8 924.3)" fill="#302e2f"/>
<ellipse cx="718.5" cy="912.1" rx="2.6" ry="1.6" transform="rotate(6 718.5 912.1)" fill="#302e2f"/>
<ellipse cx="713.7" cy="918.7" rx="3.0" ry="2.1" transform="rotate(56 713.7 918.7)" fill="#302e2f"/>
<ellipse cx="709.4" cy="904.5" rx="2.8" ry="2.2" transform="rotate(138 709.4 904.5)" fill="#302e2f"/>
<ellipse cx="706.2" cy="909.9" rx="2.1" ry="1.4" transform="rotate(171 706.2 909.9)" fill="#302e2f"/>
<ellipse cx="713.3" cy="908.4" rx="2.4" ry="1.8" transform="rotate(176 713.3 908.4)" fill="#302e2f"/>
<ellipse cx="707.4" cy="927.6" rx="2.6" ry="2.0" transform="rotate(27 707.4 927.6)" fill="#302e2f"/>
<ellipse cx="708.6" cy="925.4" rx="3.4" ry="2.3" transform="rotate(80 708.6 925.4)" fill="#302e2f"/>
<ellipse cx="714.8" cy="908.9" rx="2.8" ry="2.4" transform="rotate(130 714.8 908.9)" fill="#302e2f"/>
<ellipse cx="715.2" cy="918.4" rx="1.8" ry="1.6" transform="rotate(66 715.2 918.4)" fill="#302e2f"/>
<ellipse cx="716.2" cy="914.2" rx="1.7" ry="1.6" transform="rotate(127 716.2 914.2)" fill="#888"/>
<ellipse cx="718.1" cy="906.0" rx="2.4" ry="1.5" transform="rotate(32 718.1 906.0)" fill="#888"/>
<ellipse cx="718.1" cy="928.2" rx="1.8" ry="1.5" transform="rotate(80 718.1 928.2)" fill="#888"/>
<ellipse cx="716.1" cy="920.1" rx="2.4" ry="1.7" transform="rotate(133 716.1 920.1)" fill="#888"/>
<ellipse cx="702.1" cy="918.8" rx="1.9" ry="1.5" transform="rotate(22 702.1 918.8)" fill="#888"/>
<ellipse cx="719.8" cy="915.8" rx="1.5" ry="1.1" transform="rotate(122 719.8 915.8)" fill="#888"/>
<ellipse cx="707.2" cy="900.4" rx="2.8" ry="1.7" transform="rotate(122 707.2 900.4)" fill="#888"/>
<ellipse cx="715.7" cy="926.8" rx="2.2" ry="1.8" transform="rotate(38 715.7 926.8)" fill="#888"/>
<ellipse cx="699.0" cy="910.3" rx="2.8" ry="1.6" transform="rotate(22 699.0 910.3)" fill="#888"/>
<ellipse cx="712.8" cy="930.4" rx="2.2" ry="1.5" transform="rotate(43 712.8 930.4)" fill="#888"/>
<ellipse cx="713.7" cy="898.4" rx="2.3" ry="1.8" transform="rotate(92 713.7 898.4)" fill="#888"/>
<ellipse cx="713.2" cy="920.5" rx="1.4" ry="1.0" transform="rotate(174 713.2 920.5)" fill="#888"/>
<circle cx="832.3" cy="889.8" r="5.5" fill="#fff"/>
<circle cx="847.3" cy="898" r="6" fill="#fff"/>
<circle cx="808.9" cy="903.7" r="5.5" fill="#fff"/>
<circle cx="831.8" cy="904.2" r="5" fill="#fff"/>
<circle cx="832" cy="897" r="3.5" fill="#fff"/>
<circle cx="857.3" cy="913.5" r="6.2" fill="#fff"/>
<circle cx="816.9" cy="913.5" r="6" fill="#fff"/>
<circle cx="804.9" cy="917.4" r="5.5" fill="#fff"/>
<circle cx="811.9" cy="925.4" r="4.5" fill="#fff"/>
<circle cx="821.9" cy="931.7" r="4" fill="#fff"/>
<circle cx="834.3" cy="927.9" r="6" fill="#fff"/>
<circle cx="840.6" cy="934.7" r="6" fill="#fff"/>
<circle cx="809.4" cy="937.9" r="5.5" fill="#fff"/>
<circle cx="850.5" cy="939.1" r="6.5" fill="#fff"/>
<circle cx="838.1" cy="940.4" r="5" fill="#fff"/>
<circle cx="828" cy="931" r="3.5" fill="#fff"/>
<circle cx="815" cy="933" r="3" fill="#fff"/>
<circle cx="936" cy="925" r="7" fill="#fff"/>
<circle cx="955.5" cy="923.6" r="6.5" fill="#fff"/>
<circle cx="963.3" cy="912.3" r="6.5" fill="#fff"/>
<circle cx="970.4" cy="915.5" r="6.5" fill="#fff"/>
<circle cx="985.2" cy="895.3" r="6.5" fill="#fff"/>
<circle cx="989.1" cy="902.4" r="7" fill="#fff"/>
<circle cx="959" cy="918" r="5" fill="#fff"/>
<circle cx="942" cy="830.8" r="2.5" fill="#eee"/>
<circle cx="958.7" cy="837.9" r="2.5" fill="#eee"/>
<circle cx="971.4" cy="830.1" r="2" fill="#eee"/>
<circle cx="983.8" cy="836.1" r="2" fill="#eee"/>
<circle cx="972.8" cy="847.4" r="3" fill="#eee"/>
</g>
<ellipse cx="883" cy="843" rx="2" ry="1.6" fill="#777"/>
<circle cx="1088" cy="919.5" r="1.6" fill="#777"/>
<ellipse cx="1002" cy="791" rx="2" ry="1" fill="#777"/>
<circle cx="907" cy="898.5" r="1.2" fill="#777"/>
<circle cx="924" cy="895" r="1" fill="#777"/>
<circle cx="1023.5" cy="894.5" r="0.8" fill="#777"/>
</g>
<rect x="145.4" y="1411.7" width="71.1" height="278.9" fill="#8b8c90" stroke="#2b2829" stroke-width="1.3"/>
<rect x="251.8" y="1436.8" width="71.5" height="253.8" fill="#8b8c90" stroke="#2b2829" stroke-width="1.3"/>
<rect x="358.7" y="1468" width="71.5" height="222.6" fill="#8b8c90" stroke="#2b2829" stroke-width="1.3"/>
<rect x="465.5" y="1365.7" width="71.5" height="324.9" fill="#8b8c90" stroke="#2b2829" stroke-width="1.3"/>
<rect x="572" y="1413.4" width="71.5" height="277.2" fill="#8b8c90" stroke="#2b2829" stroke-width="1.3"/>
<rect x="679.2" y="1354.4" width="71.0" height="336.2" fill="#8b8c90" stroke="#231f20" stroke-width="2.1"/>
<rect x="786" y="1565" width="71.0" height="125.6" fill="#8b8c90" stroke="#231f20" stroke-width="2.1"/>
<rect x="892.8" y="1584.7" width="71.0" height="105.9" fill="#8b8c90" stroke="#231f20" stroke-width="2.1"/>
<rect x="999.6" y="1593.3" width="71.0" height="97.3" fill="#8b8c90" stroke="#231f20" stroke-width="2.1"/>
<line x1="130.2" y1="1610.4" x2="993.8" y2="1610.4" stroke="#231f20" stroke-width="2.6" stroke-dasharray="8.5 8.69"/>
<line x1="127.3" y1="1206.95" x2="127.3" y2="1692.9499999999998" stroke="#231f20" stroke-width="2.1" />
<line x1="115.0" y1="1690.6" x2="127.3" y2="1690.6" stroke="#231f20" stroke-width="2.1" />
<text transform="translate(104.2 1701.9) scale(1 1.045)" font-size="33" text-anchor="end">0</text>
<line x1="115.0" y1="1610.4499999999998" x2="127.3" y2="1610.4499999999998" stroke="#231f20" stroke-width="2.1" />
<text transform="translate(104.2 1621.7) scale(1 1.045)" font-size="33" text-anchor="end">1</text>
<line x1="115.0" y1="1530.3" x2="127.3" y2="1530.3" stroke="#231f20" stroke-width="2.1" />
<text transform="translate(104.2 1541.6) scale(1 1.045)" font-size="33" text-anchor="end">2</text>
<line x1="115.0" y1="1450.15" x2="127.3" y2="1450.15" stroke="#231f20" stroke-width="2.1" />
<text transform="translate(104.2 1461.5) scale(1 1.045)" font-size="33" text-anchor="end">3</text>
<line x1="115.0" y1="1370.0" x2="127.3" y2="1370.0" stroke="#231f20" stroke-width="2.1" />
<text transform="translate(104.2 1381.3) scale(1 1.045)" font-size="33" text-anchor="end">4</text>
<line x1="115.0" y1="1289.8500000000001" x2="127.3" y2="1289.8500000000001" stroke="#231f20" stroke-width="2.1" />
<text transform="translate(104.2 1301.2) scale(1 1.045)" font-size="33" text-anchor="end">5</text>
<line x1="115.0" y1="1209.7" x2="127.3" y2="1209.7" stroke="#231f20" stroke-width="2.1" />
<text transform="translate(104.2 1221.0) scale(1 1.045)" font-size="33" text-anchor="end">6</text>
<line x1="115.0" y1="1690.6" x2="1090.5" y2="1690.6" stroke="#231f20" stroke-width="2.2" />
<line x1="180.8" y1="1690.6" x2="180.8" y2="1704.1" stroke="#231f20" stroke-width="2.2" />
<text transform="translate(180.8 1739.6) scale(1 1.045)" font-size="33" text-anchor="middle">G4_1</text>
<line x1="163.5" y1="1328.3" x2="198.10000000000002" y2="1328.3" stroke="#231f20" stroke-width="2.1" />
<line x1="163.5" y1="1495.1" x2="198.10000000000002" y2="1495.1" stroke="#231f20" stroke-width="2.1" />
<line x1="180.8" y1="1328.3" x2="180.8" y2="1495.1" stroke="#231f20" stroke-width="2.1" />
<circle cx="180.8" cy="1283.9" r="4.7" fill="none" stroke="#231f20" stroke-width="2"/>
<circle cx="180.8" cy="1384.2" r="4.7" fill="none" stroke="#231f20" stroke-width="2"/>
<circle cx="180.8" cy="1568.2" r="4.7" fill="none" stroke="#231f20" stroke-width="2"/>
<text x="182.0" y="1276.6" font-size="28.5" text-anchor="middle" letter-spacing="2.3">***</text>
<line x1="287.4" y1="1690.6" x2="287.4" y2="1704.1" stroke="#231f20" stroke-width="2.2" />
<text transform="translate(287.4 1739.6) scale(1 1.045)" font-size="33" text-anchor="middle">G4_2</text>
<line x1="270.09999999999997" y1="1354.2" x2="304.7" y2="1354.2" stroke="#231f20" stroke-width="2.1" />
<line x1="270.09999999999997" y1="1519.8" x2="304.7" y2="1519.8" stroke="#231f20" stroke-width="2.1" />
<line x1="287.4" y1="1354.2" x2="287.4" y2="1519.8" stroke="#231f20" stroke-width="2.1" />
<circle cx="287.4" cy="1275.3" r="4.7" fill="none" stroke="#231f20" stroke-width="2"/>
<circle cx="287.4" cy="1489.4" r="4.7" fill="none" stroke="#231f20" stroke-width="2"/>
<circle cx="287.4" cy="1546.5" r="4.7" fill="none" stroke="#231f20" stroke-width="2"/>
<text x="288.5" y="1267.6" font-size="28.5" text-anchor="middle" letter-spacing="2.3">**</text>
<line x1="394.2" y1="1690.6" x2="394.2" y2="1704.1" stroke="#231f20" stroke-width="2.2" />
<text transform="translate(394.2 1739.6) scale(1 1.045)" font-size="33" text-anchor="middle">G4_3</text>
<line x1="376.9" y1="1373.5" x2="411.5" y2="1373.5" stroke="#231f20" stroke-width="2.1" />
<line x1="376.9" y1="1562.5" x2="411.5" y2="1562.5" stroke="#231f20" stroke-width="2.1" />
<line x1="394.2" y1="1373.5" x2="394.2" y2="1562.5" stroke="#231f20" stroke-width="2.1" />
<circle cx="394.2" cy="1282.3" r="4.7" fill="none" stroke="#231f20" stroke-width="2"/>
<circle cx="394.2" cy="1530.4" r="4.7" fill="none" stroke="#231f20" stroke-width="2"/>
<circle cx="394.2" cy="1592.1" r="4.7" fill="none" stroke="#231f20" stroke-width="2"/>
<line x1="501" y1="1690.6" x2="501" y2="1704.1" stroke="#231f20" stroke-width="2.2" />
<text transform="translate(501 1739.6) scale(1 1.045)" font-size="33" text-anchor="middle">G4_4</text>
<line x1="483.7" y1="1276.5" x2="518.3" y2="1276.5" stroke="#231f20" stroke-width="2.1" />
<line x1="483.7" y1="1455.7" x2="518.3" y2="1455.7" stroke="#231f20" stroke-width="2.1" />
<line x1="501" y1="1276.5" x2="501" y2="1455.7" stroke="#231f20" stroke-width="2.1" />
<circle cx="501" cy="1221.9" r="4.7" fill="none" stroke="#231f20" stroke-width="2"/>
<circle cx="501" cy="1346.4" r="4.7" fill="none" stroke="#231f20" stroke-width="2"/>
<circle cx="501" cy="1530.4" r="4.7" fill="none" stroke="#231f20" stroke-width="2"/>
<text x="502.1" y="1216.2" font-size="28.5" text-anchor="middle" letter-spacing="2.3">**</text>
<line x1="607.8" y1="1690.6" x2="607.8" y2="1704.1" stroke="#231f20" stroke-width="2.2" />
<text transform="translate(607.8 1739.6) scale(1 1.045)" font-size="33" text-anchor="middle">G4_5</text>
<line x1="590.5" y1="1313.9" x2="625.0999999999999" y2="1313.9" stroke="#231f20" stroke-width="2.1" />
<line x1="590.5" y1="1512.8" x2="625.0999999999999" y2="1512.8" stroke="#231f20" stroke-width="2.1" />
<line x1="607.8" y1="1313.9" x2="607.8" y2="1512.8" stroke="#231f20" stroke-width="2.1" />
<circle cx="607.8" cy="1261.3" r="4.7" fill="none" stroke="#231f20" stroke-width="2"/>
<circle cx="607.8" cy="1378.4" r="4.7" fill="none" stroke="#231f20" stroke-width="2"/>
<circle cx="607.8" cy="1600.7" r="4.7" fill="none" stroke="#231f20" stroke-width="2"/>
<text x="608.9" y="1258.1" font-size="28.5" text-anchor="middle" letter-spacing="2.3">*</text>
<line x1="714.6" y1="1690.6" x2="714.6" y2="1704.1" stroke="#231f20" stroke-width="2.2" />
<text transform="translate(714.6 1739.6) scale(1 1.045)" font-size="33" text-anchor="middle">G4_6</text>
<line x1="697.3000000000001" y1="1282.3" x2="731.9" y2="1282.3" stroke="#231f20" stroke-width="2.1" />
<line x1="697.3000000000001" y1="1426.9" x2="731.9" y2="1426.9" stroke="#231f20" stroke-width="2.1" />
<line x1="714.6" y1="1282.3" x2="714.6" y2="1426.9" stroke="#231f20" stroke-width="2.1" />
<circle cx="714.6" cy="1273.7" r="4.7" fill="none" stroke="#231f20" stroke-width="2"/>
<circle cx="714.6" cy="1291.3" r="4.7" fill="none" stroke="#231f20" stroke-width="2"/>
<circle cx="714.6" cy="1498.4" r="4.7" fill="none" stroke="#231f20" stroke-width="2"/>
<text x="715.8" y="1266.3" font-size="28.5" text-anchor="middle" letter-spacing="2.3">***</text>
<line x1="821.4" y1="1690.6" x2="821.4" y2="1704.1" stroke="#231f20" stroke-width="2.2" />
<text transform="translate(821.4 1739.6) scale(1 1.045)" font-size="33" text-anchor="middle">G4_7</text>
<line x1="804.1" y1="1495.5" x2="838.6999999999999" y2="1495.5" stroke="#231f20" stroke-width="2.1" />
<line x1="804.1" y1="1635.2" x2="838.6999999999999" y2="1635.2" stroke="#231f20" stroke-width="2.1" />
<line x1="821.4" y1="1495.5" x2="821.4" y2="1635.2" stroke="#231f20" stroke-width="2.1" />
<circle cx="821.4" cy="1439.6" r="4.7" fill="none" stroke="#231f20" stroke-width="2"/>
<circle cx="821.4" cy="1574.4" r="4.7" fill="none" stroke="#231f20" stroke-width="2"/>
<circle cx="821.4" cy="1680.8" r="4.7" fill="none" stroke="#231f20" stroke-width="2"/>
<line x1="928.3" y1="1690.6" x2="928.3" y2="1704.1" stroke="#231f20" stroke-width="2.2" />
<text transform="translate(928.3 1739.6) scale(1 1.045)" font-size="33" text-anchor="middle">NC_1</text>
<line x1="911.0" y1="1558.8" x2="945.5999999999999" y2="1558.8" stroke="#231f20" stroke-width="2.1" />
<line x1="911.0" y1="1611.4" x2="945.5999999999999" y2="1611.4" stroke="#231f20" stroke-width="2.1" />
<line x1="928.3" y1="1558.8" x2="928.3" y2="1611.4" stroke="#231f20" stroke-width="2.1" />
<circle cx="920.9" cy="1557.2" r="4.7" fill="none" stroke="#231f20" stroke-width="2"/>
<circle cx="935.2" cy="1560.8" r="4.7" fill="none" stroke="#231f20" stroke-width="2"/>
<circle cx="928.3" cy="1637.7" r="4.7" fill="none" stroke="#231f20" stroke-width="2"/>
<line x1="1035.1" y1="1690.6" x2="1035.1" y2="1704.1" stroke="#231f20" stroke-width="2.2" />
<text transform="translate(1035.1 1739.6) scale(1 1.045)" font-size="33" text-anchor="middle">NC_2</text>
<line x1="1017.8" y1="1576.9" x2="1052.3999999999999" y2="1576.9" stroke="#231f20" stroke-width="2.1" />
<line x1="1017.8" y1="1610.2" x2="1052.3999999999999" y2="1610.2" stroke="#231f20" stroke-width="2.1" />
<line x1="1035.1" y1="1576.9" x2="1035.1" y2="1610.2" stroke="#231f20" stroke-width="2.1" />
<circle cx="1035.1" cy="1565.4" r="4.7" fill="none" stroke="#231f20" stroke-width="2"/>
<circle cx="1035.1" cy="1591.7" r="4.7" fill="none" stroke="#231f20" stroke-width="2"/>
<circle cx="1035.1" cy="1623.7" r="4.7" fill="none" stroke="#231f20" stroke-width="2"/>
<text x="63.7" y="1450.15" font-size="33" text-anchor="middle" transform="rotate(-90 63.7 1450.15)" >Fold decrease deletion over wt</text>
<text x="1089" y="1236.3" font-size="33" text-anchor="end" >Sgs1-Myc</text>
<rect x="953.6" y="1291.6" width="27.8" height="27.8" fill="#8b8c90" stroke="#2b2829" stroke-width="1.2"/>
<text x="1088.5" y="1296.8" font-size="33" text-anchor="end" font-style="italic">zuo1<tspan font-size="31" dx="1.5" textLength="16.5" lengthAdjust="spacingAndGlyphs">Δ</tspan></text>
<line x1="994.8" y1="1305.5" x2="1089.7" y2="1305.5" stroke="#231f20" stroke-width="2.3" />
<text x="1043.5" y="1332.6" font-size="33" text-anchor="middle" >wt</text>
<line x1="129.4" y1="2224.9" x2="993.8" y2="2224.9" stroke="#231f20" stroke-width="2.6" stroke-dasharray="8.6 8.24"/>
<rect x="145.2" y="2198.7" width="71.5" height="106.2" fill="#8b8c90" stroke="#231f20" stroke-width="2.1"/>
<rect x="252" y="2162.1" width="71.1" height="142.8" fill="#8b8c90" stroke="#231f20" stroke-width="2.1"/>
<rect x="358.7" y="2130" width="71.5" height="174.9" fill="#8b8c90" stroke="#2b2829" stroke-width="1.3"/>
<rect x="465.5" y="2182.2" width="71.5" height="122.7" fill="#8b8c90" stroke="#2b2829" stroke-width="1.3"/>
<rect x="572.2" y="2188" width="70.4" height="116.9" fill="#8b8c90" stroke="#231f20" stroke-width="2.1"/>
<rect x="678.3" y="2213" width="71.5" height="91.9" fill="#8b8c90" stroke="#231f20" stroke-width="2.1"/>
<rect x="785.5" y="2190.8" width="70.7" height="114.1" fill="#8b8c90" stroke="#231f20" stroke-width="2.1"/>
<rect x="891.7" y="2231.1" width="71.1" height="73.8" fill="#8b8c90" stroke="#2b2829" stroke-width="1.3"/>
<rect x="999.1" y="2208.1" width="70.3" height="96.8" fill="#8b8c90" stroke="#231f20" stroke-width="2.1"/>
<line x1="127.3" y1="1822.05" x2="127.3" y2="2307.2500000000005" stroke="#231f20" stroke-width="2.1" />
<line x1="115.0" y1="2304.9" x2="127.3" y2="2304.9" stroke="#231f20" stroke-width="2.1" />
<text transform="translate(104.2 2316.2) scale(1 1.045)" font-size="33" text-anchor="end">0</text>
<line x1="115.0" y1="2224.883333333333" x2="127.3" y2="2224.883333333333" stroke="#231f20" stroke-width="2.1" />
<text transform="translate(104.2 2236.2) scale(1 1.045)" font-size="33" text-anchor="end">1</text>
<line x1="115.0" y1="2144.866666666667" x2="127.3" y2="2144.866666666667" stroke="#231f20" stroke-width="2.1" />
<text transform="translate(104.2 2156.2) scale(1 1.045)" font-size="33" text-anchor="end">2</text>
<line x1="115.0" y1="2064.85" x2="127.3" y2="2064.85" stroke="#231f20" stroke-width="2.1" />
<text transform="translate(104.2 2076.2) scale(1 1.045)" font-size="33" text-anchor="end">3</text>
<line x1="115.0" y1="1984.8333333333333" x2="127.3" y2="1984.8333333333333" stroke="#231f20" stroke-width="2.1" />
<text transform="translate(104.2 1996.1) scale(1 1.045)" font-size="33" text-anchor="end">4</text>
<line x1="115.0" y1="1904.8166666666666" x2="127.3" y2="1904.8166666666666" stroke="#231f20" stroke-width="2.1" />
<text transform="translate(104.2 1916.1) scale(1 1.045)" font-size="33" text-anchor="end">5</text>
<line x1="115.0" y1="1824.8" x2="127.3" y2="1824.8" stroke="#231f20" stroke-width="2.1" />
<text transform="translate(104.2 1836.1) scale(1 1.045)" font-size="33" text-anchor="end">6</text>
<line x1="115.0" y1="2304.9" x2="1090.5" y2="2304.9" stroke="#231f20" stroke-width="2.2" />
<line x1="180.8" y1="2304.9" x2="180.8" y2="2318.4" stroke="#231f20" stroke-width="2.2" />
<text transform="translate(180.8 2354) scale(1 1.045)" font-size="33" text-anchor="middle">G4_1</text>
<line x1="163.5" y1="2188" x2="198.10000000000002" y2="2188" stroke="#231f20" stroke-width="2.1" />
<line x1="163.5" y1="2209.3" x2="198.10000000000002" y2="2209.3" stroke="#231f20" stroke-width="2.1" />
<line x1="180.8" y1="2188" x2="180.8" y2="2209.3" stroke="#231f20" stroke-width="2.1" />
<circle cx="180.8" cy="2145.6" r="4.7" fill="none" stroke="#231f20" stroke-width="2"/>
<circle cx="180.8" cy="2165.4" r="4.7" fill="none" stroke="#231f20" stroke-width="2"/>
<circle cx="188.2" cy="2190.8" r="4.7" fill="none" stroke="#231f20" stroke-width="2"/>
<circle cx="173.4" cy="2194.5" r="4.7" fill="none" stroke="#231f20" stroke-width="2"/>
<circle cx="180.8" cy="2213" r="4.7" fill="none" stroke="#231f20" stroke-width="2"/>
<circle cx="166" cy="2223.3" r="4.7" fill="none" stroke="#231f20" stroke-width="2"/>
<circle cx="180.8" cy="2229" r="4.7" fill="none" stroke="#231f20" stroke-width="2"/>
<circle cx="195.6" cy="2227.8" r="4.7" fill="none" stroke="#231f20" stroke-width="2"/>
<text x="182.0" y="2141.6" font-size="28.5" text-anchor="middle" letter-spacing="2.3">**</text>
<line x1="287.2" y1="2304.9" x2="287.2" y2="2318.4" stroke="#231f20" stroke-width="2.2" />
<text transform="translate(287.2 2354) scale(1 1.045)" font-size="33" text-anchor="middle">G4_2</text>
<line x1="269.9" y1="2138.3" x2="304.5" y2="2138.3" stroke="#231f20" stroke-width="2.1" />
<line x1="269.9" y1="2186.3" x2="304.5" y2="2186.3" stroke="#231f20" stroke-width="2.1" />
<line x1="287.2" y1="2138.3" x2="287.2" y2="2186.3" stroke="#231f20" stroke-width="2.1" />
<circle cx="287.2" cy="2054" r="4.7" fill="none" stroke="#231f20" stroke-width="2"/>
<circle cx="287.2" cy="2100" r="4.7" fill="none" stroke="#231f20" stroke-width="2"/>
<circle cx="287.2" cy="2121.4" r="4.7" fill="none" stroke="#231f20" stroke-width="2"/>
<circle cx="287.2" cy="2154.3" r="4.7" fill="none" stroke="#231f20" stroke-width="2"/>
<circle cx="287.2" cy="2181.4" r="4.7" fill="none" stroke="#231f20" stroke-width="2"/>
<circle cx="280.2" cy="2215.1" r="4.7" fill="none" stroke="#231f20" stroke-width="2"/>
<circle cx="294.6" cy="2220.8" r="4.7" fill="none" stroke="#231f20" stroke-width="2"/>
<circle cx="287.2" cy="2252.9" r="4.7" fill="none" stroke="#231f20" stroke-width="2"/>
<text x="288.3" y="2048.3" font-size="28.5" text-anchor="middle" letter-spacing="2.3">*</text>
<line x1="394" y1="2304.9" x2="394" y2="2318.4" stroke="#231f20" stroke-width="2.2" />
<text transform="translate(394 2354) scale(1 1.045)" font-size="33" text-anchor="middle">G4_3</text>
<line x1="376.7" y1="2094.3" x2="411.3" y2="2094.3" stroke="#231f20" stroke-width="2.1" />
<line x1="376.7" y1="2166.6" x2="411.3" y2="2166.6" stroke="#231f20" stroke-width="2.1" />
<line x1="394" y1="2094.3" x2="394" y2="2166.6" stroke="#231f20" stroke-width="2.1" />
<circle cx="394" cy="1919.7" r="4.7" fill="none" stroke="#231f20" stroke-width="2"/>
<circle cx="387" cy="2082" r="4.7" fill="none" stroke="#231f20" stroke-width="2"/>
<circle cx="401.8" cy="2083.6" r="4.7" fill="none" stroke="#231f20" stroke-width="2"/>
<circle cx="401.8" cy="2147.7" r="4.7" fill="none" stroke="#231f20" stroke-width="2"/>
<circle cx="387" cy="2156.3" r="4.7" fill="none" stroke="#231f20" stroke-width="2"/>
<circle cx="394" cy="2180.6" r="4.7" fill="none" stroke="#231f20" stroke-width="2"/>
<circle cx="401.8" cy="2234.8" r="4.7" fill="none" stroke="#231f20" stroke-width="2"/>
<circle cx="387" cy="2237.7" r="4.7" fill="none" stroke="#231f20" stroke-width="2"/>
<text x="395.1" y="2077.9" font-size="28.5" text-anchor="middle" letter-spacing="2.3">**</text>
<line x1="500.8" y1="2304.9" x2="500.8" y2="2318.4" stroke="#231f20" stroke-width="2.2" />
<text transform="translate(500.8 2354) scale(1 1.045)" font-size="33" text-anchor="middle">G4_4</text>
<line x1="483.5" y1="2151.4" x2="518.1" y2="2151.4" stroke="#231f20" stroke-width="2.1" />
<line x1="483.5" y1="2213" x2="518.1" y2="2213" stroke="#231f20" stroke-width="2.1" />
<line x1="500.8" y1="2151.4" x2="500.8" y2="2213" stroke="#231f20" stroke-width="2.1" />
<circle cx="500.8" cy="2033.5" r="4.7" fill="none" stroke="#231f20" stroke-width="2"/>
<circle cx="500.8" cy="2119.4" r="4.7" fill="none" stroke="#231f20" stroke-width="2"/>
<circle cx="500.8" cy="2184.3" r="4.7" fill="none" stroke="#231f20" stroke-width="2"/>
<circle cx="508.2" cy="2200.3" r="4.7" fill="none" stroke="#231f20" stroke-width="2"/>
<circle cx="493.4" cy="2215.1" r="4.7" fill="none" stroke="#231f20" stroke-width="2"/>
<circle cx="500.8" cy="2252.9" r="4.7" fill="none" stroke="#231f20" stroke-width="2"/>
<circle cx="500.8" cy="2268.9" r="4.7" fill="none" stroke="#231f20" stroke-width="2"/>
<text x="501.9" y="2026.6" font-size="28.5" text-anchor="middle" letter-spacing="2.3">*</text>
<line x1="607.4" y1="2304.9" x2="607.4" y2="2318.4" stroke="#231f20" stroke-width="2.2" />
<text transform="translate(607.4 2354) scale(1 1.045)" font-size="33" text-anchor="middle">G4_5</text>
<line x1="590.1" y1="2172.8" x2="624.6999999999999" y2="2172.8" stroke="#231f20" stroke-width="2.1" />
<line x1="590.1" y1="2202.8" x2="624.6999999999999" y2="2202.8" stroke="#231f20" stroke-width="2.1" />
<line x1="607.4" y1="2172.8" x2="607.4" y2="2202.8" stroke="#231f20" stroke-width="2.1" />
<circle cx="607.8" cy="2108.3" r="4.7" fill="none" stroke="#231f20" stroke-width="2"/>
<circle cx="607.8" cy="2146.5" r="4.7" fill="none" stroke="#231f20" stroke-width="2"/>
<circle cx="607.8" cy="2168.2" r="4.7" fill="none" stroke="#231f20" stroke-width="2"/>
<circle cx="607.8" cy="2197.8" r="4.7" fill="none" stroke="#231f20" stroke-width="2"/>
<circle cx="585.6" cy="2217.1" r="4.7" fill="none" stroke="#231f20" stroke-width="2"/>
<circle cx="629.6" cy="2216.3" r="4.7" fill="none" stroke="#231f20" stroke-width="2"/>
<circle cx="614.8" cy="2221.2" r="4.7" fill="none" stroke="#231f20" stroke-width="2"/>
<circle cx="600.4" cy="2228.6" r="4.7" fill="none" stroke="#231f20" stroke-width="2"/>
<text x="608.5" y="2102.6" font-size="28.5" text-anchor="middle" letter-spacing="2.3">**</text>
<line x1="713.8" y1="2304.9" x2="713.8" y2="2318.4" stroke="#231f20" stroke-width="2.2" />
<text transform="translate(713.8 2354) scale(1 1.045)" font-size="33" text-anchor="middle">G4_6</text>
<line x1="696.5" y1="2197" x2="731.0999999999999" y2="2197" stroke="#231f20" stroke-width="2.1" />
<line x1="696.5" y1="2229.9" x2="731.0999999999999" y2="2229.9" stroke="#231f20" stroke-width="2.1" />
<line x1="713.8" y1="2197" x2="713.8" y2="2229.9" stroke="#231f20" stroke-width="2.1" />
<circle cx="721.2" cy="2162.9" r="4.7" fill="none" stroke="#231f20" stroke-width="2"/>
<circle cx="706.4" cy="2169.9" r="4.7" fill="none" stroke="#231f20" stroke-width="2"/>
<circle cx="706.4" cy="2219.2" r="4.7" fill="none" stroke="#231f20" stroke-width="2"/>
<circle cx="721.2" cy="2220.4" r="4.7" fill="none" stroke="#231f20" stroke-width="2"/>
<circle cx="721.2" cy="2250" r="4.7" fill="none" stroke="#231f20" stroke-width="2"/>
<circle cx="706.4" cy="2259" r="4.7" fill="none" stroke="#231f20" stroke-width="2"/>
<line x1="820.4" y1="2304.9" x2="820.4" y2="2318.4" stroke="#231f20" stroke-width="2.2" />
<text transform="translate(820.4 2354) scale(1 1.045)" font-size="33" text-anchor="middle">G4_7</text>
<line x1="803.1" y1="2171.9" x2="837.6999999999999" y2="2171.9" stroke="#231f20" stroke-width="2.1" />
<line x1="803.1" y1="2208.9" x2="837.6999999999999" y2="2208.9" stroke="#231f20" stroke-width="2.1" />
<line x1="820.4" y1="2171.9" x2="820.4" y2="2208.9" stroke="#231f20" stroke-width="2.1" />
<circle cx="813.2" cy="2113.6" r="4.7" fill="none" stroke="#231f20" stroke-width="2"/>
<circle cx="828.4" cy="2116.9" r="4.7" fill="none" stroke="#231f20" stroke-width="2"/>
<circle cx="828.4" cy="2177.3" r="4.7" fill="none" stroke="#231f20" stroke-width="2"/>
<circle cx="813.2" cy="2190.4" r="4.7" fill="none" stroke="#231f20" stroke-width="2"/>
<circle cx="813.2" cy="2216.7" r="4.7" fill="none" stroke="#231f20" stroke-width="2"/>
<circle cx="828.4" cy="2222.5" r="4.7" fill="none" stroke="#231f20" stroke-width="2"/>
<circle cx="828.4" cy="2239.7" r="4.7" fill="none" stroke="#231f20" stroke-width="2"/>
<circle cx="813.2" cy="2250.4" r="4.7" fill="none" stroke="#231f20" stroke-width="2"/>
<text x="821.5" y="2108.6" font-size="28.5" text-anchor="middle" letter-spacing="2.3">*</text>
<line x1="927" y1="2304.9" x2="927" y2="2318.4" stroke="#231f20" stroke-width="2.2" />
<text transform="translate(927 2354) scale(1 1.045)" font-size="33" text-anchor="middle">NC_1</text>
<line x1="909.7" y1="2194.5" x2="944.3" y2="2194.5" stroke="#231f20" stroke-width="2.1" />
<line x1="909.7" y1="2266.8" x2="944.3" y2="2266.8" stroke="#231f20" stroke-width="2.1" />
<line x1="927" y1="2194.5" x2="927" y2="2266.8" stroke="#231f20" stroke-width="2.1" />
<circle cx="927" cy="2166.6" r="4.7" fill="none" stroke="#231f20" stroke-width="2"/>
<circle cx="927" cy="2235.6" r="4.7" fill="none" stroke="#231f20" stroke-width="2"/>
<circle cx="927" cy="2291.5" r="4.7" fill="none" stroke="#231f20" stroke-width="2"/>
<line x1="1034" y1="2304.9" x2="1034" y2="2318.4" stroke="#231f20" stroke-width="2.2" />
<text transform="translate(1034 2354) scale(1 1.045)" font-size="33" text-anchor="middle">NC_2</text>
<line x1="1016.7" y1="2194.1" x2="1051.3" y2="2194.1" stroke="#231f20" stroke-width="2.1" />
<line x1="1016.7" y1="2223.3" x2="1051.3" y2="2223.3" stroke="#231f20" stroke-width="2.1" />
<line x1="1034" y1="2194.1" x2="1034" y2="2223.3" stroke="#231f20" stroke-width="2.1" />
<circle cx="1034.3" cy="2186.3" r="4.7" fill="none" stroke="#231f20" stroke-width="2"/>
<circle cx="1034.3" cy="2203.2" r="4.7" fill="none" stroke="#231f20" stroke-width="2"/>
<circle cx="1034.3" cy="2236.4" r="4.7" fill="none" stroke="#231f20" stroke-width="2"/>
<text x="63.7" y="2064.85" font-size="33" text-anchor="middle" transform="rotate(-90 63.7 2064.85)" >Fold decrease deletion over wt</text>
<text x="1089" y="1852.7" font-size="33" text-anchor="end" >Pif1-Myc</text>
<rect x="953.6" y="1907.9" width="27.8" height="27.8" fill="#8b8c90" stroke="#2b2829" stroke-width="1.2"/>
<text x="1088.5" y="1913.1000000000001" font-size="33" text-anchor="end" font-style="italic">zuo1<tspan font-size="31" dx="1.5" textLength="16.5" lengthAdjust="spacingAndGlyphs">Δ</tspan></text>
<line x1="994.8" y1="1921.8000000000002" x2="1089.7" y2="1921.8000000000002" stroke="#231f20" stroke-width="2.3" />
<text x="1043.5" y="1948.9" font-size="33" text-anchor="middle" >wt</text>
</svg>
</body></html>
